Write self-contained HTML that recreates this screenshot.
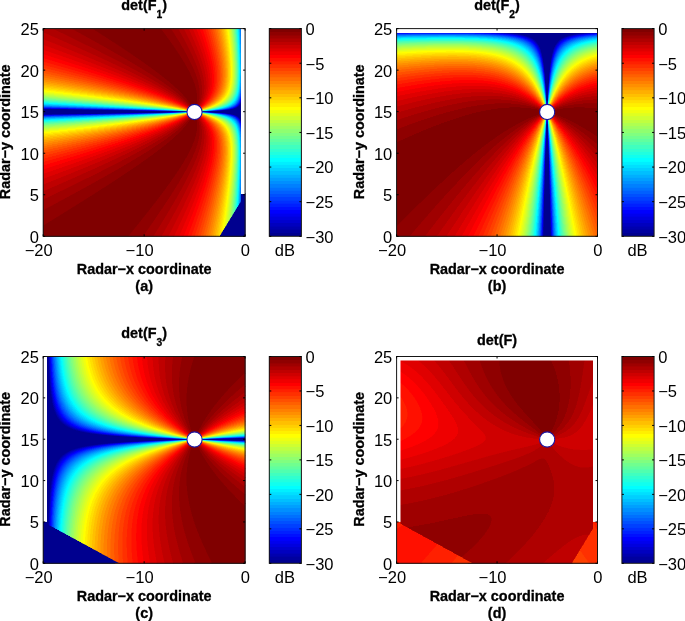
<!DOCTYPE html>
<html><head><meta charset="utf-8"><style>
html,body{margin:0;padding:0;background:#fff;}
body{width:685px;height:621px;position:relative;overflow:hidden;}
canvas{position:absolute;display:block;}
svg{position:absolute;left:0;top:0;}
.ax{fill:none;stroke:#151515;stroke-width:1;}
.tk{stroke:#000;stroke-width:1;}
.tl{font-family:"Liberation Sans",Arial,sans-serif;font-size:15.6px;fill:#000;}
.lb{font-family:"Liberation Sans",Arial,sans-serif;font-size:14.4px;font-weight:bold;fill:#000;stroke:#000;stroke-width:0.3px;}
.sub{font-size:10.3px;}
.mk{fill:#fff;stroke:#1a14a0;stroke-width:1.1;}
</style></head><body>
<svg width="685" height="621" viewBox="0 0 685 621"><path fill="#af0000" d="M43.2 28.6h17.2v4.7h-17.2zM177.8 28.6h8.8v4.7h-8.8zM51.6 32.9h17.2v4.7h-17.2zM182.0 32.9h4.6v4.7h-4.6zM60.0 37.3h17.2v4.7h-17.2zM186.2 37.3h4.6v4.7h-4.6zM68.4 41.6h17.2v4.7h-17.2zM186.2 41.6h4.6v4.7h-4.6zM81.1 45.9h13.0v4.7h-13.0zM190.4 45.9h4.6v4.7h-4.6zM89.5 50.2h13.0v4.7h-13.0zM190.4 50.2h4.6v4.7h-4.6zM97.9 54.6h13.0v4.7h-13.0zM194.6 54.6h4.6v4.7h-4.6zM106.3 58.9h13.0v4.7h-13.0zM194.6 58.9h4.6v4.7h-4.6zM118.9 63.2h8.8v4.7h-8.8zM194.6 63.2h4.6v4.7h-4.6zM127.3 67.5h8.8v4.7h-8.8zM198.8 67.5h4.6v4.7h-4.6zM135.7 71.9h8.8v4.7h-8.8zM198.8 71.9h4.6v4.7h-4.6zM144.1 76.2h8.8v4.7h-8.8zM198.8 76.2h4.6v4.7h-4.6zM152.6 80.5h4.6v4.7h-4.6zM161.0 84.9h4.6v4.7h-4.6zM169.4 89.2h4.6v4.7h-4.6zM173.6 93.5h4.6v4.7h-4.6zM198.8 97.8h4.6v4.7h-4.6zM194.6 106.5h4.6v4.7h-4.6zM182.0 119.5h4.6v4.7h-4.6zM198.8 119.5h4.6v4.7h-4.6zM177.8 123.8h4.6v4.7h-4.6zM169.4 128.1h4.6v4.7h-4.6zM165.2 132.4h4.6v4.7h-4.6zM156.8 136.8h4.6v4.7h-4.6zM148.4 141.1h4.6v4.7h-4.6zM139.9 145.4h4.6v4.7h-4.6zM198.8 145.4h4.6v4.7h-4.6zM131.5 149.8h8.8v4.7h-8.8zM198.8 149.8h4.6v4.7h-4.6zM123.1 154.1h8.8v4.7h-8.8zM110.5 158.4h13.0v4.7h-13.0zM194.6 158.4h4.6v4.7h-4.6zM102.1 162.7h13.0v4.7h-13.0zM194.6 162.7h4.6v4.7h-4.6zM93.7 167.1h13.0v4.7h-13.0zM190.4 167.1h4.6v4.7h-4.6zM85.3 171.4h13.0v4.7h-13.0zM190.4 171.4h4.6v4.7h-4.6zM72.6 175.7h17.2v4.7h-17.2zM186.2 175.7h4.6v4.7h-4.6zM64.2 180.0h17.2v4.7h-17.2zM186.2 180.0h4.6v4.7h-4.6zM55.8 184.4h17.2v4.7h-17.2zM182.0 184.4h4.6v4.7h-4.6zM43.2 188.7h17.2v4.7h-17.2zM182.0 188.7h4.6v4.7h-4.6zM43.2 193.0h8.8v4.7h-8.8zM177.8 193.0h4.6v4.7h-4.6zM177.8 197.4h4.6v4.7h-4.6zM173.6 201.7h4.6v4.7h-4.6zM169.4 206.0h8.8v4.7h-8.8zM169.4 210.3h4.6v4.7h-4.6zM165.2 214.7h8.8v4.7h-8.8zM161.0 219.0h8.8v4.7h-8.8zM161.0 223.3h8.8v4.7h-8.8zM156.8 227.6h8.8v4.7h-8.8zM156.8 232.0h4.6v4.7h-4.6z"/><path fill="#9f0000" d="M60.0 28.6h17.2v4.7h-17.2zM173.6 28.6h4.6v4.7h-4.6zM68.4 32.9h17.2v4.7h-17.2zM173.6 32.9h8.8v4.7h-8.8zM76.8 37.3h17.2v4.7h-17.2zM177.8 37.3h8.8v4.7h-8.8zM85.3 41.6h13.0v4.7h-13.0zM182.0 41.6h4.6v4.7h-4.6zM93.7 45.9h13.0v4.7h-13.0zM182.0 45.9h8.8v4.7h-8.8zM102.1 50.2h13.0v4.7h-13.0zM186.2 50.2h4.6v4.7h-4.6zM110.5 54.6h13.0v4.7h-13.0zM186.2 54.6h8.8v4.7h-8.8zM118.9 58.9h13.0v4.7h-13.0zM190.4 58.9h4.6v4.7h-4.6zM127.3 63.2h8.8v4.7h-8.8zM190.4 63.2h4.6v4.7h-4.6zM135.7 67.5h8.8v4.7h-8.8zM194.6 67.5h4.6v4.7h-4.6zM144.1 71.9h8.8v4.7h-8.8zM194.6 71.9h4.6v4.7h-4.6zM152.6 76.2h4.6v4.7h-4.6zM156.8 80.5h8.8v4.7h-8.8zM198.8 80.5h4.6v4.7h-4.6zM165.2 84.9h4.6v4.7h-4.6zM198.8 84.9h4.6v4.7h-4.6zM198.8 89.2h4.6v4.7h-4.6zM177.8 93.5h4.6v4.7h-4.6zM198.8 93.5h4.6v4.7h-4.6zM182.0 97.8h4.6v4.7h-4.6zM186.2 102.2h4.6v4.7h-4.6zM190.4 106.5h4.6v4.7h-4.6zM198.8 123.8h4.6v4.7h-4.6zM173.6 128.1h4.6v4.7h-4.6zM198.8 128.1h4.6v4.7h-4.6zM169.4 132.4h4.6v4.7h-4.6zM198.8 132.4h4.6v4.7h-4.6zM161.0 136.8h4.6v4.7h-4.6zM198.8 136.8h4.6v4.7h-4.6zM152.6 141.1h8.8v4.7h-8.8zM198.8 141.1h4.6v4.7h-4.6zM144.1 145.4h8.8v4.7h-8.8zM194.6 145.4h4.6v4.7h-4.6zM139.9 149.8h8.8v4.7h-8.8zM194.6 149.8h4.6v4.7h-4.6zM131.5 154.1h8.8v4.7h-8.8zM194.6 154.1h4.6v4.7h-4.6zM123.1 158.4h8.8v4.7h-8.8zM190.4 158.4h4.6v4.7h-4.6zM114.7 162.7h13.0v4.7h-13.0zM190.4 162.7h4.6v4.7h-4.6zM106.3 167.1h13.0v4.7h-13.0zM186.2 167.1h4.6v4.7h-4.6zM97.9 171.4h13.0v4.7h-13.0zM186.2 171.4h4.6v4.7h-4.6zM89.5 175.7h13.0v4.7h-13.0zM182.0 175.7h4.6v4.7h-4.6zM81.1 180.0h13.0v4.7h-13.0zM177.8 180.0h8.8v4.7h-8.8zM72.6 184.4h13.0v4.7h-13.0zM177.8 184.4h4.6v4.7h-4.6zM60.0 188.7h21.4v4.7h-21.4zM173.6 188.7h8.8v4.7h-8.8zM51.6 193.0h21.4v4.7h-21.4zM169.4 193.0h8.8v4.7h-8.8zM43.2 197.4h21.4v4.7h-21.4zM169.4 197.4h8.8v4.7h-8.8zM43.2 201.7h13.0v4.7h-13.0zM165.2 201.7h8.8v4.7h-8.8zM43.2 206.0h4.6v4.7h-4.6zM161.0 206.0h8.8v4.7h-8.8zM161.0 210.3h8.8v4.7h-8.8zM156.8 214.7h8.8v4.7h-8.8zM152.6 219.0h8.8v4.7h-8.8zM152.6 223.3h8.8v4.7h-8.8zM148.4 227.6h8.8v4.7h-8.8zM144.1 232.0h13.0v4.7h-13.0z"/><path fill="#8f0000" d="M76.8 28.6h21.4v4.7h-21.4zM161.0 28.6h13.0v4.7h-13.0zM85.3 32.9h17.2v4.7h-17.2zM165.2 32.9h8.8v4.7h-8.8zM93.7 37.3h17.2v4.7h-17.2zM169.4 37.3h8.8v4.7h-8.8zM97.9 41.6h17.2v4.7h-17.2zM173.6 41.6h8.8v4.7h-8.8zM106.3 45.9h17.2v4.7h-17.2zM173.6 45.9h8.8v4.7h-8.8zM114.7 50.2h17.2v4.7h-17.2zM177.8 50.2h8.8v4.7h-8.8zM123.1 54.6h13.0v4.7h-13.0zM182.0 54.6h4.6v4.7h-4.6zM131.5 58.9h13.0v4.7h-13.0zM182.0 58.9h8.8v4.7h-8.8zM135.7 63.2h13.0v4.7h-13.0zM186.2 63.2h4.6v4.7h-4.6zM144.1 67.5h8.8v4.7h-8.8zM190.4 67.5h4.6v4.7h-4.6zM152.6 71.9h8.8v4.7h-8.8zM190.4 71.9h4.6v4.7h-4.6zM156.8 76.2h8.8v4.7h-8.8zM194.6 76.2h4.6v4.7h-4.6zM165.2 80.5h4.6v4.7h-4.6zM194.6 80.5h4.6v4.7h-4.6zM169.4 84.9h4.6v4.7h-4.6zM194.6 84.9h4.6v4.7h-4.6zM173.6 89.2h8.8v4.7h-8.8zM194.6 89.2h4.6v4.7h-4.6zM194.6 115.1h4.6v4.7h-4.6zM186.2 119.5h4.6v4.7h-4.6zM182.0 123.8h4.6v4.7h-4.6zM177.8 128.1h4.6v4.7h-4.6zM173.6 132.4h4.6v4.7h-4.6zM194.6 132.4h4.6v4.7h-4.6zM165.2 136.8h8.8v4.7h-8.8zM194.6 136.8h4.6v4.7h-4.6zM161.0 141.1h8.8v4.7h-8.8zM194.6 141.1h4.6v4.7h-4.6zM152.6 145.4h8.8v4.7h-8.8zM190.4 145.4h4.6v4.7h-4.6zM148.4 149.8h8.8v4.7h-8.8zM190.4 149.8h4.6v4.7h-4.6zM139.9 154.1h13.0v4.7h-13.0zM186.2 154.1h8.8v4.7h-8.8zM131.5 158.4h13.0v4.7h-13.0zM186.2 158.4h4.6v4.7h-4.6zM127.3 162.7h13.0v4.7h-13.0zM182.0 162.7h8.8v4.7h-8.8zM118.9 167.1h13.0v4.7h-13.0zM177.8 167.1h8.8v4.7h-8.8zM110.5 171.4h17.2v4.7h-17.2zM177.8 171.4h8.8v4.7h-8.8zM102.1 175.7h17.2v4.7h-17.2zM173.6 175.7h8.8v4.7h-8.8zM93.7 180.0h17.2v4.7h-17.2zM169.4 180.0h8.8v4.7h-8.8zM85.3 184.4h21.4v4.7h-21.4zM169.4 184.4h8.8v4.7h-8.8zM81.1 188.7h17.2v4.7h-17.2zM165.2 188.7h8.8v4.7h-8.8zM72.6 193.0h21.4v4.7h-21.4zM161.0 193.0h8.8v4.7h-8.8zM64.2 197.4h21.4v4.7h-21.4zM156.8 197.4h13.0v4.7h-13.0zM55.8 201.7h21.4v4.7h-21.4zM152.6 201.7h13.0v4.7h-13.0zM47.4 206.0h25.6v4.7h-25.6zM152.6 206.0h8.8v4.7h-8.8zM43.2 210.3h21.4v4.7h-21.4zM148.4 210.3h13.0v4.7h-13.0zM43.2 214.7h17.2v4.7h-17.2zM144.1 214.7h13.0v4.7h-13.0zM43.2 219.0h8.8v4.7h-8.8zM139.9 219.0h13.0v4.7h-13.0zM135.7 223.3h17.2v4.7h-17.2zM135.7 227.6h13.0v4.7h-13.0zM131.5 232.0h13.0v4.7h-13.0z"/><path fill="#800000" d="M97.9 28.6h63.5v4.7h-63.5zM102.1 32.9h63.5v4.7h-63.5zM110.5 37.3h59.3v4.7h-59.3zM114.7 41.6h59.3v4.7h-59.3zM123.1 45.9h50.9v4.7h-50.9zM131.5 50.2h46.7v4.7h-46.7zM135.7 54.6h46.7v4.7h-46.7zM144.1 58.9h38.3v4.7h-38.3zM148.4 63.2h38.3v4.7h-38.3zM152.6 67.5h38.3v4.7h-38.3zM161.0 71.9h29.8v4.7h-29.8zM165.2 76.2h29.8v4.7h-29.8zM169.4 80.5h25.6v4.7h-25.6zM173.6 84.9h21.4v4.7h-21.4zM182.0 89.2h13.0v4.7h-13.0zM182.0 93.5h17.2v4.7h-17.2zM186.2 97.8h13.0v4.7h-13.0zM190.4 102.2h8.8v4.7h-8.8zM190.4 115.1h4.6v4.7h-4.6zM190.4 119.5h8.8v4.7h-8.8zM186.2 123.8h13.0v4.7h-13.0zM182.0 128.1h17.2v4.7h-17.2zM177.8 132.4h17.2v4.7h-17.2zM173.6 136.8h21.4v4.7h-21.4zM169.4 141.1h25.6v4.7h-25.6zM161.0 145.4h29.8v4.7h-29.8zM156.8 149.8h34.0v4.7h-34.0zM152.6 154.1h34.0v4.7h-34.0zM144.1 158.4h42.5v4.7h-42.5zM139.9 162.7h42.5v4.7h-42.5zM131.5 167.1h46.7v4.7h-46.7zM127.3 171.4h50.9v4.7h-50.9zM118.9 175.7h55.1v4.7h-55.1zM110.5 180.0h59.3v4.7h-59.3zM106.3 184.4h63.5v4.7h-63.5zM97.9 188.7h67.7v4.7h-67.7zM93.7 193.0h67.7v4.7h-67.7zM85.3 197.4h71.9v4.7h-71.9zM76.8 201.7h76.1v4.7h-76.1zM72.6 206.0h80.3v4.7h-80.3zM64.2 210.3h84.5v4.7h-84.5zM60.0 214.7h84.5v4.7h-84.5zM51.6 219.0h88.7v4.7h-88.7zM43.2 223.3h92.9v4.7h-92.9zM43.2 227.6h92.9v4.7h-92.9zM43.2 232.0h88.7v4.7h-88.7z"/><path fill="#bf0000" d="M186.2 28.6h4.6v4.7h-4.6zM43.2 32.9h8.8v4.7h-8.8zM186.2 32.9h4.6v4.7h-4.6zM43.2 37.3h17.2v4.7h-17.2zM190.4 37.3h4.6v4.7h-4.6zM55.8 41.6h13.0v4.7h-13.0zM190.4 41.6h4.6v4.7h-4.6zM68.4 45.9h13.0v4.7h-13.0zM194.6 45.9h4.6v4.7h-4.6zM76.8 50.2h13.0v4.7h-13.0zM194.6 50.2h4.6v4.7h-4.6zM89.5 54.6h8.8v4.7h-8.8zM97.9 58.9h8.8v4.7h-8.8zM198.8 58.9h4.6v4.7h-4.6zM106.3 63.2h13.0v4.7h-13.0zM198.8 63.2h4.6v4.7h-4.6zM118.9 67.5h8.8v4.7h-8.8zM127.3 71.9h8.8v4.7h-8.8zM203.0 71.9h4.6v4.7h-4.6zM135.7 76.2h8.8v4.7h-8.8zM203.0 76.2h4.6v4.7h-4.6zM148.4 80.5h4.6v4.7h-4.6zM203.0 80.5h4.6v4.7h-4.6zM156.8 84.9h4.6v4.7h-4.6zM203.0 84.9h4.6v4.7h-4.6zM165.2 89.2h4.6v4.7h-4.6zM203.0 89.2h4.6v4.7h-4.6zM177.8 97.8h4.6v4.7h-4.6zM186.2 115.1h4.6v4.7h-4.6zM173.6 123.8h4.6v4.7h-4.6zM203.0 128.1h4.6v4.7h-4.6zM161.0 132.4h4.6v4.7h-4.6zM203.0 132.4h4.6v4.7h-4.6zM152.6 136.8h4.6v4.7h-4.6zM203.0 136.8h4.6v4.7h-4.6zM139.9 141.1h8.8v4.7h-8.8zM203.0 141.1h4.6v4.7h-4.6zM131.5 145.4h8.8v4.7h-8.8zM203.0 145.4h4.6v4.7h-4.6zM123.1 149.8h8.8v4.7h-8.8zM110.5 154.1h13.0v4.7h-13.0zM198.8 154.1h4.6v4.7h-4.6zM102.1 158.4h8.8v4.7h-8.8zM198.8 158.4h4.6v4.7h-4.6zM93.7 162.7h8.8v4.7h-8.8zM198.8 162.7h4.6v4.7h-4.6zM81.1 167.1h13.0v4.7h-13.0zM194.6 167.1h4.6v4.7h-4.6zM72.6 171.4h13.0v4.7h-13.0zM194.6 171.4h4.6v4.7h-4.6zM60.0 175.7h13.0v4.7h-13.0zM190.4 175.7h4.6v4.7h-4.6zM51.6 180.0h13.0v4.7h-13.0zM190.4 180.0h4.6v4.7h-4.6zM43.2 184.4h13.0v4.7h-13.0zM186.2 184.4h8.8v4.7h-8.8zM186.2 188.7h4.6v4.7h-4.6zM182.0 193.0h8.8v4.7h-8.8zM182.0 197.4h4.6v4.7h-4.6zM177.8 201.7h8.8v4.7h-8.8zM177.8 206.0h4.6v4.7h-4.6zM173.6 210.3h8.8v4.7h-8.8zM173.6 214.7h4.6v4.7h-4.6zM169.4 219.0h8.8v4.7h-8.8zM169.4 223.3h4.6v4.7h-4.6zM165.2 227.6h8.8v4.7h-8.8zM161.0 232.0h8.8v4.7h-8.8z"/><path fill="#cf0000" d="M190.4 28.6h4.6v4.7h-4.6zM190.4 32.9h4.6v4.7h-4.6zM194.6 37.3h4.6v4.7h-4.6zM43.2 41.6h13.0v4.7h-13.0zM194.6 41.6h4.6v4.7h-4.6zM51.6 45.9h17.2v4.7h-17.2zM64.2 50.2h13.0v4.7h-13.0zM198.8 50.2h4.6v4.7h-4.6zM76.8 54.6h13.0v4.7h-13.0zM198.8 54.6h4.6v4.7h-4.6zM89.5 58.9h8.8v4.7h-8.8zM97.9 63.2h8.8v4.7h-8.8zM203.0 63.2h4.6v4.7h-4.6zM110.5 67.5h8.8v4.7h-8.8zM203.0 67.5h4.6v4.7h-4.6zM118.9 71.9h8.8v4.7h-8.8zM131.5 76.2h4.6v4.7h-4.6zM139.9 80.5h8.8v4.7h-8.8zM152.6 84.9h4.6v4.7h-4.6zM161.0 89.2h4.6v4.7h-4.6zM169.4 93.5h4.6v4.7h-4.6zM203.0 93.5h4.6v4.7h-4.6zM198.8 102.2h4.6v4.7h-4.6zM203.0 123.8h4.6v4.7h-4.6zM165.2 128.1h4.6v4.7h-4.6zM156.8 132.4h4.6v4.7h-4.6zM144.1 136.8h8.8v4.7h-8.8zM135.7 141.1h4.6v4.7h-4.6zM123.1 145.4h8.8v4.7h-8.8zM114.7 149.8h8.8v4.7h-8.8zM203.0 149.8h4.6v4.7h-4.6zM102.1 154.1h8.8v4.7h-8.8zM203.0 154.1h4.6v4.7h-4.6zM93.7 158.4h8.8v4.7h-8.8zM203.0 158.4h4.6v4.7h-4.6zM81.1 162.7h13.0v4.7h-13.0zM68.4 167.1h13.0v4.7h-13.0zM198.8 167.1h4.6v4.7h-4.6zM55.8 171.4h17.2v4.7h-17.2zM198.8 171.4h4.6v4.7h-4.6zM47.4 175.7h13.0v4.7h-13.0zM194.6 175.7h4.6v4.7h-4.6zM43.2 180.0h8.8v4.7h-8.8zM194.6 180.0h4.6v4.7h-4.6zM190.4 188.7h4.6v4.7h-4.6zM190.4 193.0h4.6v4.7h-4.6zM186.2 197.4h4.6v4.7h-4.6zM186.2 201.7h4.6v4.7h-4.6zM182.0 206.0h4.6v4.7h-4.6zM182.0 210.3h4.6v4.7h-4.6zM177.8 214.7h4.6v4.7h-4.6zM177.8 219.0h4.6v4.7h-4.6zM173.6 223.3h4.6v4.7h-4.6zM173.6 227.6h4.6v4.7h-4.6zM169.4 232.0h4.6v4.7h-4.6z"/><path fill="#df0000" d="M194.6 28.6h4.6v4.7h-4.6zM194.6 32.9h4.6v4.7h-4.6zM198.8 41.6h4.6v4.7h-4.6zM43.2 45.9h8.8v4.7h-8.8zM198.8 45.9h4.6v4.7h-4.6zM51.6 50.2h13.0v4.7h-13.0zM64.2 54.6h13.0v4.7h-13.0zM203.0 54.6h4.6v4.7h-4.6zM76.8 58.9h13.0v4.7h-13.0zM203.0 58.9h4.6v4.7h-4.6zM89.5 63.2h8.8v4.7h-8.8zM102.1 67.5h8.8v4.7h-8.8zM207.2 67.5h4.6v4.7h-4.6zM114.7 71.9h4.6v4.7h-4.6zM207.2 71.9h4.6v4.7h-4.6zM123.1 76.2h8.8v4.7h-8.8zM207.2 76.2h4.6v4.7h-4.6zM135.7 80.5h4.6v4.7h-4.6zM207.2 80.5h4.6v4.7h-4.6zM148.4 84.9h4.6v4.7h-4.6zM207.2 84.9h4.6v4.7h-4.6zM156.8 89.2h4.6v4.7h-4.6zM165.2 93.5h4.6v4.7h-4.6zM173.6 97.8h4.6v4.7h-4.6zM203.0 97.8h4.6v4.7h-4.6zM182.0 102.2h4.6v4.7h-4.6zM177.8 119.5h4.6v4.7h-4.6zM169.4 123.8h4.6v4.7h-4.6zM161.0 128.1h4.6v4.7h-4.6zM152.6 132.4h4.6v4.7h-4.6zM207.2 132.4h4.6v4.7h-4.6zM139.9 136.8h4.6v4.7h-4.6zM207.2 136.8h4.6v4.7h-4.6zM127.3 141.1h8.8v4.7h-8.8zM207.2 141.1h4.6v4.7h-4.6zM118.9 145.4h4.6v4.7h-4.6zM207.2 145.4h4.6v4.7h-4.6zM106.3 149.8h8.8v4.7h-8.8zM207.2 149.8h4.6v4.7h-4.6zM93.7 154.1h8.8v4.7h-8.8zM81.1 158.4h13.0v4.7h-13.0zM68.4 162.7h13.0v4.7h-13.0zM203.0 162.7h4.6v4.7h-4.6zM55.8 167.1h13.0v4.7h-13.0zM203.0 167.1h4.6v4.7h-4.6zM43.2 171.4h13.0v4.7h-13.0zM43.2 175.7h4.6v4.7h-4.6zM198.8 175.7h4.6v4.7h-4.6zM198.8 180.0h4.6v4.7h-4.6zM194.6 184.4h4.6v4.7h-4.6zM194.6 188.7h4.6v4.7h-4.6zM190.4 197.4h4.6v4.7h-4.6zM190.4 201.7h4.6v4.7h-4.6zM186.2 206.0h4.6v4.7h-4.6zM186.2 210.3h4.6v4.7h-4.6zM182.0 214.7h4.6v4.7h-4.6zM182.0 219.0h4.6v4.7h-4.6zM177.8 223.3h4.6v4.7h-4.6zM177.8 227.6h4.6v4.7h-4.6zM173.6 232.0h8.8v4.7h-8.8z"/><path fill="#ff0000" d="M198.8 28.6h4.6v4.7h-4.6zM203.0 37.3h4.6v4.7h-4.6zM203.0 41.6h4.6v4.7h-4.6zM207.2 50.2h4.6v4.7h-4.6zM43.2 54.6h8.8v4.7h-8.8zM207.2 54.6h4.6v4.7h-4.6zM55.8 58.9h8.8v4.7h-8.8zM68.4 63.2h8.8v4.7h-8.8zM81.1 67.5h13.0v4.7h-13.0zM97.9 71.9h8.8v4.7h-8.8zM211.4 71.9h4.6v4.7h-4.6zM110.5 76.2h8.8v4.7h-8.8zM211.4 76.2h4.6v4.7h-4.6zM123.1 80.5h8.8v4.7h-8.8zM211.4 80.5h4.6v4.7h-4.6zM135.7 84.9h4.6v4.7h-4.6zM148.4 89.2h4.6v4.7h-4.6zM161.0 93.5h4.6v4.7h-4.6zM207.2 93.5h4.6v4.7h-4.6zM169.4 97.8h4.6v4.7h-4.6zM173.6 119.5h4.6v4.7h-4.6zM165.2 123.8h4.6v4.7h-4.6zM207.2 123.8h4.6v4.7h-4.6zM152.6 128.1h4.6v4.7h-4.6zM139.9 132.4h4.6v4.7h-4.6zM127.3 136.8h8.8v4.7h-8.8zM211.4 136.8h4.6v4.7h-4.6zM114.7 141.1h8.8v4.7h-8.8zM211.4 141.1h4.6v4.7h-4.6zM102.1 145.4h8.8v4.7h-8.8zM211.4 145.4h4.6v4.7h-4.6zM89.5 149.8h8.8v4.7h-8.8zM211.4 149.8h4.6v4.7h-4.6zM72.6 154.1h13.0v4.7h-13.0zM60.0 158.4h13.0v4.7h-13.0zM47.4 162.7h8.8v4.7h-8.8zM207.2 162.7h4.6v4.7h-4.6zM207.2 167.1h4.6v4.7h-4.6zM203.0 180.0h4.6v4.7h-4.6zM203.0 184.4h4.6v4.7h-4.6zM198.8 193.0h4.6v4.7h-4.6zM198.8 197.4h4.6v4.7h-4.6zM194.6 201.7h4.6v4.7h-4.6zM194.6 206.0h4.6v4.7h-4.6zM190.4 214.7h4.6v4.7h-4.6zM190.4 219.0h4.6v4.7h-4.6zM186.2 223.3h4.6v4.7h-4.6zM186.2 227.6h4.6v4.7h-4.6zM186.2 232.0h4.6v4.7h-4.6z"/><path fill="#ff1000" d="M203.0 28.6h4.6v4.7h-4.6zM203.0 32.9h4.6v4.7h-4.6zM207.2 41.6h4.6v4.7h-4.6zM207.2 45.9h4.6v4.7h-4.6zM43.2 58.9h13.0v4.7h-13.0zM211.4 58.9h4.6v4.7h-4.6zM55.8 63.2h13.0v4.7h-13.0zM211.4 63.2h4.6v4.7h-4.6zM72.6 67.5h8.8v4.7h-8.8zM211.4 67.5h4.6v4.7h-4.6zM89.5 71.9h8.8v4.7h-8.8zM102.1 76.2h8.8v4.7h-8.8zM118.9 80.5h4.6v4.7h-4.6zM131.5 84.9h4.6v4.7h-4.6zM211.4 84.9h4.6v4.7h-4.6zM144.1 89.2h4.6v4.7h-4.6zM211.4 89.2h4.6v4.7h-4.6zM156.8 93.5h4.6v4.7h-4.6zM177.8 102.2h4.6v4.7h-4.6zM190.4 110.8h8.8v4.7h-8.8zM182.0 115.1h4.6v4.7h-4.6zM161.0 123.8h4.6v4.7h-4.6zM148.4 128.1h4.6v4.7h-4.6zM135.7 132.4h4.6v4.7h-4.6zM211.4 132.4h4.6v4.7h-4.6zM123.1 136.8h4.6v4.7h-4.6zM110.5 141.1h4.6v4.7h-4.6zM93.7 145.4h8.8v4.7h-8.8zM81.1 149.8h8.8v4.7h-8.8zM64.2 154.1h8.8v4.7h-8.8zM211.4 154.1h4.6v4.7h-4.6zM47.4 158.4h13.0v4.7h-13.0zM211.4 158.4h4.6v4.7h-4.6zM43.2 162.7h4.6v4.7h-4.6zM207.2 171.4h4.6v4.7h-4.6zM207.2 175.7h4.6v4.7h-4.6zM203.0 188.7h4.6v4.7h-4.6zM203.0 193.0h4.6v4.7h-4.6zM198.8 201.7h4.6v4.7h-4.6zM198.8 206.0h4.6v4.7h-4.6zM194.6 210.3h4.6v4.7h-4.6zM194.6 214.7h4.6v4.7h-4.6zM194.6 219.0h4.6v4.7h-4.6zM190.4 223.3h4.6v4.7h-4.6zM190.4 227.6h4.6v4.7h-4.6z"/><path fill="#ff3000" d="M207.2 28.6h4.6v4.7h-4.6zM211.4 41.6h4.6v4.7h-4.6zM211.4 45.9h4.6v4.7h-4.6zM43.2 63.2h4.6v4.7h-4.6zM215.7 63.2h4.6v4.7h-4.6zM51.6 67.5h13.0v4.7h-13.0zM215.7 67.5h4.6v4.7h-4.6zM68.4 71.9h13.0v4.7h-13.0zM215.7 71.9h4.6v4.7h-4.6zM85.3 76.2h8.8v4.7h-8.8zM215.7 76.2h4.6v4.7h-4.6zM102.1 80.5h8.8v4.7h-8.8zM215.7 80.5h4.6v4.7h-4.6zM118.9 84.9h8.8v4.7h-8.8zM135.7 89.2h4.6v4.7h-4.6zM211.4 93.5h4.6v4.7h-4.6zM186.2 106.5h4.6v4.7h-4.6zM169.4 119.5h4.6v4.7h-4.6zM156.8 123.8h4.6v4.7h-4.6zM139.9 128.1h4.6v4.7h-4.6zM127.3 132.4h4.6v4.7h-4.6zM110.5 136.8h4.6v4.7h-4.6zM215.7 136.8h4.6v4.7h-4.6zM93.7 141.1h8.8v4.7h-8.8zM215.7 141.1h4.6v4.7h-4.6zM76.8 145.4h8.8v4.7h-8.8zM215.7 145.4h4.6v4.7h-4.6zM60.0 149.8h8.8v4.7h-8.8zM215.7 149.8h4.6v4.7h-4.6zM43.2 154.1h8.8v4.7h-8.8zM215.7 154.1h4.6v4.7h-4.6zM211.4 171.4h4.6v4.7h-4.6zM211.4 175.7h4.6v4.7h-4.6zM207.2 188.7h4.6v4.7h-4.6zM207.2 193.0h4.6v4.7h-4.6zM203.0 206.0h4.6v4.7h-4.6zM198.8 219.0h4.6v4.7h-4.6zM198.8 223.3h4.6v4.7h-4.6zM194.6 232.0h4.6v4.7h-4.6z"/><path fill="#ff5000" d="M211.4 28.6h4.6v4.7h-4.6zM215.7 45.9h4.6v4.7h-4.6zM215.7 50.2h4.6v4.7h-4.6zM47.4 71.9h13.0v4.7h-13.0zM68.4 76.2h8.8v4.7h-8.8zM89.5 80.5h8.8v4.7h-8.8zM106.3 84.9h8.8v4.7h-8.8zM127.3 89.2h4.6v4.7h-4.6zM215.7 89.2h4.6v4.7h-4.6zM144.1 93.5h4.6v4.7h-4.6zM173.6 102.2h4.6v4.7h-4.6zM198.8 106.5h4.6v4.7h-4.6zM177.8 115.1h4.6v4.7h-4.6zM203.0 115.1h4.6v4.7h-4.6zM165.2 119.5h4.6v4.7h-4.6zM148.4 123.8h4.6v4.7h-4.6zM131.5 128.1h4.6v4.7h-4.6zM215.7 128.1h4.6v4.7h-4.6zM114.7 132.4h4.6v4.7h-4.6zM97.9 136.8h4.6v4.7h-4.6zM76.8 141.1h8.8v4.7h-8.8zM55.8 145.4h13.0v4.7h-13.0zM43.2 149.8h4.6v4.7h-4.6zM215.7 171.4h4.6v4.7h-4.6zM211.4 188.7h4.6v4.7h-4.6zM211.4 193.0h4.6v4.7h-4.6zM207.2 206.0h4.6v4.7h-4.6zM207.2 210.3h4.6v4.7h-4.6zM203.0 219.0h4.6v4.7h-4.6zM203.0 223.3h4.6v4.7h-4.6zM203.0 227.6h4.6v4.7h-4.6z"/><path fill="#ff7000" d="M215.7 28.6h4.6v4.7h-4.6zM215.7 32.9h4.6v4.7h-4.6zM219.9 54.6h4.6v4.7h-4.6zM219.9 58.9h4.6v4.7h-4.6zM51.6 76.2h8.8v4.7h-8.8zM72.6 80.5h8.8v4.7h-8.8zM93.7 84.9h8.8v4.7h-8.8zM219.9 84.9h4.6v4.7h-4.6zM114.7 89.2h4.6v4.7h-4.6zM135.7 93.5h4.6v4.7h-4.6zM215.7 93.5h4.6v4.7h-4.6zM152.6 97.8h4.6v4.7h-4.6zM169.4 102.2h4.6v4.7h-4.6zM207.2 102.2h4.6v4.7h-4.6zM161.0 119.5h4.6v4.7h-4.6zM144.1 123.8h4.6v4.7h-4.6zM123.1 128.1h4.6v4.7h-4.6zM102.1 132.4h8.8v4.7h-8.8zM81.1 136.8h8.8v4.7h-8.8zM219.9 136.8h4.6v4.7h-4.6zM60.0 141.1h8.8v4.7h-8.8zM43.2 145.4h4.6v4.7h-4.6zM219.9 158.4h4.6v4.7h-4.6zM219.9 162.7h4.6v4.7h-4.6zM219.9 167.1h4.6v4.7h-4.6zM215.7 184.4h4.6v4.7h-4.6zM215.7 188.7h4.6v4.7h-4.6zM211.4 206.0h4.6v4.7h-4.6zM211.4 210.3h4.6v4.7h-4.6zM207.2 223.3h4.6v4.7h-4.6zM207.2 227.6h4.6v4.7h-4.6z"/><path fill="#ff9f00" d="M219.9 28.6h4.6v4.7h-4.6zM219.9 32.9h4.6v4.7h-4.6zM224.1 58.9h4.6v4.7h-4.6zM224.1 63.2h4.6v4.7h-4.6zM224.1 67.5h4.6v4.7h-4.6zM224.1 71.9h4.6v4.7h-4.6zM224.1 76.2h4.6v4.7h-4.6zM43.2 80.5h8.8v4.7h-8.8zM224.1 80.5h4.6v4.7h-4.6zM68.4 84.9h8.8v4.7h-8.8zM93.7 89.2h8.8v4.7h-8.8zM118.9 93.5h8.8v4.7h-8.8zM144.1 97.8h4.6v4.7h-4.6zM215.7 97.8h4.6v4.7h-4.6zM165.2 102.2h4.6v4.7h-4.6zM182.0 106.5h4.6v4.7h-4.6zM152.6 119.5h4.6v4.7h-4.6zM131.5 123.8h4.6v4.7h-4.6zM106.3 128.1h4.6v4.7h-4.6zM81.1 132.4h8.8v4.7h-8.8zM51.6 136.8h13.0v4.7h-13.0zM224.1 141.1h4.6v4.7h-4.6zM224.1 145.4h4.6v4.7h-4.6zM224.1 149.8h4.6v4.7h-4.6zM224.1 154.1h4.6v4.7h-4.6zM224.1 158.4h4.6v4.7h-4.6zM219.9 188.7h4.6v4.7h-4.6zM215.7 210.3h4.6v4.7h-4.6zM215.7 214.7h4.6v4.7h-4.6zM211.4 227.6h4.6v4.7h-4.6zM211.4 232.0h4.6v4.7h-4.6z"/><path fill="#ffdf00" d="M224.1 28.6h4.6v4.7h-4.6zM228.3 67.5h4.6v4.7h-4.6zM228.3 71.9h4.6v4.7h-4.6zM64.2 89.2h8.8v4.7h-8.8zM97.9 93.5h4.6v4.7h-4.6zM127.3 97.8h4.6v4.7h-4.6zM203.0 106.5h4.6v4.7h-4.6zM165.2 115.1h4.6v4.7h-4.6zM139.9 119.5h4.6v4.7h-4.6zM110.5 123.8h4.6v4.7h-4.6zM76.8 128.1h8.8v4.7h-8.8zM224.1 128.1h4.6v4.7h-4.6zM43.2 132.4h13.0v4.7h-13.0zM228.3 145.4h4.6v4.7h-4.6zM228.3 149.8h4.6v4.7h-4.6zM228.3 154.1h4.6v4.7h-4.6zM224.1 188.7h4.6v4.7h-4.6zM224.1 193.0h4.6v4.7h-4.6zM219.9 219.0h4.6v4.7h-4.6zM219.9 223.3h4.6v4.7h-4.6z"/><path fill="#dfff20" d="M228.3 28.6h4.6v4.7h-4.6zM228.3 32.9h4.6v4.7h-4.6zM228.3 89.2h4.6v4.7h-4.6zM64.2 93.5h8.8v4.7h-8.8zM106.3 97.8h4.6v4.7h-4.6zM144.1 102.2h4.6v4.7h-4.6zM156.8 115.1h4.6v4.7h-4.6zM123.1 119.5h4.6v4.7h-4.6zM81.1 123.8h8.8v4.7h-8.8zM43.2 128.1h8.8v4.7h-8.8zM228.3 184.4h4.6v4.7h-4.6zM228.3 188.7h4.6v4.7h-4.6zM224.1 219.0h4.6v4.7h-4.6zM224.1 223.3h4.6v4.7h-4.6z"/><path fill="#70ff8f" d="M232.5 28.6h4.6v4.7h-4.6zM232.5 89.2h4.6v4.7h-4.6zM55.8 97.8h8.8v4.7h-8.8zM228.3 97.8h4.6v4.7h-4.6zM114.7 102.2h4.6v4.7h-4.6zM165.2 106.5h4.6v4.7h-4.6zM182.0 110.8h4.6v4.7h-4.6zM135.7 115.1h4.6v4.7h-4.6zM81.1 119.5h4.6v4.7h-4.6zM232.5 193.0h4.6v4.7h-4.6zM232.5 197.4h4.6v4.7h-4.6z"/><path fill="#00dfff" d="M236.7 28.6h4.6v4.7h-4.6zM236.7 89.2h4.6v4.7h-4.6zM51.6 102.2h8.8v4.7h-8.8zM144.1 106.5h4.6v4.7h-4.6zM89.5 115.1h8.8v4.7h-8.8zM236.7 188.7h4.6v4.7h-4.6zM236.7 193.0h4.6v4.7h-4.6z"/><path fill="#fff" d="M240.9 28.6h4.6v4.7h-4.6zM240.9 32.9h4.6v4.7h-4.6zM240.9 37.3h4.6v4.7h-4.6zM240.9 41.6h4.6v4.7h-4.6zM240.9 45.9h4.6v4.7h-4.6zM240.9 50.2h4.6v4.7h-4.6zM240.9 54.6h4.6v4.7h-4.6zM240.9 58.9h4.6v4.7h-4.6zM240.9 63.2h4.6v4.7h-4.6zM240.9 67.5h4.6v4.7h-4.6zM240.9 71.9h4.6v4.7h-4.6zM240.9 76.2h4.6v4.7h-4.6zM240.9 80.5h4.6v4.7h-4.6zM240.9 84.9h4.6v4.7h-4.6zM240.9 89.2h4.6v4.7h-4.6zM240.9 93.5h4.6v4.7h-4.6zM240.9 97.8h4.6v4.7h-4.6zM240.9 102.2h4.6v4.7h-4.6zM240.9 106.5h4.6v4.7h-4.6zM240.9 110.8h4.6v4.7h-4.6zM240.9 115.1h4.6v4.7h-4.6zM240.9 119.5h4.6v4.7h-4.6zM240.9 123.8h4.6v4.7h-4.6zM240.9 128.1h4.6v4.7h-4.6zM240.9 132.4h4.6v4.7h-4.6zM240.9 136.8h4.6v4.7h-4.6zM240.9 141.1h4.6v4.7h-4.6zM240.9 145.4h4.6v4.7h-4.6zM240.9 149.8h4.6v4.7h-4.6zM240.9 154.1h4.6v4.7h-4.6zM240.9 158.4h4.6v4.7h-4.6zM240.9 162.7h4.6v4.7h-4.6zM240.9 167.1h4.6v4.7h-4.6zM240.9 171.4h4.6v4.7h-4.6zM240.9 175.7h4.6v4.7h-4.6zM240.9 180.0h4.6v4.7h-4.6zM240.9 184.4h4.6v4.7h-4.6zM240.9 188.7h4.6v4.7h-4.6z"/><path fill="#ef0000" d="M198.8 32.9h4.6v4.7h-4.6zM198.8 37.3h4.6v4.7h-4.6zM203.0 45.9h4.6v4.7h-4.6zM43.2 50.2h8.8v4.7h-8.8zM203.0 50.2h4.6v4.7h-4.6zM51.6 54.6h13.0v4.7h-13.0zM64.2 58.9h13.0v4.7h-13.0zM207.2 58.9h4.6v4.7h-4.6zM76.8 63.2h13.0v4.7h-13.0zM207.2 63.2h4.6v4.7h-4.6zM93.7 67.5h8.8v4.7h-8.8zM106.3 71.9h8.8v4.7h-8.8zM118.9 76.2h4.6v4.7h-4.6zM131.5 80.5h4.6v4.7h-4.6zM139.9 84.9h8.8v4.7h-8.8zM152.6 89.2h4.6v4.7h-4.6zM207.2 89.2h4.6v4.7h-4.6zM198.8 115.1h4.6v4.7h-4.6zM203.0 119.5h4.6v4.7h-4.6zM156.8 128.1h4.6v4.7h-4.6zM207.2 128.1h4.6v4.7h-4.6zM144.1 132.4h8.8v4.7h-8.8zM135.7 136.8h4.6v4.7h-4.6zM123.1 141.1h4.6v4.7h-4.6zM110.5 145.4h8.8v4.7h-8.8zM97.9 149.8h8.8v4.7h-8.8zM85.3 154.1h8.8v4.7h-8.8zM207.2 154.1h4.6v4.7h-4.6zM72.6 158.4h8.8v4.7h-8.8zM207.2 158.4h4.6v4.7h-4.6zM55.8 162.7h13.0v4.7h-13.0zM43.2 167.1h13.0v4.7h-13.0zM203.0 171.4h4.6v4.7h-4.6zM203.0 175.7h4.6v4.7h-4.6zM198.8 184.4h4.6v4.7h-4.6zM198.8 188.7h4.6v4.7h-4.6zM194.6 193.0h4.6v4.7h-4.6zM194.6 197.4h4.6v4.7h-4.6zM190.4 206.0h4.6v4.7h-4.6zM190.4 210.3h4.6v4.7h-4.6zM186.2 214.7h4.6v4.7h-4.6zM186.2 219.0h4.6v4.7h-4.6zM182.0 223.3h4.6v4.7h-4.6zM182.0 227.6h4.6v4.7h-4.6zM182.0 232.0h4.6v4.7h-4.6z"/><path fill="#ff2000" d="M207.2 32.9h4.6v4.7h-4.6zM207.2 37.3h4.6v4.7h-4.6zM211.4 50.2h4.6v4.7h-4.6zM211.4 54.6h4.6v4.7h-4.6zM47.4 63.2h8.8v4.7h-8.8zM64.2 67.5h8.8v4.7h-8.8zM81.1 71.9h8.8v4.7h-8.8zM93.7 76.2h8.8v4.7h-8.8zM110.5 80.5h8.8v4.7h-8.8zM127.3 84.9h4.6v4.7h-4.6zM139.9 89.2h4.6v4.7h-4.6zM152.6 93.5h4.6v4.7h-4.6zM165.2 97.8h4.6v4.7h-4.6zM207.2 97.8h4.6v4.7h-4.6zM203.0 102.2h4.6v4.7h-4.6zM144.1 128.1h4.6v4.7h-4.6zM211.4 128.1h4.6v4.7h-4.6zM131.5 132.4h4.6v4.7h-4.6zM114.7 136.8h8.8v4.7h-8.8zM102.1 141.1h8.8v4.7h-8.8zM85.3 145.4h8.8v4.7h-8.8zM68.4 149.8h13.0v4.7h-13.0zM51.6 154.1h13.0v4.7h-13.0zM43.2 158.4h4.6v4.7h-4.6zM211.4 162.7h4.6v4.7h-4.6zM211.4 167.1h4.6v4.7h-4.6zM207.2 180.0h4.6v4.7h-4.6zM207.2 184.4h4.6v4.7h-4.6zM203.0 197.4h4.6v4.7h-4.6zM203.0 201.7h4.6v4.7h-4.6zM198.8 210.3h4.6v4.7h-4.6zM198.8 214.7h4.6v4.7h-4.6zM194.6 223.3h4.6v4.7h-4.6zM194.6 227.6h4.6v4.7h-4.6zM190.4 232.0h4.6v4.7h-4.6z"/><path fill="#ff4000" d="M211.4 32.9h4.6v4.7h-4.6zM211.4 37.3h4.6v4.7h-4.6zM215.7 54.6h4.6v4.7h-4.6zM215.7 58.9h4.6v4.7h-4.6zM43.2 67.5h8.8v4.7h-8.8zM60.0 71.9h8.8v4.7h-8.8zM76.8 76.2h8.8v4.7h-8.8zM97.9 80.5h4.6v4.7h-4.6zM114.7 84.9h4.6v4.7h-4.6zM215.7 84.9h4.6v4.7h-4.6zM131.5 89.2h4.6v4.7h-4.6zM148.4 93.5h4.6v4.7h-4.6zM161.0 97.8h4.6v4.7h-4.6zM207.2 119.5h4.6v4.7h-4.6zM152.6 123.8h4.6v4.7h-4.6zM211.4 123.8h4.6v4.7h-4.6zM135.7 128.1h4.6v4.7h-4.6zM118.9 132.4h8.8v4.7h-8.8zM215.7 132.4h4.6v4.7h-4.6zM102.1 136.8h8.8v4.7h-8.8zM85.3 141.1h8.8v4.7h-8.8zM68.4 145.4h8.8v4.7h-8.8zM47.4 149.8h13.0v4.7h-13.0zM215.7 158.4h4.6v4.7h-4.6zM215.7 162.7h4.6v4.7h-4.6zM215.7 167.1h4.6v4.7h-4.6zM211.4 180.0h4.6v4.7h-4.6zM211.4 184.4h4.6v4.7h-4.6zM207.2 197.4h4.6v4.7h-4.6zM207.2 201.7h4.6v4.7h-4.6zM203.0 210.3h4.6v4.7h-4.6zM203.0 214.7h4.6v4.7h-4.6zM198.8 227.6h4.6v4.7h-4.6zM198.8 232.0h4.6v4.7h-4.6z"/><path fill="#ffcf00" d="M224.1 32.9h4.6v4.7h-4.6zM224.1 37.3h4.6v4.7h-4.6zM43.2 84.9h8.8v4.7h-8.8zM72.6 89.2h8.8v4.7h-8.8zM224.1 89.2h4.6v4.7h-4.6zM102.1 93.5h8.8v4.7h-8.8zM131.5 97.8h4.6v4.7h-4.6zM156.8 102.2h4.6v4.7h-4.6zM144.1 119.5h4.6v4.7h-4.6zM215.7 119.5h4.6v4.7h-4.6zM114.7 123.8h4.6v4.7h-4.6zM85.3 128.1h8.8v4.7h-8.8zM55.8 132.4h8.8v4.7h-8.8zM224.1 184.4h4.6v4.7h-4.6zM219.9 210.3h4.6v4.7h-4.6zM219.9 214.7h4.6v4.7h-4.6zM215.7 232.0h4.6v4.7h-4.6z"/><path fill="#80ff80" d="M232.5 32.9h4.6v4.7h-4.6zM64.2 97.8h8.8v4.7h-8.8zM118.9 102.2h4.6v4.7h-4.6zM139.9 115.1h4.6v4.7h-4.6zM85.3 119.5h8.8v4.7h-8.8zM232.5 184.4h4.6v4.7h-4.6zM232.5 188.7h4.6v4.7h-4.6z"/><path fill="#00efff" d="M236.7 32.9h4.6v4.7h-4.6zM236.7 37.3h4.6v4.7h-4.6zM60.0 102.2h8.8v4.7h-8.8zM228.3 102.2h4.6v4.7h-4.6zM148.4 106.5h4.6v4.7h-4.6zM97.9 115.1h4.6v4.7h-4.6zM236.7 132.4h4.6v4.7h-4.6zM236.7 180.0h4.6v4.7h-4.6zM236.7 184.4h4.6v4.7h-4.6z"/><path fill="#ff6000" d="M215.7 37.3h4.6v4.7h-4.6zM215.7 41.6h4.6v4.7h-4.6zM219.9 63.2h4.6v4.7h-4.6zM219.9 67.5h4.6v4.7h-4.6zM43.2 71.9h4.6v4.7h-4.6zM219.9 71.9h4.6v4.7h-4.6zM60.0 76.2h8.8v4.7h-8.8zM219.9 76.2h4.6v4.7h-4.6zM81.1 80.5h8.8v4.7h-8.8zM219.9 80.5h4.6v4.7h-4.6zM102.1 84.9h4.6v4.7h-4.6zM118.9 89.2h8.8v4.7h-8.8zM139.9 93.5h4.6v4.7h-4.6zM156.8 97.8h4.6v4.7h-4.6zM211.4 97.8h4.6v4.7h-4.6zM127.3 128.1h4.6v4.7h-4.6zM110.5 132.4h4.6v4.7h-4.6zM89.5 136.8h8.8v4.7h-8.8zM68.4 141.1h8.8v4.7h-8.8zM219.9 141.1h4.6v4.7h-4.6zM47.4 145.4h8.8v4.7h-8.8zM219.9 145.4h4.6v4.7h-4.6zM219.9 149.8h4.6v4.7h-4.6zM219.9 154.1h4.6v4.7h-4.6zM215.7 175.7h4.6v4.7h-4.6zM215.7 180.0h4.6v4.7h-4.6zM211.4 197.4h4.6v4.7h-4.6zM211.4 201.7h4.6v4.7h-4.6zM207.2 214.7h4.6v4.7h-4.6zM207.2 219.0h4.6v4.7h-4.6zM203.0 232.0h4.6v4.7h-4.6z"/><path fill="#ff8f00" d="M219.9 37.3h4.6v4.7h-4.6zM219.9 41.6h4.6v4.7h-4.6zM51.6 80.5h13.0v4.7h-13.0zM76.8 84.9h8.8v4.7h-8.8zM102.1 89.2h8.8v4.7h-8.8zM127.3 93.5h4.6v4.7h-4.6zM148.4 97.8h4.6v4.7h-4.6zM173.6 115.1h4.6v4.7h-4.6zM135.7 123.8h4.6v4.7h-4.6zM110.5 128.1h8.8v4.7h-8.8zM219.9 128.1h4.6v4.7h-4.6zM89.5 132.4h4.6v4.7h-4.6zM64.2 136.8h8.8v4.7h-8.8zM43.2 141.1h4.6v4.7h-4.6zM219.9 180.0h4.6v4.7h-4.6zM219.9 184.4h4.6v4.7h-4.6zM215.7 201.7h4.6v4.7h-4.6zM215.7 206.0h4.6v4.7h-4.6zM211.4 223.3h4.6v4.7h-4.6z"/><path fill="#efff10" d="M228.3 37.3h4.6v4.7h-4.6zM228.3 41.6h4.6v4.7h-4.6zM43.2 89.2h4.6v4.7h-4.6zM72.6 93.5h8.8v4.7h-8.8zM110.5 97.8h8.8v4.7h-8.8zM148.4 102.2h4.6v4.7h-4.6zM215.7 102.2h4.6v4.7h-4.6zM186.2 110.8h4.6v4.7h-4.6zM127.3 119.5h4.6v4.7h-4.6zM219.9 119.5h4.6v4.7h-4.6zM89.5 123.8h8.8v4.7h-8.8zM224.1 123.8h4.6v4.7h-4.6zM51.6 128.1h8.8v4.7h-8.8zM228.3 132.4h4.6v4.7h-4.6zM228.3 180.0h4.6v4.7h-4.6zM224.1 214.7h4.6v4.7h-4.6z"/><path fill="#8fff70" d="M232.5 37.3h4.6v4.7h-4.6zM232.5 41.6h4.6v4.7h-4.6zM232.5 84.9h4.6v4.7h-4.6zM72.6 97.8h8.8v4.7h-8.8zM123.1 102.2h4.6v4.7h-4.6zM169.4 106.5h4.6v4.7h-4.6zM144.1 115.1h4.6v4.7h-4.6zM93.7 119.5h4.6v4.7h-4.6zM43.2 123.8h4.6v4.7h-4.6zM232.5 132.4h4.6v4.7h-4.6zM232.5 175.7h4.6v4.7h-4.6zM232.5 180.0h4.6v4.7h-4.6z"/><path fill="#ffbf00" d="M224.1 41.6h4.6v4.7h-4.6zM224.1 45.9h4.6v4.7h-4.6zM51.6 84.9h8.8v4.7h-8.8zM81.1 89.2h8.8v4.7h-8.8zM110.5 93.5h4.6v4.7h-4.6zM135.7 97.8h4.6v4.7h-4.6zM161.0 102.2h4.6v4.7h-4.6zM211.4 102.2h4.6v4.7h-4.6zM169.4 115.1h4.6v4.7h-4.6zM118.9 123.8h8.8v4.7h-8.8zM219.9 123.8h4.6v4.7h-4.6zM93.7 128.1h4.6v4.7h-4.6zM64.2 132.4h8.8v4.7h-8.8zM224.1 132.4h4.6v4.7h-4.6zM224.1 175.7h4.6v4.7h-4.6zM224.1 180.0h4.6v4.7h-4.6zM219.9 201.7h4.6v4.7h-4.6zM219.9 206.0h4.6v4.7h-4.6zM215.7 227.6h4.6v4.7h-4.6z"/><path fill="#00ffff" d="M236.7 41.6h4.6v4.7h-4.6zM236.7 45.9h4.6v4.7h-4.6zM236.7 84.9h4.6v4.7h-4.6zM232.5 97.8h4.6v4.7h-4.6zM68.4 102.2h8.8v4.7h-8.8zM215.7 106.5h4.6v4.7h-4.6zM102.1 115.1h8.8v4.7h-8.8zM224.1 115.1h4.6v4.7h-4.6zM236.7 136.8h4.6v4.7h-4.6zM236.7 175.7h4.6v4.7h-4.6z"/><path fill="#ff8000" d="M219.9 45.9h4.6v4.7h-4.6zM219.9 50.2h4.6v4.7h-4.6zM43.2 76.2h8.8v4.7h-8.8zM64.2 80.5h8.8v4.7h-8.8zM85.3 84.9h8.8v4.7h-8.8zM110.5 89.2h4.6v4.7h-4.6zM219.9 89.2h4.6v4.7h-4.6zM131.5 93.5h4.6v4.7h-4.6zM156.8 119.5h4.6v4.7h-4.6zM211.4 119.5h4.6v4.7h-4.6zM139.9 123.8h4.6v4.7h-4.6zM215.7 123.8h4.6v4.7h-4.6zM118.9 128.1h4.6v4.7h-4.6zM93.7 132.4h8.8v4.7h-8.8zM219.9 132.4h4.6v4.7h-4.6zM72.6 136.8h8.8v4.7h-8.8zM47.4 141.1h13.0v4.7h-13.0zM219.9 171.4h4.6v4.7h-4.6zM219.9 175.7h4.6v4.7h-4.6zM215.7 193.0h4.6v4.7h-4.6zM215.7 197.4h4.6v4.7h-4.6zM211.4 214.7h4.6v4.7h-4.6zM211.4 219.0h4.6v4.7h-4.6zM207.2 232.0h4.6v4.7h-4.6z"/><path fill="#ffff00" d="M228.3 45.9h4.6v4.7h-4.6zM228.3 50.2h4.6v4.7h-4.6zM228.3 84.9h4.6v4.7h-4.6zM47.4 89.2h8.8v4.7h-8.8zM81.1 93.5h8.8v4.7h-8.8zM118.9 97.8h4.6v4.7h-4.6zM177.8 106.5h4.6v4.7h-4.6zM161.0 115.1h4.6v4.7h-4.6zM211.4 115.1h4.6v4.7h-4.6zM131.5 119.5h4.6v4.7h-4.6zM97.9 123.8h4.6v4.7h-4.6zM60.0 128.1h8.8v4.7h-8.8zM228.3 136.8h4.6v4.7h-4.6zM228.3 171.4h4.6v4.7h-4.6zM228.3 175.7h4.6v4.7h-4.6zM224.1 206.0h4.6v4.7h-4.6zM224.1 210.3h4.6v4.7h-4.6z"/><path fill="#9fff60" d="M232.5 45.9h4.6v4.7h-4.6zM232.5 50.2h4.6v4.7h-4.6zM232.5 80.5h4.6v4.7h-4.6zM81.1 97.8h4.6v4.7h-4.6zM127.3 102.2h4.6v4.7h-4.6zM219.9 102.2h4.6v4.7h-4.6zM97.9 119.5h8.8v4.7h-8.8zM224.1 119.5h4.6v4.7h-4.6zM47.4 123.8h13.0v4.7h-13.0zM228.3 123.8h4.6v4.7h-4.6zM232.5 136.8h4.6v4.7h-4.6zM232.5 167.1h4.6v4.7h-4.6zM232.5 171.4h4.6v4.7h-4.6zM228.3 214.7h4.6v4.7h-4.6z"/><path fill="#ffaf00" d="M224.1 50.2h4.6v4.7h-4.6zM224.1 54.6h4.6v4.7h-4.6zM60.0 84.9h8.8v4.7h-8.8zM224.1 84.9h4.6v4.7h-4.6zM89.5 89.2h4.6v4.7h-4.6zM114.7 93.5h4.6v4.7h-4.6zM219.9 93.5h4.6v4.7h-4.6zM139.9 97.8h4.6v4.7h-4.6zM207.2 115.1h4.6v4.7h-4.6zM148.4 119.5h4.6v4.7h-4.6zM127.3 123.8h4.6v4.7h-4.6zM97.9 128.1h8.8v4.7h-8.8zM72.6 132.4h8.8v4.7h-8.8zM43.2 136.8h8.8v4.7h-8.8zM224.1 136.8h4.6v4.7h-4.6zM224.1 162.7h4.6v4.7h-4.6zM224.1 167.1h4.6v4.7h-4.6zM224.1 171.4h4.6v4.7h-4.6zM219.9 193.0h4.6v4.7h-4.6zM219.9 197.4h4.6v4.7h-4.6zM215.7 219.0h4.6v4.7h-4.6zM215.7 223.3h4.6v4.7h-4.6z"/><path fill="#10ffef" d="M236.7 50.2h4.6v4.7h-4.6zM236.7 54.6h4.6v4.7h-4.6zM236.7 80.5h4.6v4.7h-4.6zM76.8 102.2h8.8v4.7h-8.8zM152.6 106.5h4.6v4.7h-4.6zM177.8 110.8h4.6v4.7h-4.6zM110.5 115.1h4.6v4.7h-4.6zM236.7 141.1h4.6v4.7h-4.6zM236.7 162.7h4.6v4.7h-4.6zM236.7 167.1h4.6v4.7h-4.6zM236.7 171.4h4.6v4.7h-4.6z"/><path fill="#ffef00" d="M228.3 54.6h4.6v4.7h-4.6zM228.3 58.9h4.6v4.7h-4.6zM228.3 63.2h4.6v4.7h-4.6zM228.3 76.2h4.6v4.7h-4.6zM228.3 80.5h4.6v4.7h-4.6zM55.8 89.2h8.8v4.7h-8.8zM89.5 93.5h8.8v4.7h-8.8zM224.1 93.5h4.6v4.7h-4.6zM123.1 97.8h4.6v4.7h-4.6zM219.9 97.8h4.6v4.7h-4.6zM152.6 102.2h4.6v4.7h-4.6zM135.7 119.5h4.6v4.7h-4.6zM102.1 123.8h8.8v4.7h-8.8zM68.4 128.1h8.8v4.7h-8.8zM228.3 141.1h4.6v4.7h-4.6zM228.3 158.4h4.6v4.7h-4.6zM228.3 162.7h4.6v4.7h-4.6zM228.3 167.1h4.6v4.7h-4.6zM224.1 197.4h4.6v4.7h-4.6zM224.1 201.7h4.6v4.7h-4.6zM219.9 227.6h4.6v4.7h-4.6z"/><path fill="#afff50" d="M232.5 54.6h4.6v4.7h-4.6zM232.5 58.9h4.6v4.7h-4.6zM232.5 63.2h4.6v4.7h-4.6zM232.5 67.5h4.6v4.7h-4.6zM232.5 71.9h4.6v4.7h-4.6zM232.5 76.2h4.6v4.7h-4.6zM43.2 93.5h4.6v4.7h-4.6zM228.3 93.5h4.6v4.7h-4.6zM85.3 97.8h8.8v4.7h-8.8zM131.5 102.2h4.6v4.7h-4.6zM207.2 106.5h4.6v4.7h-4.6zM148.4 115.1h4.6v4.7h-4.6zM215.7 115.1h4.6v4.7h-4.6zM106.3 119.5h4.6v4.7h-4.6zM60.0 123.8h8.8v4.7h-8.8zM232.5 141.1h4.6v4.7h-4.6zM232.5 145.4h4.6v4.7h-4.6zM232.5 149.8h4.6v4.7h-4.6zM232.5 154.1h4.6v4.7h-4.6zM232.5 158.4h4.6v4.7h-4.6zM232.5 162.7h4.6v4.7h-4.6zM228.3 210.3h4.6v4.7h-4.6z"/><path fill="#20ffdf" d="M236.7 58.9h4.6v4.7h-4.6zM236.7 63.2h4.6v4.7h-4.6zM236.7 67.5h4.6v4.7h-4.6zM236.7 71.9h4.6v4.7h-4.6zM236.7 76.2h4.6v4.7h-4.6zM85.3 102.2h4.6v4.7h-4.6zM114.7 115.1h4.6v4.7h-4.6zM236.7 145.4h4.6v4.7h-4.6zM236.7 149.8h4.6v4.7h-4.6zM236.7 154.1h4.6v4.7h-4.6zM236.7 158.4h4.6v4.7h-4.6z"/><path fill="#bfff40" d="M47.4 93.5h8.8v4.7h-8.8zM93.7 97.8h8.8v4.7h-8.8zM224.1 97.8h4.6v4.7h-4.6zM135.7 102.2h4.6v4.7h-4.6zM152.6 115.1h4.6v4.7h-4.6zM110.5 119.5h8.8v4.7h-8.8zM68.4 123.8h8.8v4.7h-8.8zM228.3 201.7h4.6v4.7h-4.6zM228.3 206.0h4.6v4.7h-4.6z"/><path fill="#cfff30" d="M55.8 93.5h8.8v4.7h-8.8zM102.1 97.8h4.6v4.7h-4.6zM139.9 102.2h4.6v4.7h-4.6zM173.6 106.5h4.6v4.7h-4.6zM198.8 110.8h4.6v4.7h-4.6zM118.9 119.5h4.6v4.7h-4.6zM76.8 123.8h4.6v4.7h-4.6zM228.3 128.1h4.6v4.7h-4.6zM228.3 193.0h4.6v4.7h-4.6zM228.3 197.4h4.6v4.7h-4.6z"/><path fill="#50ffaf" d="M232.5 93.5h4.6v4.7h-4.6zM43.2 97.8h4.6v4.7h-4.6zM102.1 102.2h8.8v4.7h-8.8zM224.1 102.2h4.6v4.7h-4.6zM161.0 106.5h4.6v4.7h-4.6zM211.4 106.5h4.6v4.7h-4.6zM127.3 115.1h4.6v4.7h-4.6zM64.2 119.5h8.8v4.7h-8.8zM232.5 206.0h4.6v4.7h-4.6z"/><path fill="#00afff" d="M236.7 93.5h4.6v4.7h-4.6zM135.7 106.5h4.6v4.7h-4.6zM219.9 106.5h4.6v4.7h-4.6zM68.4 115.1h8.8v4.7h-8.8zM228.3 115.1h4.6v4.7h-4.6z"/><path fill="#60ff9f" d="M47.4 97.8h8.8v4.7h-8.8zM110.5 102.2h4.6v4.7h-4.6zM131.5 115.1h4.6v4.7h-4.6zM219.9 115.1h4.6v4.7h-4.6zM72.6 119.5h8.8v4.7h-8.8zM232.5 128.1h4.6v4.7h-4.6zM232.5 201.7h4.6v4.7h-4.6z"/><path fill="#0060ff" d="M236.7 97.8h4.6v4.7h-4.6zM110.5 106.5h4.6v4.7h-4.6zM211.4 110.8h4.6v4.7h-4.6z"/><path fill="#00cfff" d="M43.2 102.2h8.8v4.7h-8.8zM139.9 106.5h4.6v4.7h-4.6zM173.6 110.8h4.6v4.7h-4.6zM81.1 115.1h8.8v4.7h-8.8zM232.5 119.5h4.6v4.7h-4.6zM236.7 128.1h4.6v4.7h-4.6zM236.7 197.4h4.6v4.7h-4.6zM236.7 201.7h4.6v4.7h-4.6z"/><path fill="#30ffcf" d="M89.5 102.2h8.8v4.7h-8.8zM156.8 106.5h4.6v4.7h-4.6zM203.0 110.8h4.6v4.7h-4.6zM118.9 115.1h4.6v4.7h-4.6zM43.2 119.5h13.0v4.7h-13.0zM232.5 123.8h4.6v4.7h-4.6z"/><path fill="#40ffbf" d="M97.9 102.2h4.6v4.7h-4.6zM123.1 115.1h4.6v4.7h-4.6zM55.8 119.5h8.8v4.7h-8.8zM228.3 119.5h4.6v4.7h-4.6z"/><path fill="#0080ff" d="M232.5 102.2h4.6v4.7h-4.6zM123.1 106.5h4.6v4.7h-4.6zM43.2 115.1h8.8v4.7h-8.8z"/><path fill="#0000df" d="M236.7 102.2h4.6v4.7h-4.6zM55.8 106.5h8.8v4.7h-8.8zM144.1 110.8h4.6v4.7h-4.6z"/><path fill="#0000cf" d="M43.2 106.5h13.0v4.7h-13.0zM139.9 110.8h4.6v4.7h-4.6z"/><path fill="#0000ef" d="M64.2 106.5h8.8v4.7h-8.8z"/><path fill="#0000ff" d="M72.6 106.5h4.6v4.7h-4.6zM228.3 106.5h4.6v4.7h-4.6zM148.4 110.8h4.6v4.7h-4.6zM215.7 110.8h4.6v4.7h-4.6z"/><path fill="#0010ff" d="M76.8 106.5h8.8v4.7h-8.8zM152.6 110.8h4.6v4.7h-4.6z"/><path fill="#0020ff" d="M85.3 106.5h8.8v4.7h-8.8z"/><path fill="#0030ff" d="M93.7 106.5h4.6v4.7h-4.6zM156.8 110.8h4.6v4.7h-4.6z"/><path fill="#0040ff" d="M97.9 106.5h8.8v4.7h-8.8zM232.5 115.1h4.6v4.7h-4.6zM236.7 119.5h4.6v4.7h-4.6z"/><path fill="#0050ff" d="M106.3 106.5h4.6v4.7h-4.6zM224.1 106.5h4.6v4.7h-4.6zM161.0 110.8h4.6v4.7h-4.6z"/><path fill="#0070ff" d="M114.7 106.5h8.8v4.7h-8.8zM165.2 110.8h4.6v4.7h-4.6z"/><path fill="#008fff" d="M127.3 106.5h4.6v4.7h-4.6zM51.6 115.1h8.8v4.7h-8.8zM236.7 123.8h4.6v4.7h-4.6z"/><path fill="#009fff" d="M131.5 106.5h4.6v4.7h-4.6zM169.4 110.8h4.6v4.7h-4.6zM60.0 115.1h8.8v4.7h-8.8z"/><path fill="#00008f" d="M232.5 106.5h8.8v4.7h-8.8zM43.2 110.8h84.5v4.7h-84.5zM224.1 110.8h17.2v4.7h-17.2zM240.9 193.0h4.6v4.7h-4.6zM240.9 197.4h4.6v4.7h-4.6zM240.9 201.7h4.6v4.7h-4.6zM236.7 206.0h8.8v4.7h-8.8zM232.5 210.3h13.0v4.7h-13.0zM232.5 214.7h13.0v4.7h-13.0zM228.3 219.0h17.2v4.7h-17.2zM228.3 223.3h17.2v4.7h-17.2zM224.1 227.6h21.4v4.7h-21.4zM219.9 232.0h25.6v4.7h-25.6z"/><path fill="#00009f" d="M127.3 110.8h4.6v4.7h-4.6zM236.7 115.1h4.6v4.7h-4.6z"/><path fill="#0000af" d="M131.5 110.8h4.6v4.7h-4.6zM219.9 110.8h4.6v4.7h-4.6z"/><path fill="#0000bf" d="M135.7 110.8h4.6v4.7h-4.6z"/><path fill="#00bfff" d="M207.2 110.8h4.6v4.7h-4.6zM76.8 115.1h4.6v4.7h-4.6z"/><path fill="#fff" d="M396.6 28.6h201.3v4.7h-201.3z"/><path fill="#0080ff" d="M396.6 32.9h17.1v4.7h-17.1zM471.9 32.9h13.0v4.7h-13.0zM543.1 89.2h8.8v4.7h-8.8zM543.1 136.8h8.8v4.7h-8.8zM538.9 206.0h4.6v4.7h-4.6zM551.5 206.0h4.6v4.7h-4.6z"/><path fill="#008fff" d="M413.3 32.9h59.0v4.7h-59.0zM513.8 37.3h4.6v4.7h-4.6zM576.6 37.3h4.6v4.7h-4.6zM534.7 54.6h4.6v4.7h-4.6zM555.6 54.6h4.6v4.7h-4.6zM538.9 201.7h4.6v4.7h-4.6zM551.5 201.7h4.6v4.7h-4.6z"/><path fill="#0070ff" d="M484.5 32.9h4.6v4.7h-4.6zM526.3 41.6h4.6v4.7h-4.6zM564.0 41.6h4.6v4.7h-4.6zM530.5 45.9h4.6v4.7h-4.6zM559.8 45.9h4.6v4.7h-4.6zM538.9 63.2h4.6v4.7h-4.6zM551.5 63.2h4.6v4.7h-4.6zM538.9 210.3h4.6v4.7h-4.6zM551.5 210.3h4.6v4.7h-4.6zM538.9 214.7h4.6v4.7h-4.6zM551.5 214.7h4.6v4.7h-4.6z"/><path fill="#0060ff" d="M488.7 32.9h8.8v4.7h-8.8zM518.0 37.3h4.6v4.7h-4.6zM572.4 37.3h4.6v4.7h-4.6zM534.7 50.2h4.6v4.7h-4.6zM555.6 50.2h4.6v4.7h-4.6zM538.9 219.0h4.6v4.7h-4.6zM551.5 219.0h4.6v4.7h-4.6zM538.9 223.3h4.6v4.7h-4.6zM551.5 223.3h4.6v4.7h-4.6z"/><path fill="#0050ff" d="M497.1 32.9h4.6v4.7h-4.6zM593.3 32.9h4.6v4.7h-4.6zM543.1 141.1h8.8v4.7h-8.8zM538.9 227.6h4.6v4.7h-4.6zM551.5 227.6h4.6v4.7h-4.6z"/><path fill="#0040ff" d="M501.2 32.9h4.6v4.7h-4.6zM589.1 32.9h4.6v4.7h-4.6zM522.2 37.3h4.6v4.7h-4.6zM568.2 37.3h4.6v4.7h-4.6zM538.9 58.9h4.6v4.7h-4.6zM551.5 58.9h4.6v4.7h-4.6zM543.1 84.9h8.8v4.7h-8.8zM538.9 232.0h4.6v4.7h-4.6zM551.5 232.0h4.6v4.7h-4.6z"/><path fill="#0020ff" d="M505.4 32.9h4.6v4.7h-4.6zM584.9 32.9h4.6v4.7h-4.6zM530.5 41.6h4.6v4.7h-4.6zM559.8 41.6h4.6v4.7h-4.6z"/><path fill="#0010ff" d="M509.6 32.9h4.6v4.7h-4.6zM580.8 32.9h4.6v4.7h-4.6zM534.7 45.9h4.6v4.7h-4.6zM555.6 45.9h4.6v4.7h-4.6zM543.1 149.8h8.8v4.7h-8.8z"/><path fill="#0000ef" d="M513.8 32.9h4.6v4.7h-4.6zM576.6 32.9h4.6v4.7h-4.6z"/><path fill="#0000cf" d="M518.0 32.9h4.6v4.7h-4.6zM572.4 32.9h4.6v4.7h-4.6zM543.1 162.7h8.8v4.7h-8.8z"/><path fill="#00009f" d="M522.2 32.9h4.6v4.7h-4.6zM568.2 32.9h4.6v4.7h-4.6zM543.1 175.7h8.8v4.7h-8.8z"/><path fill="#00008f" d="M526.3 32.9h42.3v4.7h-42.3zM534.7 37.3h25.5v4.7h-25.5zM538.9 41.6h17.1v4.7h-17.1zM538.9 45.9h17.1v4.7h-17.1zM543.1 50.2h8.8v4.7h-8.8zM543.1 54.6h8.8v4.7h-8.8zM543.1 58.9h8.8v4.7h-8.8zM543.1 63.2h8.8v4.7h-8.8zM543.1 67.5h8.8v4.7h-8.8zM543.1 71.9h8.8v4.7h-8.8zM543.1 180.0h8.8v4.7h-8.8zM543.1 184.4h8.8v4.7h-8.8zM543.1 188.7h8.8v4.7h-8.8zM543.1 193.0h8.8v4.7h-8.8zM543.1 197.4h8.8v4.7h-8.8zM543.1 201.7h8.8v4.7h-8.8zM543.1 206.0h8.8v4.7h-8.8zM543.1 210.3h8.8v4.7h-8.8zM543.1 214.7h8.8v4.7h-8.8zM543.1 219.0h8.8v4.7h-8.8zM543.1 223.3h8.8v4.7h-8.8zM543.1 227.6h8.8v4.7h-8.8zM543.1 232.0h8.8v4.7h-8.8z"/><path fill="#10ffef" d="M396.6 37.3h8.8v4.7h-8.8zM480.3 37.3h8.8v4.7h-8.8zM509.6 41.6h4.6v4.7h-4.6zM580.8 41.6h4.6v4.7h-4.6zM538.9 162.7h4.6v4.7h-4.6zM551.5 162.7h4.6v4.7h-4.6zM534.7 210.3h4.6v4.7h-4.6zM555.6 210.3h4.6v4.7h-4.6z"/><path fill="#20ffdf" d="M405.0 37.3h25.5v4.7h-25.5zM463.6 37.3h17.1v4.7h-17.1zM505.4 41.6h4.6v4.7h-4.6zM584.9 41.6h4.6v4.7h-4.6zM518.0 45.9h4.6v4.7h-4.6zM572.4 45.9h4.6v4.7h-4.6zM534.7 201.7h4.6v4.7h-4.6zM555.6 201.7h4.6v4.7h-4.6zM534.7 206.0h4.6v4.7h-4.6zM555.6 206.0h4.6v4.7h-4.6z"/><path fill="#30ffcf" d="M430.1 37.3h33.9v4.7h-33.9zM522.2 50.2h4.6v4.7h-4.6zM568.2 50.2h4.6v4.7h-4.6zM530.5 58.9h4.6v4.7h-4.6zM559.8 58.9h4.6v4.7h-4.6zM534.7 67.5h4.6v4.7h-4.6zM555.6 67.5h4.6v4.7h-4.6zM543.1 97.8h8.8v4.7h-8.8zM543.1 123.8h8.8v4.7h-8.8zM538.9 158.4h4.6v4.7h-4.6zM551.5 158.4h4.6v4.7h-4.6zM534.7 197.4h4.6v4.7h-4.6zM555.6 197.4h4.6v4.7h-4.6z"/><path fill="#00ffff" d="M488.7 37.3h4.6v4.7h-4.6zM526.3 50.2h4.6v4.7h-4.6zM564.0 50.2h4.6v4.7h-4.6zM534.7 63.2h4.6v4.7h-4.6zM555.6 63.2h4.6v4.7h-4.6zM538.9 76.2h4.6v4.7h-4.6zM551.5 76.2h4.6v4.7h-4.6zM538.9 167.1h4.6v4.7h-4.6zM551.5 167.1h4.6v4.7h-4.6zM534.7 214.7h4.6v4.7h-4.6zM555.6 214.7h4.6v4.7h-4.6zM534.7 219.0h4.6v4.7h-4.6zM555.6 219.0h4.6v4.7h-4.6z"/><path fill="#00efff" d="M492.9 37.3h4.6v4.7h-4.6zM513.8 41.6h4.6v4.7h-4.6zM576.6 41.6h4.6v4.7h-4.6zM522.2 45.9h4.6v4.7h-4.6zM568.2 45.9h4.6v4.7h-4.6zM530.5 54.6h4.6v4.7h-4.6zM559.8 54.6h4.6v4.7h-4.6zM538.9 171.4h4.6v4.7h-4.6zM551.5 171.4h4.6v4.7h-4.6zM534.7 223.3h4.6v4.7h-4.6zM555.6 223.3h4.6v4.7h-4.6z"/><path fill="#00dfff" d="M497.1 37.3h4.6v4.7h-4.6zM593.3 37.3h4.6v4.7h-4.6zM543.1 128.1h8.8v4.7h-8.8zM538.9 175.7h4.6v4.7h-4.6zM551.5 175.7h4.6v4.7h-4.6zM534.7 227.6h4.6v4.7h-4.6zM555.6 227.6h4.6v4.7h-4.6zM534.7 232.0h4.6v4.7h-4.6zM555.6 232.0h4.6v4.7h-4.6z"/><path fill="#00cfff" d="M501.2 37.3h4.6v4.7h-4.6zM589.1 37.3h4.6v4.7h-4.6zM518.0 41.6h4.6v4.7h-4.6zM572.4 41.6h4.6v4.7h-4.6zM534.7 58.9h4.6v4.7h-4.6zM555.6 58.9h4.6v4.7h-4.6zM538.9 71.9h4.6v4.7h-4.6zM551.5 71.9h4.6v4.7h-4.6zM543.1 93.5h8.8v4.7h-8.8zM538.9 180.0h4.6v4.7h-4.6zM551.5 180.0h4.6v4.7h-4.6z"/><path fill="#00bfff" d="M505.4 37.3h4.6v4.7h-4.6zM584.9 37.3h4.6v4.7h-4.6zM526.3 45.9h4.6v4.7h-4.6zM564.0 45.9h4.6v4.7h-4.6zM530.5 50.2h4.6v4.7h-4.6zM559.8 50.2h4.6v4.7h-4.6zM538.9 184.4h4.6v4.7h-4.6zM551.5 184.4h4.6v4.7h-4.6z"/><path fill="#009fff" d="M509.6 37.3h4.6v4.7h-4.6zM580.8 37.3h4.6v4.7h-4.6zM522.2 41.6h4.6v4.7h-4.6zM568.2 41.6h4.6v4.7h-4.6zM538.9 67.5h4.6v4.7h-4.6zM551.5 67.5h4.6v4.7h-4.6zM538.9 193.0h4.6v4.7h-4.6zM551.5 193.0h4.6v4.7h-4.6zM538.9 197.4h4.6v4.7h-4.6zM551.5 197.4h4.6v4.7h-4.6z"/><path fill="#0000ff" d="M526.3 37.3h4.6v4.7h-4.6zM564.0 37.3h4.6v4.7h-4.6zM538.9 54.6h4.6v4.7h-4.6zM551.5 54.6h4.6v4.7h-4.6zM543.1 80.5h8.8v4.7h-8.8zM543.1 154.1h8.8v4.7h-8.8z"/><path fill="#0000bf" d="M530.5 37.3h4.6v4.7h-4.6zM559.8 37.3h4.6v4.7h-4.6zM534.7 41.6h4.6v4.7h-4.6zM555.6 41.6h4.6v4.7h-4.6zM538.9 50.2h4.6v4.7h-4.6zM551.5 50.2h4.6v4.7h-4.6zM543.1 76.2h8.8v4.7h-8.8zM543.1 167.1h8.8v4.7h-8.8z"/><path fill="#80ff80" d="M396.6 41.6h25.5v4.7h-25.5zM467.8 41.6h13.0v4.7h-13.0zM501.2 45.9h4.6v4.7h-4.6zM589.1 45.9h4.6v4.7h-4.6zM513.8 50.2h4.6v4.7h-4.6zM576.6 50.2h4.6v4.7h-4.6zM538.9 84.9h4.6v4.7h-4.6zM551.5 84.9h4.6v4.7h-4.6zM534.7 171.4h4.6v4.7h-4.6zM555.6 171.4h4.6v4.7h-4.6zM530.5 201.7h4.6v4.7h-4.6zM559.8 201.7h4.6v4.7h-4.6zM530.5 206.0h4.6v4.7h-4.6zM559.8 206.0h4.6v4.7h-4.6z"/><path fill="#8fff70" d="M421.7 41.6h46.4v4.7h-46.4zM530.5 67.5h4.6v4.7h-4.6zM559.8 67.5h4.6v4.7h-4.6zM543.1 119.5h8.8v4.7h-8.8zM534.7 167.1h4.6v4.7h-4.6zM555.6 167.1h4.6v4.7h-4.6zM530.5 197.4h4.6v4.7h-4.6zM559.8 197.4h4.6v4.7h-4.6zM526.3 227.6h4.6v4.7h-4.6zM564.0 227.6h4.6v4.7h-4.6zM526.3 232.0h4.6v4.7h-4.6zM564.0 232.0h4.6v4.7h-4.6z"/><path fill="#70ff8f" d="M480.3 41.6h8.8v4.7h-8.8zM505.4 45.9h4.6v4.7h-4.6zM584.9 45.9h4.6v4.7h-4.6zM522.2 54.6h4.6v4.7h-4.6zM568.2 54.6h4.6v4.7h-4.6zM526.3 58.9h4.6v4.7h-4.6zM564.0 58.9h4.6v4.7h-4.6zM538.9 145.4h4.6v4.7h-4.6zM551.5 145.4h4.6v4.7h-4.6zM534.7 175.7h4.6v4.7h-4.6zM555.6 175.7h4.6v4.7h-4.6zM530.5 210.3h4.6v4.7h-4.6zM559.8 210.3h4.6v4.7h-4.6z"/><path fill="#60ff9f" d="M488.7 41.6h8.8v4.7h-8.8zM509.6 45.9h4.6v4.7h-4.6zM580.8 45.9h4.6v4.7h-4.6zM518.0 50.2h4.6v4.7h-4.6zM572.4 50.2h4.6v4.7h-4.6zM530.5 63.2h4.6v4.7h-4.6zM559.8 63.2h4.6v4.7h-4.6zM534.7 71.9h4.6v4.7h-4.6zM555.6 71.9h4.6v4.7h-4.6zM538.9 149.8h4.6v4.7h-4.6zM551.5 149.8h4.6v4.7h-4.6zM534.7 180.0h4.6v4.7h-4.6zM555.6 180.0h4.6v4.7h-4.6zM530.5 214.7h4.6v4.7h-4.6zM559.8 214.7h4.6v4.7h-4.6zM530.5 219.0h4.6v4.7h-4.6zM559.8 219.0h4.6v4.7h-4.6z"/><path fill="#50ffaf" d="M497.1 41.6h4.6v4.7h-4.6zM593.3 41.6h4.6v4.7h-4.6zM534.7 184.4h4.6v4.7h-4.6zM555.6 184.4h4.6v4.7h-4.6zM534.7 188.7h4.6v4.7h-4.6zM555.6 188.7h4.6v4.7h-4.6zM530.5 223.3h4.6v4.7h-4.6zM559.8 223.3h4.6v4.7h-4.6zM530.5 227.6h4.6v4.7h-4.6zM559.8 227.6h4.6v4.7h-4.6z"/><path fill="#40ffbf" d="M501.2 41.6h4.6v4.7h-4.6zM589.1 41.6h4.6v4.7h-4.6zM513.8 45.9h4.6v4.7h-4.6zM576.6 45.9h4.6v4.7h-4.6zM526.3 54.6h4.6v4.7h-4.6zM564.0 54.6h4.6v4.7h-4.6zM538.9 80.5h4.6v4.7h-4.6zM551.5 80.5h4.6v4.7h-4.6zM538.9 154.1h4.6v4.7h-4.6zM551.5 154.1h4.6v4.7h-4.6zM534.7 193.0h4.6v4.7h-4.6zM555.6 193.0h4.6v4.7h-4.6zM530.5 232.0h4.6v4.7h-4.6zM559.8 232.0h4.6v4.7h-4.6z"/><path fill="#bfff40" d="M396.6 45.9h13.0v4.7h-13.0zM480.3 45.9h8.8v4.7h-8.8zM501.2 50.2h4.6v4.7h-4.6zM589.1 50.2h4.6v4.7h-4.6zM513.8 54.6h4.6v4.7h-4.6zM576.6 54.6h4.6v4.7h-4.6zM530.5 71.9h4.6v4.7h-4.6zM559.8 71.9h4.6v4.7h-4.6zM538.9 89.2h4.6v4.7h-4.6zM551.5 89.2h4.6v4.7h-4.6zM543.1 102.2h8.8v4.7h-8.8zM538.9 136.8h4.6v4.7h-4.6zM551.5 136.8h4.6v4.7h-4.6zM534.7 158.4h4.6v4.7h-4.6zM555.6 158.4h4.6v4.7h-4.6zM530.5 180.0h4.6v4.7h-4.6zM559.8 180.0h4.6v4.7h-4.6zM530.5 184.4h4.6v4.7h-4.6zM559.8 184.4h4.6v4.7h-4.6zM526.3 206.0h4.6v4.7h-4.6zM564.0 206.0h4.6v4.7h-4.6zM526.3 210.3h4.6v4.7h-4.6zM564.0 210.3h4.6v4.7h-4.6zM522.2 232.0h4.6v4.7h-4.6zM568.2 232.0h4.6v4.7h-4.6z"/><path fill="#cfff30" d="M409.2 45.9h29.7v4.7h-29.7zM459.4 45.9h21.3v4.7h-21.3zM497.1 50.2h4.6v4.7h-4.6zM593.3 50.2h4.6v4.7h-4.6zM509.6 54.6h4.6v4.7h-4.6zM580.8 54.6h4.6v4.7h-4.6zM518.0 58.9h4.6v4.7h-4.6zM572.4 58.9h4.6v4.7h-4.6zM522.2 63.2h4.6v4.7h-4.6zM568.2 63.2h4.6v4.7h-4.6zM526.3 67.5h4.6v4.7h-4.6zM564.0 67.5h4.6v4.7h-4.6zM534.7 80.5h4.6v4.7h-4.6zM555.6 80.5h4.6v4.7h-4.6zM534.7 154.1h4.6v4.7h-4.6zM555.6 154.1h4.6v4.7h-4.6zM530.5 175.7h4.6v4.7h-4.6zM559.8 175.7h4.6v4.7h-4.6zM526.3 201.7h4.6v4.7h-4.6zM564.0 201.7h4.6v4.7h-4.6zM522.2 223.3h4.6v4.7h-4.6zM568.2 223.3h4.6v4.7h-4.6zM522.2 227.6h4.6v4.7h-4.6zM568.2 227.6h4.6v4.7h-4.6z"/><path fill="#dfff20" d="M438.5 45.9h21.3v4.7h-21.3zM492.9 50.2h4.6v4.7h-4.6zM530.5 171.4h4.6v4.7h-4.6zM559.8 171.4h4.6v4.7h-4.6zM526.3 193.0h4.6v4.7h-4.6zM564.0 193.0h4.6v4.7h-4.6zM526.3 197.4h4.6v4.7h-4.6zM564.0 197.4h4.6v4.7h-4.6zM522.2 219.0h4.6v4.7h-4.6zM568.2 219.0h4.6v4.7h-4.6z"/><path fill="#afff50" d="M488.7 45.9h4.6v4.7h-4.6zM505.4 50.2h4.6v4.7h-4.6zM584.9 50.2h4.6v4.7h-4.6zM534.7 162.7h4.6v4.7h-4.6zM555.6 162.7h4.6v4.7h-4.6zM530.5 188.7h4.6v4.7h-4.6zM559.8 188.7h4.6v4.7h-4.6zM526.3 214.7h4.6v4.7h-4.6zM564.0 214.7h4.6v4.7h-4.6z"/><path fill="#9fff60" d="M492.9 45.9h8.8v4.7h-8.8zM593.3 45.9h4.6v4.7h-4.6zM509.6 50.2h4.6v4.7h-4.6zM580.8 50.2h4.6v4.7h-4.6zM518.0 54.6h4.6v4.7h-4.6zM572.4 54.6h4.6v4.7h-4.6zM522.2 58.9h4.6v4.7h-4.6zM568.2 58.9h4.6v4.7h-4.6zM526.3 63.2h4.6v4.7h-4.6zM564.0 63.2h4.6v4.7h-4.6zM534.7 76.2h4.6v4.7h-4.6zM555.6 76.2h4.6v4.7h-4.6zM538.9 141.1h4.6v4.7h-4.6zM551.5 141.1h4.6v4.7h-4.6zM530.5 193.0h4.6v4.7h-4.6zM559.8 193.0h4.6v4.7h-4.6zM526.3 219.0h4.6v4.7h-4.6zM564.0 219.0h4.6v4.7h-4.6zM526.3 223.3h4.6v4.7h-4.6zM564.0 223.3h4.6v4.7h-4.6z"/><path fill="#ffff00" d="M396.6 50.2h17.1v4.7h-17.1zM476.1 50.2h13.0v4.7h-13.0zM501.2 54.6h4.6v4.7h-4.6zM589.1 54.6h4.6v4.7h-4.6zM509.6 58.9h4.6v4.7h-4.6zM580.8 58.9h4.6v4.7h-4.6zM518.0 63.2h4.6v4.7h-4.6zM572.4 63.2h4.6v4.7h-4.6zM522.2 67.5h4.6v4.7h-4.6zM568.2 67.5h4.6v4.7h-4.6zM526.3 71.9h4.6v4.7h-4.6zM564.0 71.9h4.6v4.7h-4.6zM534.7 84.9h4.6v4.7h-4.6zM555.6 84.9h4.6v4.7h-4.6zM526.3 184.4h4.6v4.7h-4.6zM564.0 184.4h4.6v4.7h-4.6zM522.2 201.7h4.6v4.7h-4.6zM568.2 201.7h4.6v4.7h-4.6zM522.2 206.0h4.6v4.7h-4.6zM568.2 206.0h4.6v4.7h-4.6zM518.0 223.3h4.6v4.7h-4.6zM572.4 223.3h4.6v4.7h-4.6zM518.0 227.6h4.6v4.7h-4.6zM572.4 227.6h4.6v4.7h-4.6z"/><path fill="#ffef00" d="M413.3 50.2h63.2v4.7h-63.2zM497.1 54.6h4.6v4.7h-4.6zM593.3 54.6h4.6v4.7h-4.6zM538.9 93.5h4.6v4.7h-4.6zM551.5 93.5h4.6v4.7h-4.6zM534.7 145.4h4.6v4.7h-4.6zM555.6 145.4h4.6v4.7h-4.6zM530.5 162.7h4.6v4.7h-4.6zM559.8 162.7h4.6v4.7h-4.6zM526.3 180.0h4.6v4.7h-4.6zM564.0 180.0h4.6v4.7h-4.6zM522.2 197.4h4.6v4.7h-4.6zM568.2 197.4h4.6v4.7h-4.6zM518.0 219.0h4.6v4.7h-4.6zM572.4 219.0h4.6v4.7h-4.6z"/><path fill="#efff10" d="M488.7 50.2h4.6v4.7h-4.6zM505.4 54.6h4.6v4.7h-4.6zM584.9 54.6h4.6v4.7h-4.6zM513.8 58.9h4.6v4.7h-4.6zM576.6 58.9h4.6v4.7h-4.6zM530.5 76.2h4.6v4.7h-4.6zM559.8 76.2h4.6v4.7h-4.6zM538.9 132.4h4.6v4.7h-4.6zM551.5 132.4h4.6v4.7h-4.6zM534.7 149.8h4.6v4.7h-4.6zM555.6 149.8h4.6v4.7h-4.6zM530.5 167.1h4.6v4.7h-4.6zM559.8 167.1h4.6v4.7h-4.6zM526.3 188.7h4.6v4.7h-4.6zM564.0 188.7h4.6v4.7h-4.6zM522.2 210.3h4.6v4.7h-4.6zM568.2 210.3h4.6v4.7h-4.6zM522.2 214.7h4.6v4.7h-4.6zM568.2 214.7h4.6v4.7h-4.6zM518.0 232.0h4.6v4.7h-4.6zM572.4 232.0h4.6v4.7h-4.6z"/><path fill="#ffcf00" d="M396.6 54.6h17.1v4.7h-17.1zM480.3 54.6h8.8v4.7h-8.8zM501.2 58.9h4.6v4.7h-4.6zM589.1 58.9h4.6v4.7h-4.6zM509.6 63.2h4.6v4.7h-4.6zM580.8 63.2h4.6v4.7h-4.6zM518.0 67.5h4.6v4.7h-4.6zM572.4 67.5h4.6v4.7h-4.6zM522.2 71.9h4.6v4.7h-4.6zM568.2 71.9h4.6v4.7h-4.6zM526.3 76.2h4.6v4.7h-4.6zM564.0 76.2h4.6v4.7h-4.6zM534.7 141.1h4.6v4.7h-4.6zM555.6 141.1h4.6v4.7h-4.6zM530.5 154.1h4.6v4.7h-4.6zM559.8 154.1h4.6v4.7h-4.6zM526.3 171.4h4.6v4.7h-4.6zM564.0 171.4h4.6v4.7h-4.6zM522.2 188.7h4.6v4.7h-4.6zM568.2 188.7h4.6v4.7h-4.6zM518.0 201.7h4.6v4.7h-4.6zM572.4 201.7h4.6v4.7h-4.6zM518.0 206.0h4.6v4.7h-4.6zM572.4 206.0h4.6v4.7h-4.6zM513.8 219.0h4.6v4.7h-4.6zM576.6 219.0h4.6v4.7h-4.6zM513.8 223.3h4.6v4.7h-4.6zM576.6 223.3h4.6v4.7h-4.6z"/><path fill="#ffbf00" d="M413.3 54.6h67.4v4.7h-67.4zM497.1 58.9h4.6v4.7h-4.6zM593.3 58.9h4.6v4.7h-4.6zM534.7 89.2h4.6v4.7h-4.6zM555.6 89.2h4.6v4.7h-4.6zM526.3 167.1h4.6v4.7h-4.6zM564.0 167.1h4.6v4.7h-4.6zM522.2 180.0h4.6v4.7h-4.6zM568.2 180.0h4.6v4.7h-4.6zM522.2 184.4h4.6v4.7h-4.6zM568.2 184.4h4.6v4.7h-4.6zM518.0 197.4h4.6v4.7h-4.6zM572.4 197.4h4.6v4.7h-4.6zM513.8 214.7h4.6v4.7h-4.6zM576.6 214.7h4.6v4.7h-4.6zM509.6 232.0h4.6v4.7h-4.6zM580.8 232.0h4.6v4.7h-4.6z"/><path fill="#ffdf00" d="M488.7 54.6h8.8v4.7h-8.8zM505.4 58.9h4.6v4.7h-4.6zM584.9 58.9h4.6v4.7h-4.6zM513.8 63.2h4.6v4.7h-4.6zM576.6 63.2h4.6v4.7h-4.6zM530.5 80.5h4.6v4.7h-4.6zM559.8 80.5h4.6v4.7h-4.6zM543.1 115.1h8.8v4.7h-8.8zM538.9 128.1h4.6v4.7h-4.6zM551.5 128.1h4.6v4.7h-4.6zM530.5 158.4h4.6v4.7h-4.6zM559.8 158.4h4.6v4.7h-4.6zM526.3 175.7h4.6v4.7h-4.6zM564.0 175.7h4.6v4.7h-4.6zM522.2 193.0h4.6v4.7h-4.6zM568.2 193.0h4.6v4.7h-4.6zM518.0 210.3h4.6v4.7h-4.6zM572.4 210.3h4.6v4.7h-4.6zM518.0 214.7h4.6v4.7h-4.6zM572.4 214.7h4.6v4.7h-4.6zM513.8 227.6h4.6v4.7h-4.6zM576.6 227.6h4.6v4.7h-4.6zM513.8 232.0h4.6v4.7h-4.6zM576.6 232.0h4.6v4.7h-4.6z"/><path fill="#ffaf00" d="M396.6 58.9h4.6v4.7h-4.6zM488.7 58.9h8.8v4.7h-8.8zM505.4 63.2h4.6v4.7h-4.6zM584.9 63.2h4.6v4.7h-4.6zM513.8 67.5h4.6v4.7h-4.6zM576.6 67.5h4.6v4.7h-4.6zM518.0 71.9h4.6v4.7h-4.6zM572.4 71.9h4.6v4.7h-4.6zM534.7 136.8h4.6v4.7h-4.6zM555.6 136.8h4.6v4.7h-4.6zM530.5 149.8h4.6v4.7h-4.6zM559.8 149.8h4.6v4.7h-4.6zM526.3 162.7h4.6v4.7h-4.6zM564.0 162.7h4.6v4.7h-4.6zM522.2 175.7h4.6v4.7h-4.6zM568.2 175.7h4.6v4.7h-4.6zM518.0 193.0h4.6v4.7h-4.6zM572.4 193.0h4.6v4.7h-4.6zM513.8 206.0h4.6v4.7h-4.6zM576.6 206.0h4.6v4.7h-4.6zM513.8 210.3h4.6v4.7h-4.6zM576.6 210.3h4.6v4.7h-4.6zM509.6 223.3h4.6v4.7h-4.6zM580.8 223.3h4.6v4.7h-4.6zM509.6 227.6h4.6v4.7h-4.6zM580.8 227.6h4.6v4.7h-4.6z"/><path fill="#ff9f00" d="M400.8 58.9h25.5v4.7h-25.5zM476.1 58.9h13.0v4.7h-13.0zM501.2 63.2h4.6v4.7h-4.6zM589.1 63.2h4.6v4.7h-4.6zM509.6 67.5h4.6v4.7h-4.6zM580.8 67.5h4.6v4.7h-4.6zM522.2 76.2h4.6v4.7h-4.6zM568.2 76.2h4.6v4.7h-4.6zM526.3 80.5h4.6v4.7h-4.6zM564.0 80.5h4.6v4.7h-4.6zM530.5 84.9h4.6v4.7h-4.6zM559.8 84.9h4.6v4.7h-4.6zM538.9 97.8h4.6v4.7h-4.6zM551.5 97.8h4.6v4.7h-4.6zM538.9 123.8h4.6v4.7h-4.6zM551.5 123.8h4.6v4.7h-4.6zM530.5 145.4h4.6v4.7h-4.6zM559.8 145.4h4.6v4.7h-4.6zM526.3 158.4h4.6v4.7h-4.6zM564.0 158.4h4.6v4.7h-4.6zM522.2 171.4h4.6v4.7h-4.6zM568.2 171.4h4.6v4.7h-4.6zM518.0 184.4h4.6v4.7h-4.6zM572.4 184.4h4.6v4.7h-4.6zM518.0 188.7h4.6v4.7h-4.6zM572.4 188.7h4.6v4.7h-4.6zM513.8 201.7h4.6v4.7h-4.6zM576.6 201.7h4.6v4.7h-4.6zM509.6 214.7h4.6v4.7h-4.6zM580.8 214.7h4.6v4.7h-4.6zM509.6 219.0h4.6v4.7h-4.6zM580.8 219.0h4.6v4.7h-4.6zM505.4 227.6h4.6v4.7h-4.6zM584.9 227.6h4.6v4.7h-4.6zM505.4 232.0h4.6v4.7h-4.6zM584.9 232.0h4.6v4.7h-4.6z"/><path fill="#ff8f00" d="M425.9 58.9h50.6v4.7h-50.6zM492.9 63.2h8.8v4.7h-8.8zM593.3 63.2h4.6v4.7h-4.6zM505.4 67.5h4.6v4.7h-4.6zM584.9 67.5h4.6v4.7h-4.6zM513.8 71.9h4.6v4.7h-4.6zM576.6 71.9h4.6v4.7h-4.6zM534.7 132.4h4.6v4.7h-4.6zM555.6 132.4h4.6v4.7h-4.6zM526.3 154.1h4.6v4.7h-4.6zM564.0 154.1h4.6v4.7h-4.6zM522.2 167.1h4.6v4.7h-4.6zM568.2 167.1h4.6v4.7h-4.6zM518.0 180.0h4.6v4.7h-4.6zM572.4 180.0h4.6v4.7h-4.6zM513.8 193.0h4.6v4.7h-4.6zM576.6 193.0h4.6v4.7h-4.6zM513.8 197.4h4.6v4.7h-4.6zM576.6 197.4h4.6v4.7h-4.6zM509.6 206.0h4.6v4.7h-4.6zM580.8 206.0h4.6v4.7h-4.6zM509.6 210.3h4.6v4.7h-4.6zM580.8 210.3h4.6v4.7h-4.6zM505.4 219.0h4.6v4.7h-4.6zM584.9 219.0h4.6v4.7h-4.6zM505.4 223.3h4.6v4.7h-4.6zM584.9 223.3h4.6v4.7h-4.6z"/><path fill="#ff8000" d="M396.6 63.2h21.3v4.7h-21.3zM484.5 63.2h8.8v4.7h-8.8zM501.2 67.5h4.6v4.7h-4.6zM589.1 67.5h4.6v4.7h-4.6zM518.0 76.2h4.6v4.7h-4.6zM572.4 76.2h4.6v4.7h-4.6zM530.5 141.1h4.6v4.7h-4.6zM559.8 141.1h4.6v4.7h-4.6zM522.2 162.7h4.6v4.7h-4.6zM568.2 162.7h4.6v4.7h-4.6zM518.0 175.7h4.6v4.7h-4.6zM572.4 175.7h4.6v4.7h-4.6zM513.8 188.7h4.6v4.7h-4.6zM576.6 188.7h4.6v4.7h-4.6zM509.6 201.7h4.6v4.7h-4.6zM580.8 201.7h4.6v4.7h-4.6zM505.4 214.7h4.6v4.7h-4.6zM584.9 214.7h4.6v4.7h-4.6zM501.2 227.6h4.6v4.7h-4.6zM589.1 227.6h4.6v4.7h-4.6zM501.2 232.0h4.6v4.7h-4.6zM589.1 232.0h4.6v4.7h-4.6z"/><path fill="#ff7000" d="M417.5 63.2h67.4v4.7h-67.4zM497.1 67.5h4.6v4.7h-4.6zM593.3 67.5h4.6v4.7h-4.6zM509.6 71.9h4.6v4.7h-4.6zM580.8 71.9h4.6v4.7h-4.6zM522.2 80.5h4.6v4.7h-4.6zM568.2 80.5h4.6v4.7h-4.6zM526.3 84.9h4.6v4.7h-4.6zM564.0 84.9h4.6v4.7h-4.6zM530.5 89.2h4.6v4.7h-4.6zM559.8 89.2h4.6v4.7h-4.6zM534.7 93.5h4.6v4.7h-4.6zM555.6 93.5h4.6v4.7h-4.6zM526.3 149.8h4.6v4.7h-4.6zM564.0 149.8h4.6v4.7h-4.6zM522.2 158.4h4.6v4.7h-4.6zM568.2 158.4h4.6v4.7h-4.6zM518.0 171.4h4.6v4.7h-4.6zM572.4 171.4h4.6v4.7h-4.6zM513.8 184.4h4.6v4.7h-4.6zM576.6 184.4h4.6v4.7h-4.6zM509.6 193.0h4.6v4.7h-4.6zM580.8 193.0h4.6v4.7h-4.6zM509.6 197.4h4.6v4.7h-4.6zM580.8 197.4h4.6v4.7h-4.6zM505.4 206.0h4.6v4.7h-4.6zM584.9 206.0h4.6v4.7h-4.6zM505.4 210.3h4.6v4.7h-4.6zM584.9 210.3h4.6v4.7h-4.6zM501.2 219.0h4.6v4.7h-4.6zM589.1 219.0h4.6v4.7h-4.6zM501.2 223.3h4.6v4.7h-4.6zM589.1 223.3h4.6v4.7h-4.6zM497.1 232.0h4.6v4.7h-4.6zM593.3 232.0h4.6v4.7h-4.6z"/><path fill="#ff6000" d="M396.6 67.5h25.5v4.7h-25.5zM488.7 67.5h8.8v4.7h-8.8zM505.4 71.9h4.6v4.7h-4.6zM584.9 71.9h4.6v4.7h-4.6zM513.8 76.2h4.6v4.7h-4.6zM576.6 76.2h4.6v4.7h-4.6zM534.7 128.1h4.6v4.7h-4.6zM555.6 128.1h4.6v4.7h-4.6zM530.5 136.8h4.6v4.7h-4.6zM559.8 136.8h4.6v4.7h-4.6zM526.3 145.4h4.6v4.7h-4.6zM564.0 145.4h4.6v4.7h-4.6zM518.0 167.1h4.6v4.7h-4.6zM572.4 167.1h4.6v4.7h-4.6zM513.8 175.7h4.6v4.7h-4.6zM576.6 175.7h4.6v4.7h-4.6zM513.8 180.0h4.6v4.7h-4.6zM576.6 180.0h4.6v4.7h-4.6zM509.6 188.7h4.6v4.7h-4.6zM580.8 188.7h4.6v4.7h-4.6zM505.4 197.4h4.6v4.7h-4.6zM584.9 197.4h4.6v4.7h-4.6zM505.4 201.7h4.6v4.7h-4.6zM584.9 201.7h4.6v4.7h-4.6zM501.2 210.3h4.6v4.7h-4.6zM589.1 210.3h4.6v4.7h-4.6zM501.2 214.7h4.6v4.7h-4.6zM589.1 214.7h4.6v4.7h-4.6zM497.1 223.3h4.6v4.7h-4.6zM593.3 223.3h4.6v4.7h-4.6zM497.1 227.6h4.6v4.7h-4.6zM593.3 227.6h4.6v4.7h-4.6zM492.9 232.0h4.6v4.7h-4.6z"/><path fill="#ff5000" d="M421.7 67.5h67.4v4.7h-67.4zM396.6 71.9h8.8v4.7h-8.8zM497.1 71.9h8.8v4.7h-8.8zM589.1 71.9h8.8v4.7h-8.8zM509.6 76.2h4.6v4.7h-4.6zM580.8 76.2h4.6v4.7h-4.6zM518.0 80.5h4.6v4.7h-4.6zM572.4 80.5h4.6v4.7h-4.6zM543.1 106.5h8.8v4.7h-8.8zM538.9 119.5h4.6v4.7h-4.6zM551.5 119.5h4.6v4.7h-4.6zM522.2 154.1h4.6v4.7h-4.6zM568.2 154.1h4.6v4.7h-4.6zM518.0 162.7h4.6v4.7h-4.6zM572.4 162.7h4.6v4.7h-4.6zM513.8 171.4h4.6v4.7h-4.6zM576.6 171.4h4.6v4.7h-4.6zM509.6 184.4h4.6v4.7h-4.6zM580.8 184.4h4.6v4.7h-4.6zM505.4 193.0h4.6v4.7h-4.6zM584.9 193.0h4.6v4.7h-4.6zM501.2 201.7h4.6v4.7h-4.6zM589.1 201.7h4.6v4.7h-4.6zM501.2 206.0h4.6v4.7h-4.6zM589.1 206.0h4.6v4.7h-4.6zM497.1 214.7h4.6v4.7h-4.6zM593.3 214.7h4.6v4.7h-4.6zM497.1 219.0h4.6v4.7h-4.6zM593.3 219.0h4.6v4.7h-4.6zM492.9 223.3h4.6v4.7h-4.6zM492.9 227.6h4.6v4.7h-4.6z"/><path fill="#ff4000" d="M405.0 71.9h21.3v4.7h-21.3zM488.7 71.9h8.8v4.7h-8.8zM505.4 76.2h4.6v4.7h-4.6zM584.9 76.2h4.6v4.7h-4.6zM513.8 80.5h4.6v4.7h-4.6zM576.6 80.5h4.6v4.7h-4.6zM522.2 84.9h4.6v4.7h-4.6zM568.2 84.9h4.6v4.7h-4.6zM526.3 89.2h4.6v4.7h-4.6zM564.0 89.2h4.6v4.7h-4.6zM530.5 132.4h4.6v4.7h-4.6zM559.8 132.4h4.6v4.7h-4.6zM526.3 141.1h4.6v4.7h-4.6zM564.0 141.1h4.6v4.7h-4.6zM522.2 149.8h4.6v4.7h-4.6zM568.2 149.8h4.6v4.7h-4.6zM518.0 158.4h4.6v4.7h-4.6zM572.4 158.4h4.6v4.7h-4.6zM513.8 167.1h4.6v4.7h-4.6zM576.6 167.1h4.6v4.7h-4.6zM509.6 175.7h4.6v4.7h-4.6zM580.8 175.7h4.6v4.7h-4.6zM509.6 180.0h4.6v4.7h-4.6zM580.8 180.0h4.6v4.7h-4.6zM505.4 184.4h4.6v4.7h-4.6zM584.9 184.4h4.6v4.7h-4.6zM505.4 188.7h4.6v4.7h-4.6zM584.9 188.7h4.6v4.7h-4.6zM501.2 197.4h4.6v4.7h-4.6zM589.1 197.4h4.6v4.7h-4.6zM497.1 206.0h4.6v4.7h-4.6zM593.3 206.0h4.6v4.7h-4.6zM497.1 210.3h4.6v4.7h-4.6zM593.3 210.3h4.6v4.7h-4.6zM492.9 214.7h4.6v4.7h-4.6zM492.9 219.0h4.6v4.7h-4.6zM488.7 227.6h4.6v4.7h-4.6zM488.7 232.0h4.6v4.7h-4.6z"/><path fill="#ff3000" d="M425.9 71.9h63.2v4.7h-63.2zM396.6 76.2h17.1v4.7h-17.1zM497.1 76.2h8.8v4.7h-8.8zM589.1 76.2h8.8v4.7h-8.8zM509.6 80.5h4.6v4.7h-4.6zM580.8 80.5h4.6v4.7h-4.6zM518.0 84.9h4.6v4.7h-4.6zM572.4 84.9h4.6v4.7h-4.6zM530.5 93.5h4.6v4.7h-4.6zM559.8 93.5h4.6v4.7h-4.6zM534.7 97.8h4.6v4.7h-4.6zM555.6 97.8h4.6v4.7h-4.6zM538.9 102.2h4.6v4.7h-4.6zM551.5 102.2h4.6v4.7h-4.6zM522.2 145.4h4.6v4.7h-4.6zM568.2 145.4h4.6v4.7h-4.6zM518.0 154.1h4.6v4.7h-4.6zM572.4 154.1h4.6v4.7h-4.6zM513.8 162.7h4.6v4.7h-4.6zM576.6 162.7h4.6v4.7h-4.6zM509.6 171.4h4.6v4.7h-4.6zM580.8 171.4h4.6v4.7h-4.6zM505.4 180.0h4.6v4.7h-4.6zM584.9 180.0h4.6v4.7h-4.6zM501.2 188.7h4.6v4.7h-4.6zM589.1 188.7h4.6v4.7h-4.6zM501.2 193.0h4.6v4.7h-4.6zM589.1 193.0h4.6v4.7h-4.6zM497.1 197.4h4.6v4.7h-4.6zM593.3 197.4h4.6v4.7h-4.6zM497.1 201.7h4.6v4.7h-4.6zM593.3 201.7h4.6v4.7h-4.6zM492.9 206.0h4.6v4.7h-4.6zM492.9 210.3h4.6v4.7h-4.6zM488.7 219.0h4.6v4.7h-4.6zM488.7 223.3h4.6v4.7h-4.6zM484.5 227.6h4.6v4.7h-4.6zM484.5 232.0h4.6v4.7h-4.6z"/><path fill="#ff2000" d="M413.3 76.2h25.5v4.7h-25.5zM488.7 76.2h8.8v4.7h-8.8zM396.6 80.5h8.8v4.7h-8.8zM505.4 80.5h4.6v4.7h-4.6zM584.9 80.5h4.6v4.7h-4.6zM534.7 123.8h4.6v4.7h-4.6zM555.6 123.8h4.6v4.7h-4.6zM526.3 136.8h4.6v4.7h-4.6zM564.0 136.8h4.6v4.7h-4.6zM518.0 149.8h4.6v4.7h-4.6zM572.4 149.8h4.6v4.7h-4.6zM513.8 158.4h4.6v4.7h-4.6zM576.6 158.4h4.6v4.7h-4.6zM509.6 167.1h4.6v4.7h-4.6zM580.8 167.1h4.6v4.7h-4.6zM505.4 175.7h4.6v4.7h-4.6zM584.9 175.7h4.6v4.7h-4.6zM501.2 184.4h4.6v4.7h-4.6zM589.1 184.4h4.6v4.7h-4.6zM497.1 193.0h4.6v4.7h-4.6zM593.3 193.0h4.6v4.7h-4.6zM492.9 201.7h4.6v4.7h-4.6zM488.7 210.3h4.6v4.7h-4.6zM488.7 214.7h4.6v4.7h-4.6zM484.5 219.0h4.6v4.7h-4.6zM484.5 223.3h4.6v4.7h-4.6zM480.3 227.6h4.6v4.7h-4.6zM480.3 232.0h4.6v4.7h-4.6z"/><path fill="#ff1000" d="M438.5 76.2h50.6v4.7h-50.6zM405.0 80.5h25.5v4.7h-25.5zM497.1 80.5h8.8v4.7h-8.8zM589.1 80.5h8.8v4.7h-8.8zM396.6 84.9h4.6v4.7h-4.6zM513.8 84.9h4.6v4.7h-4.6zM576.6 84.9h4.6v4.7h-4.6zM522.2 89.2h4.6v4.7h-4.6zM568.2 89.2h4.6v4.7h-4.6zM530.5 128.1h4.6v4.7h-4.6zM559.8 128.1h4.6v4.7h-4.6zM522.2 141.1h4.6v4.7h-4.6zM568.2 141.1h4.6v4.7h-4.6zM513.8 154.1h4.6v4.7h-4.6zM576.6 154.1h4.6v4.7h-4.6zM509.6 162.7h4.6v4.7h-4.6zM580.8 162.7h4.6v4.7h-4.6zM505.4 171.4h4.6v4.7h-4.6zM584.9 171.4h4.6v4.7h-4.6zM501.2 175.7h4.6v4.7h-4.6zM589.1 175.7h4.6v4.7h-4.6zM501.2 180.0h4.6v4.7h-4.6zM589.1 180.0h4.6v4.7h-4.6zM497.1 184.4h4.6v4.7h-4.6zM593.3 184.4h4.6v4.7h-4.6zM497.1 188.7h4.6v4.7h-4.6zM593.3 188.7h4.6v4.7h-4.6zM492.9 193.0h4.6v4.7h-4.6zM492.9 197.4h4.6v4.7h-4.6zM488.7 201.7h4.6v4.7h-4.6zM488.7 206.0h4.6v4.7h-4.6zM484.5 210.3h4.6v4.7h-4.6zM484.5 214.7h4.6v4.7h-4.6zM480.3 219.0h4.6v4.7h-4.6zM480.3 223.3h4.6v4.7h-4.6zM476.1 227.6h4.6v4.7h-4.6zM476.1 232.0h4.6v4.7h-4.6z"/><path fill="#ff0000" d="M430.1 80.5h33.9v4.7h-33.9zM476.1 80.5h21.3v4.7h-21.3zM400.8 84.9h21.3v4.7h-21.3zM505.4 84.9h8.8v4.7h-8.8zM580.8 84.9h8.8v4.7h-8.8zM396.6 89.2h4.6v4.7h-4.6zM518.0 89.2h4.6v4.7h-4.6zM572.4 89.2h4.6v4.7h-4.6zM526.3 93.5h4.6v4.7h-4.6zM564.0 93.5h4.6v4.7h-4.6zM526.3 132.4h4.6v4.7h-4.6zM564.0 132.4h4.6v4.7h-4.6zM518.0 145.4h4.6v4.7h-4.6zM572.4 145.4h4.6v4.7h-4.6zM513.8 149.8h4.6v4.7h-4.6zM576.6 149.8h4.6v4.7h-4.6zM509.6 158.4h4.6v4.7h-4.6zM580.8 158.4h4.6v4.7h-4.6zM505.4 162.7h4.6v4.7h-4.6zM584.9 162.7h4.6v4.7h-4.6zM505.4 167.1h4.6v4.7h-4.6zM584.9 167.1h4.6v4.7h-4.6zM501.2 171.4h4.6v4.7h-4.6zM589.1 171.4h4.6v4.7h-4.6zM497.1 180.0h4.6v4.7h-4.6zM593.3 180.0h4.6v4.7h-4.6zM492.9 184.4h4.6v4.7h-4.6zM492.9 188.7h4.6v4.7h-4.6zM488.7 193.0h4.6v4.7h-4.6zM488.7 197.4h4.6v4.7h-4.6zM484.5 201.7h4.6v4.7h-4.6zM484.5 206.0h4.6v4.7h-4.6zM480.3 210.3h4.6v4.7h-4.6zM476.1 214.7h8.8v4.7h-8.8zM476.1 219.0h4.6v4.7h-4.6zM471.9 223.3h8.8v4.7h-8.8zM471.9 227.6h4.6v4.7h-4.6zM467.8 232.0h8.8v4.7h-8.8z"/><path fill="#ef0000" d="M463.6 80.5h13.0v4.7h-13.0zM421.7 84.9h29.7v4.7h-29.7zM497.1 84.9h8.8v4.7h-8.8zM589.1 84.9h8.8v4.7h-8.8zM400.8 89.2h21.3v4.7h-21.3zM513.8 89.2h4.6v4.7h-4.6zM576.6 89.2h4.6v4.7h-4.6zM522.2 93.5h4.6v4.7h-4.6zM568.2 93.5h4.6v4.7h-4.6zM530.5 97.8h4.6v4.7h-4.6zM559.8 97.8h4.6v4.7h-4.6zM522.2 136.8h4.6v4.7h-4.6zM568.2 136.8h4.6v4.7h-4.6zM518.0 141.1h4.6v4.7h-4.6zM572.4 141.1h4.6v4.7h-4.6zM513.8 145.4h4.6v4.7h-4.6zM576.6 145.4h4.6v4.7h-4.6zM509.6 154.1h4.6v4.7h-4.6zM580.8 154.1h4.6v4.7h-4.6zM505.4 158.4h4.6v4.7h-4.6zM584.9 158.4h4.6v4.7h-4.6zM501.2 167.1h4.6v4.7h-4.6zM589.1 167.1h4.6v4.7h-4.6zM497.1 171.4h4.6v4.7h-4.6zM593.3 171.4h4.6v4.7h-4.6zM497.1 175.7h4.6v4.7h-4.6zM593.3 175.7h4.6v4.7h-4.6zM492.9 180.0h4.6v4.7h-4.6zM488.7 184.4h4.6v4.7h-4.6zM488.7 188.7h4.6v4.7h-4.6zM484.5 193.0h4.6v4.7h-4.6zM484.5 197.4h4.6v4.7h-4.6zM480.3 201.7h4.6v4.7h-4.6zM476.1 206.0h8.8v4.7h-8.8zM476.1 210.3h4.6v4.7h-4.6zM471.9 214.7h4.6v4.7h-4.6zM471.9 219.0h4.6v4.7h-4.6zM467.8 223.3h4.6v4.7h-4.6zM463.6 227.6h8.8v4.7h-8.8zM463.6 232.0h4.6v4.7h-4.6z"/><path fill="#df0000" d="M451.0 84.9h46.4v4.7h-46.4zM421.7 89.2h25.5v4.7h-25.5zM505.4 89.2h8.8v4.7h-8.8zM580.8 89.2h8.8v4.7h-8.8zM396.6 93.5h25.5v4.7h-25.5zM518.0 93.5h4.6v4.7h-4.6zM572.4 93.5h4.6v4.7h-4.6zM396.6 97.8h4.6v4.7h-4.6zM538.9 115.1h4.6v4.7h-4.6zM551.5 115.1h4.6v4.7h-4.6zM534.7 119.5h4.6v4.7h-4.6zM555.6 119.5h4.6v4.7h-4.6zM530.5 123.8h4.6v4.7h-4.6zM559.8 123.8h4.6v4.7h-4.6zM526.3 128.1h4.6v4.7h-4.6zM564.0 128.1h4.6v4.7h-4.6zM522.2 132.4h4.6v4.7h-4.6zM568.2 132.4h4.6v4.7h-4.6zM518.0 136.8h4.6v4.7h-4.6zM572.4 136.8h4.6v4.7h-4.6zM509.6 149.8h4.6v4.7h-4.6zM580.8 149.8h4.6v4.7h-4.6zM505.4 154.1h4.6v4.7h-4.6zM584.9 154.1h4.6v4.7h-4.6zM501.2 158.4h4.6v4.7h-4.6zM589.1 158.4h4.6v4.7h-4.6zM501.2 162.7h4.6v4.7h-4.6zM589.1 162.7h4.6v4.7h-4.6zM497.1 167.1h4.6v4.7h-4.6zM593.3 167.1h4.6v4.7h-4.6zM492.9 171.4h4.6v4.7h-4.6zM492.9 175.7h4.6v4.7h-4.6zM488.7 180.0h4.6v4.7h-4.6zM484.5 184.4h4.6v4.7h-4.6zM484.5 188.7h4.6v4.7h-4.6zM480.3 193.0h4.6v4.7h-4.6zM476.1 197.4h8.8v4.7h-8.8zM476.1 201.7h4.6v4.7h-4.6zM471.9 206.0h4.6v4.7h-4.6zM467.8 210.3h8.8v4.7h-8.8zM467.8 214.7h4.6v4.7h-4.6zM463.6 219.0h8.8v4.7h-8.8zM459.4 223.3h8.8v4.7h-8.8zM459.4 227.6h4.6v4.7h-4.6zM455.2 232.0h8.8v4.7h-8.8z"/><path fill="#cf0000" d="M446.8 89.2h59.0v4.7h-59.0zM589.1 89.2h8.8v4.7h-8.8zM421.7 93.5h21.3v4.7h-21.3zM513.8 93.5h4.6v4.7h-4.6zM576.6 93.5h4.6v4.7h-4.6zM400.8 97.8h21.3v4.7h-21.3zM526.3 97.8h4.6v4.7h-4.6zM564.0 97.8h4.6v4.7h-4.6zM396.6 102.2h8.8v4.7h-8.8zM534.7 102.2h4.6v4.7h-4.6zM555.6 102.2h4.6v4.7h-4.6zM513.8 141.1h4.6v4.7h-4.6zM576.6 141.1h4.6v4.7h-4.6zM509.6 145.4h4.6v4.7h-4.6zM580.8 145.4h4.6v4.7h-4.6zM505.4 149.8h4.6v4.7h-4.6zM584.9 149.8h4.6v4.7h-4.6zM501.2 154.1h4.6v4.7h-4.6zM589.1 154.1h4.6v4.7h-4.6zM497.1 158.4h4.6v4.7h-4.6zM593.3 158.4h4.6v4.7h-4.6zM497.1 162.7h4.6v4.7h-4.6zM593.3 162.7h4.6v4.7h-4.6zM492.9 167.1h4.6v4.7h-4.6zM488.7 171.4h4.6v4.7h-4.6zM484.5 175.7h8.8v4.7h-8.8zM484.5 180.0h4.6v4.7h-4.6zM480.3 184.4h4.6v4.7h-4.6zM476.1 188.7h8.8v4.7h-8.8zM471.9 193.0h8.8v4.7h-8.8zM471.9 197.4h4.6v4.7h-4.6zM467.8 201.7h8.8v4.7h-8.8zM463.6 206.0h8.8v4.7h-8.8zM463.6 210.3h4.6v4.7h-4.6zM459.4 214.7h8.8v4.7h-8.8zM455.2 219.0h8.8v4.7h-8.8zM455.2 223.3h4.6v4.7h-4.6zM451.0 227.6h8.8v4.7h-8.8zM446.8 232.0h8.8v4.7h-8.8z"/><path fill="#bf0000" d="M442.6 93.5h38.1v4.7h-38.1zM492.9 93.5h21.3v4.7h-21.3zM580.8 93.5h17.1v4.7h-17.1zM421.7 97.8h25.5v4.7h-25.5zM522.2 97.8h4.6v4.7h-4.6zM568.2 97.8h4.6v4.7h-4.6zM405.0 102.2h21.3v4.7h-21.3zM396.6 106.5h13.0v4.7h-13.0zM526.3 123.8h4.6v4.7h-4.6zM564.0 123.8h4.6v4.7h-4.6zM522.2 128.1h4.6v4.7h-4.6zM568.2 128.1h4.6v4.7h-4.6zM518.0 132.4h4.6v4.7h-4.6zM572.4 132.4h4.6v4.7h-4.6zM513.8 136.8h4.6v4.7h-4.6zM576.6 136.8h4.6v4.7h-4.6zM509.6 141.1h4.6v4.7h-4.6zM580.8 141.1h4.6v4.7h-4.6zM505.4 145.4h4.6v4.7h-4.6zM584.9 145.4h4.6v4.7h-4.6zM501.2 149.8h4.6v4.7h-4.6zM589.1 149.8h4.6v4.7h-4.6zM497.1 154.1h4.6v4.7h-4.6zM593.3 154.1h4.6v4.7h-4.6zM492.9 158.4h4.6v4.7h-4.6zM488.7 162.7h8.8v4.7h-8.8zM488.7 167.1h4.6v4.7h-4.6zM484.5 171.4h4.6v4.7h-4.6zM480.3 175.7h4.6v4.7h-4.6zM476.1 180.0h8.8v4.7h-8.8zM471.9 184.4h8.8v4.7h-8.8zM467.8 188.7h8.8v4.7h-8.8zM467.8 193.0h4.6v4.7h-4.6zM463.6 197.4h8.8v4.7h-8.8zM459.4 201.7h8.8v4.7h-8.8zM455.2 206.0h8.8v4.7h-8.8zM455.2 210.3h8.8v4.7h-8.8zM451.0 214.7h8.8v4.7h-8.8zM446.8 219.0h8.8v4.7h-8.8zM442.6 223.3h13.0v4.7h-13.0zM442.6 227.6h8.8v4.7h-8.8zM438.5 232.0h8.8v4.7h-8.8z"/><path fill="#af0000" d="M480.3 93.5h13.0v4.7h-13.0zM446.8 97.8h33.9v4.7h-33.9zM509.6 97.8h13.0v4.7h-13.0zM572.4 97.8h13.0v4.7h-13.0zM425.9 102.2h25.5v4.7h-25.5zM530.5 102.2h4.6v4.7h-4.6zM559.8 102.2h4.6v4.7h-4.6zM409.2 106.5h25.5v4.7h-25.5zM538.9 106.5h4.6v4.7h-4.6zM551.5 106.5h4.6v4.7h-4.6zM396.6 110.8h21.3v4.7h-21.3zM543.1 110.8h8.8v4.7h-8.8zM396.6 115.1h8.8v4.7h-8.8zM530.5 119.5h4.6v4.7h-4.6zM559.8 119.5h4.6v4.7h-4.6zM518.0 128.1h4.6v4.7h-4.6zM572.4 128.1h4.6v4.7h-4.6zM513.8 132.4h4.6v4.7h-4.6zM576.6 132.4h4.6v4.7h-4.6zM509.6 136.8h4.6v4.7h-4.6zM580.8 136.8h4.6v4.7h-4.6zM505.4 141.1h4.6v4.7h-4.6zM584.9 141.1h4.6v4.7h-4.6zM501.2 145.4h4.6v4.7h-4.6zM589.1 145.4h4.6v4.7h-4.6zM497.1 149.8h4.6v4.7h-4.6zM593.3 149.8h4.6v4.7h-4.6zM492.9 154.1h4.6v4.7h-4.6zM488.7 158.4h4.6v4.7h-4.6zM484.5 162.7h4.6v4.7h-4.6zM480.3 167.1h8.8v4.7h-8.8zM476.1 171.4h8.8v4.7h-8.8zM471.9 175.7h8.8v4.7h-8.8zM467.8 180.0h8.8v4.7h-8.8zM463.6 184.4h8.8v4.7h-8.8zM459.4 188.7h8.8v4.7h-8.8zM459.4 193.0h8.8v4.7h-8.8zM455.2 197.4h8.8v4.7h-8.8zM451.0 201.7h8.8v4.7h-8.8zM446.8 206.0h8.8v4.7h-8.8zM442.6 210.3h13.0v4.7h-13.0zM438.5 214.7h13.0v4.7h-13.0zM438.5 219.0h8.8v4.7h-8.8zM434.3 223.3h8.8v4.7h-8.8zM430.1 227.6h13.0v4.7h-13.0zM425.9 232.0h13.0v4.7h-13.0z"/><path fill="#9f0000" d="M480.3 97.8h29.7v4.7h-29.7zM584.9 97.8h13.0v4.7h-13.0zM451.0 102.2h33.9v4.7h-33.9zM518.0 102.2h13.0v4.7h-13.0zM564.0 102.2h13.0v4.7h-13.0zM434.3 106.5h25.5v4.7h-25.5zM417.5 110.8h25.5v4.7h-25.5zM405.0 115.1h25.5v4.7h-25.5zM534.7 115.1h4.6v4.7h-4.6zM555.6 115.1h4.6v4.7h-4.6zM396.6 119.5h21.3v4.7h-21.3zM526.3 119.5h4.6v4.7h-4.6zM564.0 119.5h4.6v4.7h-4.6zM396.6 123.8h8.8v4.7h-8.8zM522.2 123.8h4.6v4.7h-4.6zM568.2 123.8h4.6v4.7h-4.6zM513.8 128.1h4.6v4.7h-4.6zM576.6 128.1h4.6v4.7h-4.6zM509.6 132.4h4.6v4.7h-4.6zM580.8 132.4h4.6v4.7h-4.6zM501.2 136.8h8.8v4.7h-8.8zM584.9 136.8h8.8v4.7h-8.8zM497.1 141.1h8.8v4.7h-8.8zM589.1 141.1h8.8v4.7h-8.8zM492.9 145.4h8.8v4.7h-8.8zM593.3 145.4h4.6v4.7h-4.6zM488.7 149.8h8.8v4.7h-8.8zM484.5 154.1h8.8v4.7h-8.8zM480.3 158.4h8.8v4.7h-8.8zM476.1 162.7h8.8v4.7h-8.8zM471.9 167.1h8.8v4.7h-8.8zM467.8 171.4h8.8v4.7h-8.8zM463.6 175.7h8.8v4.7h-8.8zM459.4 180.0h8.8v4.7h-8.8zM455.2 184.4h8.8v4.7h-8.8zM451.0 188.7h8.8v4.7h-8.8zM446.8 193.0h13.0v4.7h-13.0zM442.6 197.4h13.0v4.7h-13.0zM438.5 201.7h13.0v4.7h-13.0zM434.3 206.0h13.0v4.7h-13.0zM430.1 210.3h13.0v4.7h-13.0zM425.9 214.7h13.0v4.7h-13.0zM421.7 219.0h17.1v4.7h-17.1zM417.5 223.3h17.1v4.7h-17.1zM413.3 227.6h17.1v4.7h-17.1zM413.3 232.0h13.0v4.7h-13.0z"/><path fill="#8f0000" d="M484.5 102.2h33.9v4.7h-33.9zM576.6 102.2h21.3v4.7h-21.3zM459.4 106.5h38.1v4.7h-38.1zM534.7 106.5h4.6v4.7h-4.6zM555.6 106.5h4.6v4.7h-4.6zM442.6 110.8h33.9v4.7h-33.9zM430.1 115.1h29.7v4.7h-29.7zM530.5 115.1h4.6v4.7h-4.6zM559.8 115.1h4.6v4.7h-4.6zM417.5 119.5h29.7v4.7h-29.7zM522.2 119.5h4.6v4.7h-4.6zM568.2 119.5h4.6v4.7h-4.6zM405.0 123.8h29.7v4.7h-29.7zM513.8 123.8h8.8v4.7h-8.8zM572.4 123.8h8.8v4.7h-8.8zM396.6 128.1h25.5v4.7h-25.5zM505.4 128.1h8.8v4.7h-8.8zM580.8 128.1h8.8v4.7h-8.8zM396.6 132.4h17.1v4.7h-17.1zM501.2 132.4h8.8v4.7h-8.8zM584.9 132.4h8.8v4.7h-8.8zM396.6 136.8h8.8v4.7h-8.8zM492.9 136.8h8.8v4.7h-8.8zM593.3 136.8h4.6v4.7h-4.6zM488.7 141.1h8.8v4.7h-8.8zM480.3 145.4h13.0v4.7h-13.0zM476.1 149.8h13.0v4.7h-13.0zM471.9 154.1h13.0v4.7h-13.0zM467.8 158.4h13.0v4.7h-13.0zM459.4 162.7h17.1v4.7h-17.1zM455.2 167.1h17.1v4.7h-17.1zM451.0 171.4h17.1v4.7h-17.1zM446.8 175.7h17.1v4.7h-17.1zM442.6 180.0h17.1v4.7h-17.1zM438.5 184.4h17.1v4.7h-17.1zM434.3 188.7h17.1v4.7h-17.1zM425.9 193.0h21.3v4.7h-21.3zM421.7 197.4h21.3v4.7h-21.3zM417.5 201.7h21.3v4.7h-21.3zM413.3 206.0h21.3v4.7h-21.3zM409.2 210.3h21.3v4.7h-21.3zM405.0 214.7h21.3v4.7h-21.3zM400.8 219.0h21.3v4.7h-21.3zM396.6 223.3h21.3v4.7h-21.3zM396.6 227.6h17.1v4.7h-17.1zM396.6 232.0h17.1v4.7h-17.1z"/><path fill="#800000" d="M497.1 106.5h38.1v4.7h-38.1zM559.8 106.5h38.1v4.7h-38.1zM476.1 110.8h67.4v4.7h-67.4zM551.5 110.8h46.4v4.7h-46.4zM459.4 115.1h71.6v4.7h-71.6zM564.0 115.1h33.9v4.7h-33.9zM446.8 119.5h75.7v4.7h-75.7zM572.4 119.5h25.5v4.7h-25.5zM434.3 123.8h79.9v4.7h-79.9zM580.8 123.8h17.1v4.7h-17.1zM421.7 128.1h84.1v4.7h-84.1zM589.1 128.1h8.8v4.7h-8.8zM413.3 132.4h88.3v4.7h-88.3zM593.3 132.4h4.6v4.7h-4.6zM405.0 136.8h88.3v4.7h-88.3zM396.6 141.1h92.5v4.7h-92.5zM396.6 145.4h84.1v4.7h-84.1zM396.6 149.8h79.9v4.7h-79.9zM396.6 154.1h75.7v4.7h-75.7zM396.6 158.4h71.6v4.7h-71.6zM396.6 162.7h63.2v4.7h-63.2zM396.6 167.1h59.0v4.7h-59.0zM396.6 171.4h54.8v4.7h-54.8zM396.6 175.7h50.6v4.7h-50.6zM396.6 180.0h46.4v4.7h-46.4zM396.6 184.4h42.3v4.7h-42.3zM396.6 188.7h38.1v4.7h-38.1zM396.6 193.0h29.7v4.7h-29.7zM396.6 197.4h25.5v4.7h-25.5zM396.6 201.7h21.3v4.7h-21.3zM396.6 206.0h17.1v4.7h-17.1zM396.6 210.3h13.0v4.7h-13.0zM396.6 214.7h8.8v4.7h-8.8zM396.6 219.0h4.6v4.7h-4.6z"/><path fill="#00afff" d="M543.1 132.4h8.8v4.7h-8.8zM538.9 188.7h4.6v4.7h-4.6zM551.5 188.7h4.6v4.7h-4.6z"/><path fill="#0030ff" d="M543.1 145.4h8.8v4.7h-8.8z"/><path fill="#0000df" d="M543.1 158.4h8.8v4.7h-8.8z"/><path fill="#0000af" d="M543.1 171.4h8.8v4.7h-8.8z"/><path fill="#fff" d="M43.2 356.5h4.6v4.7h-4.6zM43.2 360.8h4.6v4.7h-4.6zM43.2 365.1h4.6v4.7h-4.6zM43.2 369.4h4.6v4.7h-4.6zM43.2 373.7h4.6v4.7h-4.6zM43.2 378.0h4.6v4.7h-4.6zM43.2 382.4h4.6v4.7h-4.6zM43.2 386.7h4.6v4.7h-4.6zM43.2 391.0h4.6v4.7h-4.6zM43.2 395.3h4.6v4.7h-4.6zM43.2 399.6h4.6v4.7h-4.6zM43.2 403.9h4.6v4.7h-4.6zM43.2 408.2h4.6v4.7h-4.6zM43.2 412.5h4.6v4.7h-4.6zM43.2 416.8h4.6v4.7h-4.6zM43.2 421.1h4.6v4.7h-4.6zM43.2 425.4h4.6v4.7h-4.6zM43.2 429.7h4.6v4.7h-4.6zM43.2 434.0h4.6v4.7h-4.6zM43.2 438.4h4.6v4.7h-4.6zM43.2 442.7h4.6v4.7h-4.6zM43.2 447.0h4.6v4.7h-4.6zM43.2 451.3h4.6v4.7h-4.6zM43.2 455.6h4.6v4.7h-4.6zM43.2 459.9h4.6v4.7h-4.6zM43.2 464.2h4.6v4.7h-4.6zM43.2 468.5h4.6v4.7h-4.6zM43.2 472.8h4.6v4.7h-4.6zM43.2 477.1h4.6v4.7h-4.6zM43.2 481.4h4.6v4.7h-4.6zM43.2 485.8h4.6v4.7h-4.6zM43.2 490.1h4.6v4.7h-4.6zM43.2 494.4h4.6v4.7h-4.6zM43.2 498.7h4.6v4.7h-4.6zM43.2 503.0h4.6v4.7h-4.6zM43.2 507.3h4.6v4.7h-4.6zM43.2 511.6h4.6v4.7h-4.6zM43.2 515.9h4.6v4.7h-4.6z"/><path fill="#0000bf" d="M47.4 356.5h4.6v4.7h-4.6zM47.4 360.8h4.6v4.7h-4.6zM51.6 399.6h4.6v4.7h-4.6zM55.8 412.5h4.6v4.7h-4.6zM85.3 429.7h4.6v4.7h-4.6zM123.1 434.0h4.6v4.7h-4.6zM156.8 438.4h4.6v4.7h-4.6zM47.4 515.9h4.6v4.7h-4.6zM47.4 520.2h4.6v4.7h-4.6z"/><path fill="#0050ff" d="M51.6 356.5h4.6v4.7h-4.6zM51.6 360.8h4.6v4.7h-4.6zM60.0 403.9h4.6v4.7h-4.6zM76.8 421.1h4.6v4.7h-4.6zM106.3 429.7h4.6v4.7h-4.6zM144.1 434.0h4.6v4.7h-4.6zM169.4 438.4h4.6v4.7h-4.6zM219.9 438.4h4.6v4.7h-4.6zM118.9 442.7h4.6v4.7h-4.6zM93.7 447.0h4.6v4.7h-4.6zM72.6 455.6h4.6v4.7h-4.6zM55.8 481.4h4.6v4.7h-4.6zM51.6 511.6h4.6v4.7h-4.6zM51.6 515.9h4.6v4.7h-4.6z"/><path fill="#00bfff" d="M55.8 356.5h4.6v4.7h-4.6zM68.4 403.9h4.6v4.7h-4.6zM81.1 416.8h4.6v4.7h-4.6zM89.5 421.1h4.6v4.7h-4.6zM102.1 425.4h4.6v4.7h-4.6zM123.1 429.7h4.6v4.7h-4.6zM156.8 434.0h4.6v4.7h-4.6zM135.7 442.7h4.6v4.7h-4.6zM110.5 447.0h4.6v4.7h-4.6zM93.7 451.3h4.6v4.7h-4.6zM85.3 455.6h4.6v4.7h-4.6zM76.8 459.9h4.6v4.7h-4.6zM72.6 464.2h4.6v4.7h-4.6zM68.4 468.5h4.6v4.7h-4.6zM64.2 477.1h4.6v4.7h-4.6zM60.0 490.1h4.6v4.7h-4.6zM55.8 515.9h4.6v4.7h-4.6zM55.8 520.2h4.6v4.7h-4.6zM55.8 524.5h4.6v4.7h-4.6z"/><path fill="#00ffff" d="M60.0 356.5h4.6v4.7h-4.6zM60.0 360.8h4.6v4.7h-4.6zM64.2 382.4h4.6v4.7h-4.6zM68.4 395.3h4.6v4.7h-4.6zM89.5 416.8h4.6v4.7h-4.6zM228.3 434.0h4.6v4.7h-4.6zM207.2 438.4h4.6v4.7h-4.6zM144.1 442.7h4.6v4.7h-4.6zM118.9 447.0h4.6v4.7h-4.6zM93.7 455.6h4.6v4.7h-4.6zM85.3 459.9h4.6v4.7h-4.6zM72.6 472.8h4.6v4.7h-4.6zM64.2 490.1h4.6v4.7h-4.6zM60.0 511.6h4.6v4.7h-4.6zM60.0 515.9h4.6v4.7h-4.6z"/><path fill="#40ffbf" d="M64.2 356.5h4.6v4.7h-4.6zM64.2 360.8h4.6v4.7h-4.6zM68.4 378.0h4.6v4.7h-4.6zM68.4 382.4h4.6v4.7h-4.6zM72.6 391.0h4.6v4.7h-4.6zM76.8 399.6h4.6v4.7h-4.6zM81.1 403.9h4.6v4.7h-4.6zM85.3 408.2h4.6v4.7h-4.6zM97.9 416.8h4.6v4.7h-4.6zM123.1 425.4h4.6v4.7h-4.6zM182.0 438.4h4.6v4.7h-4.6zM152.6 442.7h4.6v4.7h-4.6zM114.7 451.3h4.6v4.7h-4.6zM102.1 455.6h4.6v4.7h-4.6zM93.7 459.9h4.6v4.7h-4.6zM72.6 481.4h4.6v4.7h-4.6zM68.4 494.4h4.6v4.7h-4.6zM64.2 511.6h4.6v4.7h-4.6zM64.2 515.9h4.6v4.7h-4.6zM64.2 520.2h4.6v4.7h-4.6z"/><path fill="#70ff8f" d="M68.4 356.5h4.6v4.7h-4.6zM68.4 360.8h4.6v4.7h-4.6zM72.6 378.0h4.6v4.7h-4.6zM76.8 391.0h4.6v4.7h-4.6zM81.1 395.3h4.6v4.7h-4.6zM97.9 412.5h4.6v4.7h-4.6zM106.3 416.8h4.6v4.7h-4.6zM148.4 429.7h4.6v4.7h-4.6zM215.7 434.0h4.6v4.7h-4.6zM156.8 442.7h4.6v4.7h-4.6zM135.7 447.0h4.6v4.7h-4.6zM110.5 455.6h4.6v4.7h-4.6zM102.1 459.9h4.6v4.7h-4.6zM93.7 464.2h4.6v4.7h-4.6zM89.5 468.5h4.6v4.7h-4.6zM85.3 472.8h4.6v4.7h-4.6zM81.1 477.1h4.6v4.7h-4.6zM76.8 485.8h4.6v4.7h-4.6zM72.6 494.4h4.6v4.7h-4.6zM68.4 511.6h4.6v4.7h-4.6zM68.4 515.9h4.6v4.7h-4.6zM68.4 520.2h4.6v4.7h-4.6z"/><path fill="#9fff60" d="M72.6 356.5h4.6v4.7h-4.6zM72.6 360.8h4.6v4.7h-4.6zM76.8 373.7h4.6v4.7h-4.6zM76.8 378.0h4.6v4.7h-4.6zM81.1 386.7h4.6v4.7h-4.6zM89.5 399.6h4.6v4.7h-4.6zM93.7 403.9h4.6v4.7h-4.6zM106.3 412.5h4.6v4.7h-4.6zM114.7 416.8h4.6v4.7h-4.6zM123.1 421.1h4.6v4.7h-4.6zM232.5 442.7h4.6v4.7h-4.6zM144.1 447.0h4.6v4.7h-4.6zM102.1 464.2h4.6v4.7h-4.6zM85.3 481.4h4.6v4.7h-4.6zM76.8 498.7h4.6v4.7h-4.6zM72.6 515.9h4.6v4.7h-4.6zM72.6 520.2h4.6v4.7h-4.6zM72.6 524.5h4.6v4.7h-4.6z"/><path fill="#bfff40" d="M76.8 356.5h4.6v4.7h-4.6zM76.8 360.8h4.6v4.7h-4.6zM76.8 365.1h4.6v4.7h-4.6zM81.1 373.7h4.6v4.7h-4.6zM81.1 378.0h4.6v4.7h-4.6zM85.3 386.7h4.6v4.7h-4.6zM93.7 399.6h4.6v4.7h-4.6zM97.9 403.9h4.6v4.7h-4.6zM110.5 412.5h4.6v4.7h-4.6zM118.9 416.8h4.6v4.7h-4.6zM156.8 429.7h4.6v4.7h-4.6zM165.2 442.7h4.6v4.7h-4.6zM148.4 447.0h4.6v4.7h-4.6zM123.1 455.6h4.6v4.7h-4.6zM114.7 459.9h4.6v4.7h-4.6zM106.3 464.2h4.6v4.7h-4.6zM89.5 481.4h4.6v4.7h-4.6zM85.3 485.8h4.6v4.7h-4.6zM81.1 498.7h4.6v4.7h-4.6zM76.8 511.6h4.6v4.7h-4.6zM76.8 515.9h4.6v4.7h-4.6z"/><path fill="#dfff20" d="M81.1 356.5h4.6v4.7h-4.6zM81.1 360.8h4.6v4.7h-4.6zM81.1 365.1h4.6v4.7h-4.6zM85.3 373.7h4.6v4.7h-4.6zM85.3 378.0h4.6v4.7h-4.6zM89.5 386.7h4.6v4.7h-4.6zM93.7 391.0h4.6v4.7h-4.6zM110.5 408.2h4.6v4.7h-4.6zM114.7 412.5h4.6v4.7h-4.6zM123.1 416.8h4.6v4.7h-4.6zM161.0 429.7h4.6v4.7h-4.6zM232.5 429.7h4.6v4.7h-4.6zM186.2 438.4h4.6v4.7h-4.6zM152.6 447.0h4.6v4.7h-4.6zM127.3 455.6h4.6v4.7h-4.6zM118.9 459.9h4.6v4.7h-4.6zM106.3 468.5h4.6v4.7h-4.6zM102.1 472.8h4.6v4.7h-4.6zM97.9 477.1h4.6v4.7h-4.6zM93.7 481.4h4.6v4.7h-4.6zM89.5 490.1h4.6v4.7h-4.6zM85.3 498.7h4.6v4.7h-4.6zM81.1 511.6h4.6v4.7h-4.6zM81.1 515.9h4.6v4.7h-4.6z"/><path fill="#ffff00" d="M85.3 356.5h4.6v4.7h-4.6zM85.3 360.8h4.6v4.7h-4.6zM85.3 365.1h4.6v4.7h-4.6zM89.5 373.7h4.6v4.7h-4.6zM89.5 378.0h4.6v4.7h-4.6zM93.7 386.7h4.6v4.7h-4.6zM97.9 391.0h4.6v4.7h-4.6zM110.5 403.9h4.6v4.7h-4.6zM114.7 408.2h4.6v4.7h-4.6zM139.9 421.1h4.6v4.7h-4.6zM228.3 429.7h4.6v4.7h-4.6zM169.4 442.7h4.6v4.7h-4.6zM219.9 442.7h4.6v4.7h-4.6zM144.1 451.3h4.6v4.7h-4.6zM123.1 459.9h4.6v4.7h-4.6zM110.5 468.5h4.6v4.7h-4.6zM106.3 472.8h4.6v4.7h-4.6zM102.1 477.1h4.6v4.7h-4.6zM97.9 481.4h4.6v4.7h-4.6zM93.7 490.1h4.6v4.7h-4.6zM89.5 498.7h4.6v4.7h-4.6zM85.3 511.6h4.6v4.7h-4.6zM85.3 515.9h4.6v4.7h-4.6zM81.1 537.4h4.6v4.7h-4.6z"/><path fill="#ffdf00" d="M89.5 356.5h4.6v4.7h-4.6zM89.5 360.8h4.6v4.7h-4.6zM93.7 373.7h4.6v4.7h-4.6zM97.9 382.4h4.6v4.7h-4.6zM102.1 391.0h4.6v4.7h-4.6zM106.3 395.3h4.6v4.7h-4.6zM110.5 399.6h4.6v4.7h-4.6zM114.7 403.9h4.6v4.7h-4.6zM118.9 408.2h4.6v4.7h-4.6zM127.3 412.5h4.6v4.7h-4.6zM144.1 421.1h4.6v4.7h-4.6zM224.1 429.7h4.6v4.7h-4.6zM215.7 442.7h4.6v4.7h-4.6zM236.7 447.0h4.6v4.7h-4.6zM148.4 451.3h4.6v4.7h-4.6zM123.1 464.2h4.6v4.7h-4.6zM110.5 472.8h4.6v4.7h-4.6zM106.3 477.1h4.6v4.7h-4.6zM102.1 485.8h4.6v4.7h-4.6zM97.9 490.1h4.6v4.7h-4.6zM93.7 498.7h4.6v4.7h-4.6zM93.7 503.0h4.6v4.7h-4.6zM89.5 511.6h4.6v4.7h-4.6zM89.5 515.9h4.6v4.7h-4.6zM89.5 520.2h4.6v4.7h-4.6zM85.3 541.8h4.6v4.7h-4.6z"/><path fill="#ffbf00" d="M93.7 356.5h4.6v4.7h-4.6zM97.9 369.4h4.6v4.7h-4.6zM97.9 373.7h4.6v4.7h-4.6zM102.1 378.0h4.6v4.7h-4.6zM102.1 382.4h4.6v4.7h-4.6zM106.3 386.7h4.6v4.7h-4.6zM110.5 395.3h4.6v4.7h-4.6zM114.7 399.6h4.6v4.7h-4.6zM118.9 403.9h4.6v4.7h-4.6zM131.5 412.5h4.6v4.7h-4.6zM139.9 416.8h4.6v4.7h-4.6zM148.4 421.1h4.6v4.7h-4.6zM169.4 429.7h4.6v4.7h-4.6zM219.9 429.7h4.6v4.7h-4.6zM232.5 447.0h4.6v4.7h-4.6zM152.6 451.3h4.6v4.7h-4.6zM135.7 459.9h4.6v4.7h-4.6zM127.3 464.2h4.6v4.7h-4.6zM123.1 468.5h4.6v4.7h-4.6zM110.5 481.4h4.6v4.7h-4.6zM106.3 485.8h4.6v4.7h-4.6zM102.1 494.4h4.6v4.7h-4.6zM97.9 503.0h4.6v4.7h-4.6zM97.9 507.3h4.6v4.7h-4.6zM93.7 515.9h4.6v4.7h-4.6zM93.7 520.2h4.6v4.7h-4.6zM93.7 524.5h4.6v4.7h-4.6zM93.7 528.8h4.6v4.7h-4.6z"/><path fill="#ffaf00" d="M97.9 356.5h4.6v4.7h-4.6zM97.9 360.8h4.6v4.7h-4.6zM97.9 365.1h4.6v4.7h-4.6zM102.1 373.7h4.6v4.7h-4.6zM106.3 382.4h4.6v4.7h-4.6zM110.5 391.0h4.6v4.7h-4.6zM114.7 395.3h4.6v4.7h-4.6zM118.9 399.6h4.6v4.7h-4.6zM123.1 403.9h4.6v4.7h-4.6zM127.3 408.2h4.6v4.7h-4.6zM135.7 412.5h4.6v4.7h-4.6zM236.7 425.4h4.6v4.7h-4.6zM203.0 434.0h4.6v4.7h-4.6zM228.3 447.0h4.6v4.7h-4.6zM144.1 455.6h4.6v4.7h-4.6zM131.5 464.2h4.6v4.7h-4.6zM118.9 472.8h4.6v4.7h-4.6zM114.7 477.1h4.6v4.7h-4.6zM110.5 485.8h4.6v4.7h-4.6zM106.3 490.1h4.6v4.7h-4.6zM102.1 498.7h4.6v4.7h-4.6zM102.1 503.0h4.6v4.7h-4.6zM97.9 511.6h4.6v4.7h-4.6zM97.9 515.9h4.6v4.7h-4.6zM97.9 520.2h4.6v4.7h-4.6zM93.7 533.1h4.6v4.7h-4.6zM93.7 537.4h4.6v4.7h-4.6zM93.7 541.8h4.6v4.7h-4.6zM93.7 546.1h4.6v4.7h-4.6z"/><path fill="#ff8f00" d="M102.1 356.5h4.6v4.7h-4.6zM106.3 365.1h4.6v4.7h-4.6zM106.3 369.4h4.6v4.7h-4.6zM110.5 378.0h4.6v4.7h-4.6zM110.5 382.4h4.6v4.7h-4.6zM114.7 386.7h4.6v4.7h-4.6zM123.1 399.6h4.6v4.7h-4.6zM139.9 412.5h4.6v4.7h-4.6zM173.6 429.7h4.6v4.7h-4.6zM215.7 429.7h4.6v4.7h-4.6zM177.8 442.7h4.6v4.7h-4.6zM224.1 447.0h4.6v4.7h-4.6zM240.9 451.3h4.6v4.7h-4.6zM135.7 464.2h4.6v4.7h-4.6zM131.5 468.5h4.6v4.7h-4.6zM127.3 472.8h4.6v4.7h-4.6zM123.1 477.1h4.6v4.7h-4.6zM118.9 481.4h4.6v4.7h-4.6zM114.7 485.8h4.6v4.7h-4.6zM110.5 494.4h4.6v4.7h-4.6zM106.3 503.0h4.6v4.7h-4.6zM106.3 507.3h4.6v4.7h-4.6zM102.1 515.9h4.6v4.7h-4.6zM102.1 520.2h4.6v4.7h-4.6zM102.1 524.5h4.6v4.7h-4.6zM102.1 528.8h4.6v4.7h-4.6zM102.1 533.1h4.6v4.7h-4.6z"/><path fill="#ff8000" d="M106.3 356.5h4.6v4.7h-4.6zM106.3 360.8h4.6v4.7h-4.6zM110.5 369.4h4.6v4.7h-4.6zM110.5 373.7h4.6v4.7h-4.6zM114.7 382.4h4.6v4.7h-4.6zM118.9 386.7h4.6v4.7h-4.6zM118.9 391.0h4.6v4.7h-4.6zM123.1 395.3h4.6v4.7h-4.6zM127.3 399.6h4.6v4.7h-4.6zM131.5 403.9h4.6v4.7h-4.6zM135.7 408.2h4.6v4.7h-4.6zM148.4 416.8h4.6v4.7h-4.6zM156.8 421.1h4.6v4.7h-4.6zM165.2 425.4h4.6v4.7h-4.6zM228.3 425.4h4.6v4.7h-4.6zM236.7 451.3h4.6v4.7h-4.6zM152.6 455.6h4.6v4.7h-4.6zM144.1 459.9h4.6v4.7h-4.6zM139.9 464.2h4.6v4.7h-4.6zM123.1 481.4h4.6v4.7h-4.6zM118.9 485.8h4.6v4.7h-4.6zM114.7 490.1h4.6v4.7h-4.6zM114.7 494.4h4.6v4.7h-4.6zM110.5 498.7h4.6v4.7h-4.6zM110.5 503.0h4.6v4.7h-4.6zM106.3 511.6h4.6v4.7h-4.6zM106.3 515.9h4.6v4.7h-4.6zM106.3 520.2h4.6v4.7h-4.6zM106.3 524.5h4.6v4.7h-4.6zM102.1 537.4h4.6v4.7h-4.6zM102.1 541.8h4.6v4.7h-4.6zM102.1 546.1h4.6v4.7h-4.6zM102.1 550.4h4.6v4.7h-4.6z"/><path fill="#ff7000" d="M110.5 356.5h4.6v4.7h-4.6zM110.5 360.8h4.6v4.7h-4.6zM110.5 365.1h4.6v4.7h-4.6zM114.7 373.7h4.6v4.7h-4.6zM114.7 378.0h4.6v4.7h-4.6zM118.9 382.4h4.6v4.7h-4.6zM123.1 391.0h4.6v4.7h-4.6zM127.3 395.3h4.6v4.7h-4.6zM131.5 399.6h4.6v4.7h-4.6zM135.7 403.9h4.6v4.7h-4.6zM139.9 408.2h4.6v4.7h-4.6zM144.1 412.5h4.6v4.7h-4.6zM152.6 416.8h4.6v4.7h-4.6zM240.9 421.1h4.6v4.7h-4.6zM207.2 442.7h4.6v4.7h-4.6zM169.4 447.0h4.6v4.7h-4.6zM219.9 447.0h4.6v4.7h-4.6zM161.0 451.3h4.6v4.7h-4.6zM232.5 451.3h4.6v4.7h-4.6zM148.4 459.9h4.6v4.7h-4.6zM135.7 468.5h4.6v4.7h-4.6zM131.5 472.8h4.6v4.7h-4.6zM127.3 477.1h4.6v4.7h-4.6zM123.1 485.8h4.6v4.7h-4.6zM118.9 490.1h4.6v4.7h-4.6zM114.7 498.7h4.6v4.7h-4.6zM114.7 503.0h4.6v4.7h-4.6zM110.5 507.3h4.6v4.7h-4.6zM110.5 511.6h4.6v4.7h-4.6zM110.5 515.9h4.6v4.7h-4.6zM110.5 520.2h4.6v4.7h-4.6zM106.3 528.8h4.6v4.7h-4.6zM106.3 533.1h4.6v4.7h-4.6zM106.3 537.4h4.6v4.7h-4.6zM106.3 541.8h4.6v4.7h-4.6zM106.3 546.1h4.6v4.7h-4.6zM106.3 550.4h4.6v4.7h-4.6zM106.3 554.7h4.6v4.7h-4.6z"/><path fill="#ff5000" d="M114.7 356.5h4.6v4.7h-4.6zM118.9 360.8h4.6v4.7h-4.6zM118.9 365.1h4.6v4.7h-4.6zM118.9 369.4h4.6v4.7h-4.6zM123.1 378.0h4.6v4.7h-4.6zM127.3 386.7h4.6v4.7h-4.6zM131.5 391.0h4.6v4.7h-4.6zM135.7 399.6h4.6v4.7h-4.6zM139.9 403.9h4.6v4.7h-4.6zM144.1 408.2h4.6v4.7h-4.6zM156.8 416.8h4.6v4.7h-4.6zM232.5 421.1h4.6v4.7h-4.6zM169.4 425.4h4.6v4.7h-4.6zM177.8 429.7h4.6v4.7h-4.6zM186.2 434.0h4.6v4.7h-4.6zM215.7 447.0h4.6v4.7h-4.6zM165.2 451.3h4.6v4.7h-4.6zM228.3 451.3h4.6v4.7h-4.6zM240.9 455.6h4.6v4.7h-4.6zM152.6 459.9h4.6v4.7h-4.6zM148.4 464.2h4.6v4.7h-4.6zM135.7 477.1h4.6v4.7h-4.6zM131.5 481.4h4.6v4.7h-4.6zM127.3 485.8h4.6v4.7h-4.6zM127.3 490.1h4.6v4.7h-4.6zM123.1 494.4h4.6v4.7h-4.6zM123.1 498.7h4.6v4.7h-4.6zM118.9 503.0h4.6v4.7h-4.6zM118.9 507.3h4.6v4.7h-4.6zM118.9 511.6h4.6v4.7h-4.6zM114.7 520.2h4.6v4.7h-4.6zM114.7 524.5h4.6v4.7h-4.6zM114.7 528.8h4.6v4.7h-4.6zM114.7 533.1h4.6v4.7h-4.6zM114.7 537.4h4.6v4.7h-4.6zM114.7 541.8h4.6v4.7h-4.6zM114.7 546.1h4.6v4.7h-4.6zM114.7 550.4h4.6v4.7h-4.6zM114.7 554.7h4.6v4.7h-4.6zM114.7 559.0h4.6v4.7h-4.6z"/><path fill="#ff4000" d="M118.9 356.5h4.6v4.7h-4.6zM123.1 360.8h4.6v4.7h-4.6zM123.1 365.1h4.6v4.7h-4.6zM123.1 369.4h4.6v4.7h-4.6zM123.1 373.7h4.6v4.7h-4.6zM127.3 378.0h4.6v4.7h-4.6zM127.3 382.4h4.6v4.7h-4.6zM131.5 386.7h4.6v4.7h-4.6zM135.7 395.3h4.6v4.7h-4.6zM139.9 399.6h4.6v4.7h-4.6zM144.1 403.9h4.6v4.7h-4.6zM148.4 408.2h4.6v4.7h-4.6zM152.6 412.5h4.6v4.7h-4.6zM240.9 416.8h4.6v4.7h-4.6zM165.2 421.1h4.6v4.7h-4.6zM219.9 425.4h4.6v4.7h-4.6zM198.8 434.0h4.6v4.7h-4.6zM173.6 447.0h4.6v4.7h-4.6zM161.0 455.6h4.6v4.7h-4.6zM236.7 455.6h4.6v4.7h-4.6zM144.1 468.5h4.6v4.7h-4.6zM139.9 472.8h4.6v4.7h-4.6zM135.7 481.4h4.6v4.7h-4.6zM131.5 485.8h4.6v4.7h-4.6zM127.3 494.4h4.6v4.7h-4.6zM127.3 498.7h4.6v4.7h-4.6zM123.1 503.0h4.6v4.7h-4.6zM123.1 507.3h4.6v4.7h-4.6zM123.1 511.6h4.6v4.7h-4.6zM118.9 515.9h4.6v4.7h-4.6zM118.9 520.2h4.6v4.7h-4.6zM118.9 524.5h4.6v4.7h-4.6zM118.9 528.8h4.6v4.7h-4.6zM118.9 533.1h4.6v4.7h-4.6zM118.9 537.4h4.6v4.7h-4.6zM118.9 541.8h4.6v4.7h-4.6zM118.9 546.1h4.6v4.7h-4.6zM118.9 550.4h4.6v4.7h-4.6zM118.9 554.7h4.6v4.7h-4.6zM118.9 559.0h4.6v4.7h-4.6z"/><path fill="#ff3000" d="M123.1 356.5h4.6v4.7h-4.6zM127.3 365.1h4.6v4.7h-4.6zM127.3 369.4h4.6v4.7h-4.6zM127.3 373.7h4.6v4.7h-4.6zM131.5 378.0h4.6v4.7h-4.6zM131.5 382.4h4.6v4.7h-4.6zM135.7 386.7h4.6v4.7h-4.6zM135.7 391.0h4.6v4.7h-4.6zM139.9 395.3h4.6v4.7h-4.6zM144.1 399.6h4.6v4.7h-4.6zM161.0 416.8h4.6v4.7h-4.6zM236.7 416.8h4.6v4.7h-4.6zM228.3 421.1h4.6v4.7h-4.6zM207.2 429.7h4.6v4.7h-4.6zM182.0 442.7h4.6v4.7h-4.6zM169.4 451.3h4.6v4.7h-4.6zM224.1 451.3h4.6v4.7h-4.6zM232.5 455.6h4.6v4.7h-4.6zM156.8 459.9h4.6v4.7h-4.6zM152.6 464.2h4.6v4.7h-4.6zM148.4 468.5h4.6v4.7h-4.6zM144.1 472.8h4.6v4.7h-4.6zM139.9 477.1h4.6v4.7h-4.6zM135.7 485.8h4.6v4.7h-4.6zM131.5 490.1h4.6v4.7h-4.6zM131.5 494.4h4.6v4.7h-4.6zM127.3 503.0h4.6v4.7h-4.6zM127.3 507.3h4.6v4.7h-4.6zM127.3 511.6h4.6v4.7h-4.6zM123.1 515.9h4.6v4.7h-4.6zM123.1 520.2h4.6v4.7h-4.6zM123.1 524.5h4.6v4.7h-4.6zM123.1 528.8h4.6v4.7h-4.6zM123.1 533.1h4.6v4.7h-4.6zM123.1 537.4h4.6v4.7h-4.6zM123.1 541.8h4.6v4.7h-4.6zM123.1 546.1h4.6v4.7h-4.6zM123.1 550.4h4.6v4.7h-4.6zM123.1 554.7h4.6v4.7h-4.6zM123.1 559.0h4.6v4.7h-4.6z"/><path fill="#ff2000" d="M127.3 356.5h4.6v4.7h-4.6zM127.3 360.8h4.6v4.7h-4.6zM131.5 365.1h4.6v4.7h-4.6zM131.5 369.4h4.6v4.7h-4.6zM131.5 373.7h4.6v4.7h-4.6zM135.7 378.0h4.6v4.7h-4.6zM135.7 382.4h4.6v4.7h-4.6zM139.9 391.0h4.6v4.7h-4.6zM144.1 395.3h4.6v4.7h-4.6zM148.4 403.9h4.6v4.7h-4.6zM152.6 408.2h4.6v4.7h-4.6zM156.8 412.5h4.6v4.7h-4.6zM224.1 421.1h4.6v4.7h-4.6zM173.6 425.4h4.6v4.7h-4.6zM215.7 425.4h4.6v4.7h-4.6zM203.0 442.7h4.6v4.7h-4.6zM211.4 447.0h4.6v4.7h-4.6zM219.9 451.3h4.6v4.7h-4.6zM165.2 455.6h4.6v4.7h-4.6zM161.0 459.9h4.6v4.7h-4.6zM240.9 459.9h4.6v4.7h-4.6zM152.6 468.5h4.6v4.7h-4.6zM148.4 472.8h4.6v4.7h-4.6zM144.1 477.1h4.6v4.7h-4.6zM139.9 481.4h4.6v4.7h-4.6zM139.9 485.8h4.6v4.7h-4.6zM135.7 490.1h4.6v4.7h-4.6zM135.7 494.4h4.6v4.7h-4.6zM131.5 498.7h4.6v4.7h-4.6zM131.5 503.0h4.6v4.7h-4.6zM131.5 507.3h4.6v4.7h-4.6zM131.5 511.6h4.6v4.7h-4.6zM127.3 515.9h4.6v4.7h-4.6zM127.3 520.2h4.6v4.7h-4.6zM127.3 524.5h4.6v4.7h-4.6zM127.3 528.8h4.6v4.7h-4.6zM127.3 533.1h4.6v4.7h-4.6zM127.3 537.4h4.6v4.7h-4.6zM127.3 541.8h4.6v4.7h-4.6zM127.3 546.1h4.6v4.7h-4.6zM127.3 550.4h4.6v4.7h-4.6zM127.3 554.7h4.6v4.7h-4.6zM127.3 559.0h4.6v4.7h-4.6z"/><path fill="#ff1000" d="M131.5 356.5h4.6v4.7h-4.6zM131.5 360.8h8.8v4.7h-8.8zM135.7 365.1h4.6v4.7h-4.6zM135.7 369.4h4.6v4.7h-4.6zM135.7 373.7h4.6v4.7h-4.6zM139.9 378.0h4.6v4.7h-4.6zM139.9 382.4h4.6v4.7h-4.6zM139.9 386.7h4.6v4.7h-4.6zM144.1 391.0h4.6v4.7h-4.6zM148.4 395.3h4.6v4.7h-4.6zM148.4 399.6h4.6v4.7h-4.6zM152.6 403.9h4.6v4.7h-4.6zM156.8 408.2h4.6v4.7h-4.6zM161.0 412.5h4.6v4.7h-4.6zM240.9 412.5h4.6v4.7h-4.6zM165.2 416.8h4.6v4.7h-4.6zM232.5 416.8h4.6v4.7h-4.6zM169.4 421.1h4.6v4.7h-4.6zM190.4 438.4h8.8v4.7h-8.8zM177.8 447.0h4.6v4.7h-4.6zM228.3 455.6h4.6v4.7h-4.6zM236.7 459.9h4.6v4.7h-4.6zM156.8 464.2h4.6v4.7h-4.6zM148.4 477.1h4.6v4.7h-4.6zM144.1 481.4h4.6v4.7h-4.6zM144.1 485.8h4.6v4.7h-4.6zM139.9 490.1h4.6v4.7h-4.6zM139.9 494.4h4.6v4.7h-4.6zM135.7 498.7h4.6v4.7h-4.6zM135.7 503.0h4.6v4.7h-4.6zM135.7 507.3h4.6v4.7h-4.6zM135.7 511.6h4.6v4.7h-4.6zM131.5 515.9h4.6v4.7h-4.6zM131.5 520.2h4.6v4.7h-4.6zM131.5 524.5h4.6v4.7h-4.6zM131.5 528.8h4.6v4.7h-4.6zM131.5 533.1h4.6v4.7h-4.6zM131.5 537.4h4.6v4.7h-4.6zM131.5 541.8h4.6v4.7h-4.6zM131.5 546.1h4.6v4.7h-4.6zM131.5 550.4h4.6v4.7h-4.6zM131.5 554.7h4.6v4.7h-4.6zM131.5 559.0h8.8v4.7h-8.8z"/><path fill="#ff0000" d="M135.7 356.5h8.8v4.7h-8.8zM139.9 360.8h4.6v4.7h-4.6zM139.9 365.1h4.6v4.7h-4.6zM139.9 369.4h4.6v4.7h-4.6zM139.9 373.7h4.6v4.7h-4.6zM144.1 378.0h4.6v4.7h-4.6zM144.1 382.4h4.6v4.7h-4.6zM144.1 386.7h4.6v4.7h-4.6zM148.4 391.0h4.6v4.7h-4.6zM152.6 399.6h4.6v4.7h-4.6zM156.8 403.9h4.6v4.7h-4.6zM236.7 412.5h4.6v4.7h-4.6zM228.3 416.8h4.6v4.7h-4.6zM219.9 421.1h4.6v4.7h-4.6zM211.4 425.4h4.6v4.7h-4.6zM182.0 429.7h4.6v4.7h-4.6zM173.6 451.3h4.6v4.7h-4.6zM215.7 451.3h4.6v4.7h-4.6zM169.4 455.6h4.6v4.7h-4.6zM224.1 455.6h4.6v4.7h-4.6zM165.2 459.9h4.6v4.7h-4.6zM232.5 459.9h4.6v4.7h-4.6zM161.0 464.2h4.6v4.7h-4.6zM240.9 464.2h4.6v4.7h-4.6zM156.8 468.5h4.6v4.7h-4.6zM152.6 472.8h4.6v4.7h-4.6zM152.6 477.1h4.6v4.7h-4.6zM148.4 481.4h4.6v4.7h-4.6zM148.4 485.8h4.6v4.7h-4.6zM144.1 490.1h4.6v4.7h-4.6zM144.1 494.4h4.6v4.7h-4.6zM139.9 498.7h4.6v4.7h-4.6zM139.9 503.0h4.6v4.7h-4.6zM139.9 507.3h4.6v4.7h-4.6zM139.9 511.6h4.6v4.7h-4.6zM135.7 515.9h8.8v4.7h-8.8zM135.7 520.2h4.6v4.7h-4.6zM135.7 524.5h4.6v4.7h-4.6zM135.7 528.8h4.6v4.7h-4.6zM135.7 533.1h4.6v4.7h-4.6zM135.7 537.4h4.6v4.7h-4.6zM135.7 541.8h4.6v4.7h-4.6zM135.7 546.1h8.8v4.7h-8.8zM135.7 550.4h8.8v4.7h-8.8zM135.7 554.7h8.8v4.7h-8.8zM139.9 559.0h4.6v4.7h-4.6z"/><path fill="#ef0000" d="M144.1 356.5h4.6v4.7h-4.6zM144.1 360.8h4.6v4.7h-4.6zM144.1 365.1h4.6v4.7h-4.6zM144.1 369.4h4.6v4.7h-4.6zM144.1 373.7h4.6v4.7h-4.6zM148.4 378.0h4.6v4.7h-4.6zM148.4 382.4h4.6v4.7h-4.6zM148.4 386.7h4.6v4.7h-4.6zM152.6 391.0h4.6v4.7h-4.6zM152.6 395.3h4.6v4.7h-4.6zM156.8 399.6h4.6v4.7h-4.6zM161.0 408.2h4.6v4.7h-4.6zM240.9 408.2h4.6v4.7h-4.6zM165.2 412.5h4.6v4.7h-4.6zM232.5 412.5h4.6v4.7h-4.6zM169.4 416.8h4.6v4.7h-4.6zM224.1 416.8h4.6v4.7h-4.6zM173.6 421.1h4.6v4.7h-4.6zM177.8 425.4h4.6v4.7h-4.6zM203.0 429.7h4.6v4.7h-4.6zM207.2 447.0h4.6v4.7h-4.6zM228.3 459.9h4.6v4.7h-4.6zM236.7 464.2h4.6v4.7h-4.6zM161.0 468.5h4.6v4.7h-4.6zM156.8 472.8h4.6v4.7h-4.6zM152.6 481.4h4.6v4.7h-4.6zM148.4 490.1h4.6v4.7h-4.6zM148.4 494.4h4.6v4.7h-4.6zM144.1 498.7h4.6v4.7h-4.6zM144.1 503.0h4.6v4.7h-4.6zM144.1 507.3h4.6v4.7h-4.6zM144.1 511.6h4.6v4.7h-4.6zM144.1 515.9h4.6v4.7h-4.6zM139.9 520.2h8.8v4.7h-8.8zM139.9 524.5h8.8v4.7h-8.8zM139.9 528.8h8.8v4.7h-8.8zM139.9 533.1h8.8v4.7h-8.8zM139.9 537.4h8.8v4.7h-8.8zM139.9 541.8h8.8v4.7h-8.8zM144.1 546.1h4.6v4.7h-4.6zM144.1 550.4h4.6v4.7h-4.6zM144.1 554.7h4.6v4.7h-4.6zM144.1 559.0h4.6v4.7h-4.6z"/><path fill="#df0000" d="M148.4 356.5h4.6v4.7h-4.6zM148.4 360.8h4.6v4.7h-4.6zM148.4 365.1h4.6v4.7h-4.6zM148.4 369.4h4.6v4.7h-4.6zM148.4 373.7h8.8v4.7h-8.8zM152.6 378.0h4.6v4.7h-4.6zM152.6 382.4h4.6v4.7h-4.6zM152.6 386.7h4.6v4.7h-4.6zM156.8 391.0h4.6v4.7h-4.6zM156.8 395.3h4.6v4.7h-4.6zM161.0 399.6h4.6v4.7h-4.6zM161.0 403.9h4.6v4.7h-4.6zM165.2 408.2h4.6v4.7h-4.6zM236.7 408.2h4.6v4.7h-4.6zM169.4 412.5h4.6v4.7h-4.6zM228.3 412.5h4.6v4.7h-4.6zM215.7 421.1h4.6v4.7h-4.6zM186.2 442.7h4.6v4.7h-4.6zM177.8 451.3h4.6v4.7h-4.6zM211.4 451.3h4.6v4.7h-4.6zM173.6 455.6h4.6v4.7h-4.6zM219.9 455.6h4.6v4.7h-4.6zM169.4 459.9h4.6v4.7h-4.6zM224.1 459.9h4.6v4.7h-4.6zM165.2 464.2h4.6v4.7h-4.6zM232.5 464.2h4.6v4.7h-4.6zM240.9 468.5h4.6v4.7h-4.6zM161.0 472.8h4.6v4.7h-4.6zM156.8 477.1h4.6v4.7h-4.6zM156.8 481.4h4.6v4.7h-4.6zM152.6 485.8h4.6v4.7h-4.6zM152.6 490.1h4.6v4.7h-4.6zM152.6 494.4h4.6v4.7h-4.6zM148.4 498.7h8.8v4.7h-8.8zM148.4 503.0h4.6v4.7h-4.6zM148.4 507.3h4.6v4.7h-4.6zM148.4 511.6h4.6v4.7h-4.6zM148.4 515.9h4.6v4.7h-4.6zM148.4 520.2h4.6v4.7h-4.6zM148.4 524.5h4.6v4.7h-4.6zM148.4 528.8h4.6v4.7h-4.6zM148.4 533.1h4.6v4.7h-4.6zM148.4 537.4h4.6v4.7h-4.6zM148.4 541.8h4.6v4.7h-4.6zM148.4 546.1h4.6v4.7h-4.6zM148.4 550.4h8.8v4.7h-8.8zM148.4 554.7h8.8v4.7h-8.8zM148.4 559.0h8.8v4.7h-8.8z"/><path fill="#cf0000" d="M152.6 356.5h4.6v4.7h-4.6zM152.6 360.8h4.6v4.7h-4.6zM152.6 365.1h8.8v4.7h-8.8zM152.6 369.4h8.8v4.7h-8.8zM156.8 373.7h4.6v4.7h-4.6zM156.8 378.0h4.6v4.7h-4.6zM156.8 382.4h4.6v4.7h-4.6zM156.8 386.7h4.6v4.7h-4.6zM161.0 391.0h4.6v4.7h-4.6zM161.0 395.3h4.6v4.7h-4.6zM165.2 399.6h4.6v4.7h-4.6zM165.2 403.9h4.6v4.7h-4.6zM236.7 403.9h8.8v4.7h-8.8zM169.4 408.2h4.6v4.7h-4.6zM232.5 408.2h4.6v4.7h-4.6zM224.1 412.5h4.6v4.7h-4.6zM173.6 416.8h4.6v4.7h-4.6zM219.9 416.8h4.6v4.7h-4.6zM177.8 421.1h4.6v4.7h-4.6zM211.4 421.1h4.6v4.7h-4.6zM207.2 425.4h4.6v4.7h-4.6zM198.8 442.7h4.6v4.7h-4.6zM182.0 447.0h4.6v4.7h-4.6zM215.7 455.6h4.6v4.7h-4.6zM169.4 464.2h4.6v4.7h-4.6zM228.3 464.2h4.6v4.7h-4.6zM165.2 468.5h4.6v4.7h-4.6zM236.7 468.5h4.6v4.7h-4.6zM165.2 472.8h4.6v4.7h-4.6zM240.9 472.8h4.6v4.7h-4.6zM161.0 477.1h4.6v4.7h-4.6zM161.0 481.4h4.6v4.7h-4.6zM156.8 485.8h8.8v4.7h-8.8zM156.8 490.1h4.6v4.7h-4.6zM156.8 494.4h4.6v4.7h-4.6zM156.8 498.7h4.6v4.7h-4.6zM152.6 503.0h8.8v4.7h-8.8zM152.6 507.3h8.8v4.7h-8.8zM152.6 511.6h8.8v4.7h-8.8zM152.6 515.9h4.6v4.7h-4.6zM152.6 520.2h4.6v4.7h-4.6zM152.6 524.5h8.8v4.7h-8.8zM152.6 528.8h8.8v4.7h-8.8zM152.6 533.1h8.8v4.7h-8.8zM152.6 537.4h8.8v4.7h-8.8zM152.6 541.8h8.8v4.7h-8.8zM152.6 546.1h8.8v4.7h-8.8zM156.8 550.4h4.6v4.7h-4.6zM156.8 554.7h8.8v4.7h-8.8zM156.8 559.0h8.8v4.7h-8.8z"/><path fill="#bf0000" d="M156.8 356.5h8.8v4.7h-8.8zM156.8 360.8h8.8v4.7h-8.8zM161.0 365.1h4.6v4.7h-4.6zM161.0 369.4h4.6v4.7h-4.6zM161.0 373.7h4.6v4.7h-4.6zM161.0 378.0h4.6v4.7h-4.6zM161.0 382.4h4.6v4.7h-4.6zM161.0 386.7h8.8v4.7h-8.8zM165.2 391.0h4.6v4.7h-4.6zM165.2 395.3h4.6v4.7h-4.6zM236.7 399.6h8.8v4.7h-8.8zM169.4 403.9h4.6v4.7h-4.6zM232.5 403.9h4.6v4.7h-4.6zM228.3 408.2h4.6v4.7h-4.6zM173.6 412.5h4.6v4.7h-4.6zM219.9 412.5h4.6v4.7h-4.6zM215.7 416.8h4.6v4.7h-4.6zM182.0 425.4h4.6v4.7h-4.6zM186.2 429.7h4.6v4.7h-4.6zM203.0 447.0h4.6v4.7h-4.6zM207.2 451.3h4.6v4.7h-4.6zM177.8 455.6h4.6v4.7h-4.6zM173.6 459.9h4.6v4.7h-4.6zM219.9 459.9h4.6v4.7h-4.6zM173.6 464.2h4.6v4.7h-4.6zM224.1 464.2h4.6v4.7h-4.6zM169.4 468.5h4.6v4.7h-4.6zM228.3 468.5h8.8v4.7h-8.8zM169.4 472.8h4.6v4.7h-4.6zM236.7 472.8h4.6v4.7h-4.6zM165.2 477.1h4.6v4.7h-4.6zM240.9 477.1h4.6v4.7h-4.6zM165.2 481.4h4.6v4.7h-4.6zM165.2 485.8h4.6v4.7h-4.6zM161.0 490.1h4.6v4.7h-4.6zM161.0 494.4h4.6v4.7h-4.6zM161.0 498.7h4.6v4.7h-4.6zM161.0 503.0h4.6v4.7h-4.6zM161.0 507.3h4.6v4.7h-4.6zM161.0 511.6h4.6v4.7h-4.6zM156.8 515.9h8.8v4.7h-8.8zM156.8 520.2h8.8v4.7h-8.8zM161.0 524.5h4.6v4.7h-4.6zM161.0 528.8h4.6v4.7h-4.6zM161.0 533.1h4.6v4.7h-4.6zM161.0 537.4h8.8v4.7h-8.8zM161.0 541.8h8.8v4.7h-8.8zM161.0 546.1h8.8v4.7h-8.8zM161.0 550.4h8.8v4.7h-8.8zM165.2 554.7h8.8v4.7h-8.8zM165.2 559.0h8.8v4.7h-8.8z"/><path fill="#af0000" d="M165.2 356.5h8.8v4.7h-8.8zM165.2 360.8h8.8v4.7h-8.8zM165.2 365.1h8.8v4.7h-8.8zM165.2 369.4h8.8v4.7h-8.8zM165.2 373.7h8.8v4.7h-8.8zM165.2 378.0h8.8v4.7h-8.8zM165.2 382.4h8.8v4.7h-8.8zM169.4 386.7h4.6v4.7h-4.6zM169.4 391.0h4.6v4.7h-4.6zM169.4 395.3h4.6v4.7h-4.6zM236.7 395.3h8.8v4.7h-8.8zM169.4 399.6h4.6v4.7h-4.6zM232.5 399.6h4.6v4.7h-4.6zM173.6 403.9h4.6v4.7h-4.6zM228.3 403.9h4.6v4.7h-4.6zM173.6 408.2h4.6v4.7h-4.6zM224.1 408.2h4.6v4.7h-4.6zM177.8 412.5h4.6v4.7h-4.6zM215.7 412.5h4.6v4.7h-4.6zM177.8 416.8h4.6v4.7h-4.6zM211.4 416.8h4.6v4.7h-4.6zM182.0 421.1h4.6v4.7h-4.6zM207.2 421.1h4.6v4.7h-4.6zM203.0 425.4h4.6v4.7h-4.6zM198.8 429.7h4.6v4.7h-4.6zM182.0 451.3h4.6v4.7h-4.6zM211.4 455.6h4.6v4.7h-4.6zM177.8 459.9h4.6v4.7h-4.6zM215.7 459.9h4.6v4.7h-4.6zM219.9 464.2h4.6v4.7h-4.6zM173.6 468.5h4.6v4.7h-4.6zM224.1 468.5h4.6v4.7h-4.6zM173.6 472.8h4.6v4.7h-4.6zM228.3 472.8h8.8v4.7h-8.8zM169.4 477.1h4.6v4.7h-4.6zM236.7 477.1h4.6v4.7h-4.6zM169.4 481.4h4.6v4.7h-4.6zM240.9 481.4h4.6v4.7h-4.6zM169.4 485.8h4.6v4.7h-4.6zM165.2 490.1h8.8v4.7h-8.8zM165.2 494.4h8.8v4.7h-8.8zM165.2 498.7h8.8v4.7h-8.8zM165.2 503.0h8.8v4.7h-8.8zM165.2 507.3h8.8v4.7h-8.8zM165.2 511.6h8.8v4.7h-8.8zM165.2 515.9h8.8v4.7h-8.8zM165.2 520.2h8.8v4.7h-8.8zM165.2 524.5h8.8v4.7h-8.8zM165.2 528.8h8.8v4.7h-8.8zM165.2 533.1h8.8v4.7h-8.8zM169.4 537.4h8.8v4.7h-8.8zM169.4 541.8h8.8v4.7h-8.8zM169.4 546.1h8.8v4.7h-8.8zM169.4 550.4h8.8v4.7h-8.8zM173.6 554.7h8.8v4.7h-8.8zM173.6 559.0h8.8v4.7h-8.8z"/><path fill="#9f0000" d="M173.6 356.5h8.8v4.7h-8.8zM173.6 360.8h8.8v4.7h-8.8zM173.6 365.1h8.8v4.7h-8.8zM173.6 369.4h4.6v4.7h-4.6zM173.6 373.7h4.6v4.7h-4.6zM173.6 378.0h4.6v4.7h-4.6zM173.6 382.4h4.6v4.7h-4.6zM173.6 386.7h4.6v4.7h-4.6zM240.9 386.7h4.6v4.7h-4.6zM173.6 391.0h4.6v4.7h-4.6zM236.7 391.0h8.8v4.7h-8.8zM173.6 395.3h4.6v4.7h-4.6zM228.3 395.3h8.8v4.7h-8.8zM173.6 399.6h8.8v4.7h-8.8zM224.1 399.6h8.8v4.7h-8.8zM177.8 403.9h4.6v4.7h-4.6zM219.9 403.9h8.8v4.7h-8.8zM177.8 408.2h4.6v4.7h-4.6zM215.7 408.2h8.8v4.7h-8.8zM211.4 412.5h4.6v4.7h-4.6zM182.0 416.8h4.6v4.7h-4.6zM207.2 416.8h4.6v4.7h-4.6zM186.2 425.4h4.6v4.7h-4.6zM190.4 434.0h8.8v4.7h-8.8zM186.2 447.0h4.6v4.7h-4.6zM203.0 451.3h4.6v4.7h-4.6zM182.0 455.6h4.6v4.7h-4.6zM207.2 455.6h4.6v4.7h-4.6zM211.4 459.9h4.6v4.7h-4.6zM177.8 464.2h4.6v4.7h-4.6zM215.7 464.2h4.6v4.7h-4.6zM177.8 468.5h4.6v4.7h-4.6zM219.9 468.5h4.6v4.7h-4.6zM177.8 472.8h4.6v4.7h-4.6zM224.1 472.8h4.6v4.7h-4.6zM173.6 477.1h8.8v4.7h-8.8zM228.3 477.1h8.8v4.7h-8.8zM173.6 481.4h4.6v4.7h-4.6zM232.5 481.4h8.8v4.7h-8.8zM173.6 485.8h4.6v4.7h-4.6zM236.7 485.8h8.8v4.7h-8.8zM173.6 490.1h4.6v4.7h-4.6zM240.9 490.1h4.6v4.7h-4.6zM173.6 494.4h4.6v4.7h-4.6zM173.6 498.7h4.6v4.7h-4.6zM173.6 503.0h4.6v4.7h-4.6zM173.6 507.3h8.8v4.7h-8.8zM173.6 511.6h8.8v4.7h-8.8zM173.6 515.9h8.8v4.7h-8.8zM173.6 520.2h8.8v4.7h-8.8zM173.6 524.5h8.8v4.7h-8.8zM173.6 528.8h13.0v4.7h-13.0zM173.6 533.1h13.0v4.7h-13.0zM177.8 537.4h8.8v4.7h-8.8zM177.8 541.8h8.8v4.7h-8.8zM177.8 546.1h13.0v4.7h-13.0zM177.8 550.4h13.0v4.7h-13.0zM182.0 554.7h13.0v4.7h-13.0zM182.0 559.0h13.0v4.7h-13.0z"/><path fill="#8f0000" d="M182.0 356.5h13.0v4.7h-13.0zM182.0 360.8h8.8v4.7h-8.8zM182.0 365.1h8.8v4.7h-8.8zM177.8 369.4h13.0v4.7h-13.0zM177.8 373.7h13.0v4.7h-13.0zM240.9 373.7h4.6v4.7h-4.6zM177.8 378.0h13.0v4.7h-13.0zM236.7 378.0h8.8v4.7h-8.8zM177.8 382.4h8.8v4.7h-8.8zM232.5 382.4h13.0v4.7h-13.0zM177.8 386.7h8.8v4.7h-8.8zM228.3 386.7h13.0v4.7h-13.0zM177.8 391.0h8.8v4.7h-8.8zM224.1 391.0h13.0v4.7h-13.0zM177.8 395.3h8.8v4.7h-8.8zM219.9 395.3h8.8v4.7h-8.8zM182.0 399.6h4.6v4.7h-4.6zM215.7 399.6h8.8v4.7h-8.8zM182.0 403.9h4.6v4.7h-4.6zM215.7 403.9h4.6v4.7h-4.6zM182.0 408.2h4.6v4.7h-4.6zM211.4 408.2h4.6v4.7h-4.6zM182.0 412.5h4.6v4.7h-4.6zM207.2 412.5h4.6v4.7h-4.6zM186.2 416.8h4.6v4.7h-4.6zM186.2 421.1h4.6v4.7h-4.6zM203.0 421.1h4.6v4.7h-4.6zM198.8 425.4h4.6v4.7h-4.6zM198.8 447.0h4.6v4.7h-4.6zM186.2 451.3h4.6v4.7h-4.6zM186.2 455.6h4.6v4.7h-4.6zM203.0 455.6h4.6v4.7h-4.6zM182.0 459.9h4.6v4.7h-4.6zM207.2 459.9h4.6v4.7h-4.6zM182.0 464.2h4.6v4.7h-4.6zM211.4 464.2h4.6v4.7h-4.6zM182.0 468.5h4.6v4.7h-4.6zM211.4 468.5h8.8v4.7h-8.8zM182.0 472.8h4.6v4.7h-4.6zM215.7 472.8h8.8v4.7h-8.8zM182.0 477.1h4.6v4.7h-4.6zM219.9 477.1h8.8v4.7h-8.8zM177.8 481.4h8.8v4.7h-8.8zM224.1 481.4h8.8v4.7h-8.8zM177.8 485.8h8.8v4.7h-8.8zM228.3 485.8h8.8v4.7h-8.8zM177.8 490.1h8.8v4.7h-8.8zM232.5 490.1h8.8v4.7h-8.8zM177.8 494.4h8.8v4.7h-8.8zM236.7 494.4h8.8v4.7h-8.8zM177.8 498.7h13.0v4.7h-13.0zM240.9 498.7h4.6v4.7h-4.6zM177.8 503.0h13.0v4.7h-13.0zM182.0 507.3h8.8v4.7h-8.8zM182.0 511.6h8.8v4.7h-8.8zM182.0 515.9h13.0v4.7h-13.0zM182.0 520.2h13.0v4.7h-13.0zM182.0 524.5h13.0v4.7h-13.0zM186.2 528.8h13.0v4.7h-13.0zM186.2 533.1h13.0v4.7h-13.0zM186.2 537.4h17.2v4.7h-17.2zM186.2 541.8h17.2v4.7h-17.2zM190.4 546.1h13.0v4.7h-13.0zM190.4 550.4h17.2v4.7h-17.2zM194.6 554.7h13.0v4.7h-13.0zM194.6 559.0h17.2v4.7h-17.2z"/><path fill="#800000" d="M194.6 356.5h50.9v4.7h-50.9zM190.4 360.8h55.1v4.7h-55.1zM190.4 365.1h55.1v4.7h-55.1zM190.4 369.4h55.1v4.7h-55.1zM190.4 373.7h50.9v4.7h-50.9zM190.4 378.0h46.7v4.7h-46.7zM186.2 382.4h46.7v4.7h-46.7zM186.2 386.7h42.5v4.7h-42.5zM186.2 391.0h38.3v4.7h-38.3zM186.2 395.3h34.0v4.7h-34.0zM186.2 399.6h29.8v4.7h-29.8zM186.2 403.9h29.8v4.7h-29.8zM186.2 408.2h25.6v4.7h-25.6zM186.2 412.5h21.4v4.7h-21.4zM190.4 416.8h17.2v4.7h-17.2zM190.4 421.1h13.0v4.7h-13.0zM190.4 425.4h8.8v4.7h-8.8zM190.4 429.7h8.8v4.7h-8.8zM190.4 442.7h8.8v4.7h-8.8zM190.4 447.0h8.8v4.7h-8.8zM190.4 451.3h13.0v4.7h-13.0zM190.4 455.6h13.0v4.7h-13.0zM186.2 459.9h21.4v4.7h-21.4zM186.2 464.2h25.6v4.7h-25.6zM186.2 468.5h25.6v4.7h-25.6zM186.2 472.8h29.8v4.7h-29.8zM186.2 477.1h34.0v4.7h-34.0zM186.2 481.4h38.3v4.7h-38.3zM186.2 485.8h42.5v4.7h-42.5zM186.2 490.1h46.7v4.7h-46.7zM186.2 494.4h50.9v4.7h-50.9zM190.4 498.7h50.9v4.7h-50.9zM190.4 503.0h55.1v4.7h-55.1zM190.4 507.3h55.1v4.7h-55.1zM190.4 511.6h55.1v4.7h-55.1zM194.6 515.9h50.9v4.7h-50.9zM194.6 520.2h50.9v4.7h-50.9zM194.6 524.5h50.9v4.7h-50.9zM198.8 528.8h46.7v4.7h-46.7zM198.8 533.1h46.7v4.7h-46.7zM203.0 537.4h42.5v4.7h-42.5zM203.0 541.8h42.5v4.7h-42.5zM203.0 546.1h42.5v4.7h-42.5zM207.2 550.4h38.3v4.7h-38.3zM207.2 554.7h38.3v4.7h-38.3zM211.4 559.0h34.0v4.7h-34.0z"/><path fill="#00afff" d="M55.8 360.8h4.6v4.7h-4.6zM55.8 365.1h4.6v4.7h-4.6zM60.0 386.7h4.6v4.7h-4.6zM64.2 399.6h4.6v4.7h-4.6zM240.9 434.0h4.6v4.7h-4.6zM211.4 438.4h4.6v4.7h-4.6zM60.0 485.8h4.6v4.7h-4.6zM55.8 507.3h4.6v4.7h-4.6zM55.8 511.6h4.6v4.7h-4.6z"/><path fill="#ffcf00" d="M93.7 360.8h4.6v4.7h-4.6zM93.7 365.1h4.6v4.7h-4.6zM93.7 369.4h4.6v4.7h-4.6zM97.9 378.0h4.6v4.7h-4.6zM102.1 386.7h4.6v4.7h-4.6zM106.3 391.0h4.6v4.7h-4.6zM123.1 408.2h4.6v4.7h-4.6zM135.7 416.8h4.6v4.7h-4.6zM156.8 425.4h4.6v4.7h-4.6zM240.9 425.4h4.6v4.7h-4.6zM182.0 434.0h4.6v4.7h-4.6zM173.6 442.7h4.6v4.7h-4.6zM161.0 447.0h4.6v4.7h-4.6zM139.9 455.6h4.6v4.7h-4.6zM131.5 459.9h4.6v4.7h-4.6zM118.9 468.5h4.6v4.7h-4.6zM114.7 472.8h4.6v4.7h-4.6zM110.5 477.1h4.6v4.7h-4.6zM106.3 481.4h4.6v4.7h-4.6zM102.1 490.1h4.6v4.7h-4.6zM97.9 494.4h4.6v4.7h-4.6zM97.9 498.7h4.6v4.7h-4.6zM93.7 507.3h4.6v4.7h-4.6zM93.7 511.6h4.6v4.7h-4.6zM89.5 524.5h4.6v4.7h-4.6zM89.5 528.8h4.6v4.7h-4.6zM89.5 533.1h4.6v4.7h-4.6zM89.5 537.4h4.6v4.7h-4.6zM89.5 541.8h4.6v4.7h-4.6zM89.5 546.1h4.6v4.7h-4.6z"/><path fill="#ff9f00" d="M102.1 360.8h4.6v4.7h-4.6zM102.1 365.1h4.6v4.7h-4.6zM102.1 369.4h4.6v4.7h-4.6zM106.3 373.7h4.6v4.7h-4.6zM106.3 378.0h4.6v4.7h-4.6zM110.5 386.7h4.6v4.7h-4.6zM114.7 391.0h4.6v4.7h-4.6zM118.9 395.3h4.6v4.7h-4.6zM127.3 403.9h4.6v4.7h-4.6zM131.5 408.2h4.6v4.7h-4.6zM144.1 416.8h4.6v4.7h-4.6zM152.6 421.1h4.6v4.7h-4.6zM161.0 425.4h4.6v4.7h-4.6zM232.5 425.4h4.6v4.7h-4.6zM211.4 442.7h4.6v4.7h-4.6zM165.2 447.0h4.6v4.7h-4.6zM156.8 451.3h4.6v4.7h-4.6zM148.4 455.6h4.6v4.7h-4.6zM139.9 459.9h4.6v4.7h-4.6zM127.3 468.5h4.6v4.7h-4.6zM123.1 472.8h4.6v4.7h-4.6zM118.9 477.1h4.6v4.7h-4.6zM114.7 481.4h4.6v4.7h-4.6zM110.5 490.1h4.6v4.7h-4.6zM106.3 494.4h4.6v4.7h-4.6zM106.3 498.7h4.6v4.7h-4.6zM102.1 507.3h4.6v4.7h-4.6zM102.1 511.6h4.6v4.7h-4.6zM97.9 524.5h4.6v4.7h-4.6zM97.9 528.8h4.6v4.7h-4.6zM97.9 533.1h4.6v4.7h-4.6zM97.9 537.4h4.6v4.7h-4.6zM97.9 541.8h4.6v4.7h-4.6zM97.9 546.1h4.6v4.7h-4.6zM97.9 550.4h4.6v4.7h-4.6z"/><path fill="#ff6000" d="M114.7 360.8h4.6v4.7h-4.6zM114.7 365.1h4.6v4.7h-4.6zM114.7 369.4h4.6v4.7h-4.6zM118.9 373.7h4.6v4.7h-4.6zM118.9 378.0h4.6v4.7h-4.6zM123.1 382.4h4.6v4.7h-4.6zM123.1 386.7h4.6v4.7h-4.6zM127.3 391.0h4.6v4.7h-4.6zM131.5 395.3h4.6v4.7h-4.6zM148.4 412.5h4.6v4.7h-4.6zM161.0 421.1h4.6v4.7h-4.6zM236.7 421.1h4.6v4.7h-4.6zM224.1 425.4h4.6v4.7h-4.6zM211.4 429.7h4.6v4.7h-4.6zM156.8 455.6h4.6v4.7h-4.6zM144.1 464.2h4.6v4.7h-4.6zM139.9 468.5h4.6v4.7h-4.6zM135.7 472.8h4.6v4.7h-4.6zM131.5 477.1h4.6v4.7h-4.6zM127.3 481.4h4.6v4.7h-4.6zM123.1 490.1h4.6v4.7h-4.6zM118.9 494.4h4.6v4.7h-4.6zM118.9 498.7h4.6v4.7h-4.6zM114.7 507.3h4.6v4.7h-4.6zM114.7 511.6h4.6v4.7h-4.6zM114.7 515.9h4.6v4.7h-4.6zM110.5 524.5h4.6v4.7h-4.6zM110.5 528.8h4.6v4.7h-4.6zM110.5 533.1h4.6v4.7h-4.6zM110.5 537.4h4.6v4.7h-4.6zM110.5 541.8h4.6v4.7h-4.6zM110.5 546.1h4.6v4.7h-4.6zM110.5 550.4h4.6v4.7h-4.6zM110.5 554.7h4.6v4.7h-4.6z"/><path fill="#0000af" d="M47.4 365.1h4.6v4.7h-4.6zM240.9 438.4h4.6v4.7h-4.6zM93.7 442.7h4.6v4.7h-4.6zM64.2 451.3h4.6v4.7h-4.6zM60.0 455.6h4.6v4.7h-4.6zM51.6 472.8h4.6v4.7h-4.6zM47.4 507.3h4.6v4.7h-4.6zM47.4 511.6h4.6v4.7h-4.6z"/><path fill="#0040ff" d="M51.6 365.1h4.6v4.7h-4.6zM51.6 369.4h4.6v4.7h-4.6zM55.8 395.3h4.6v4.7h-4.6zM64.2 412.5h4.6v4.7h-4.6zM68.4 416.8h4.6v4.7h-4.6zM85.3 425.4h4.6v4.7h-4.6zM60.0 468.5h4.6v4.7h-4.6zM55.8 477.1h4.6v4.7h-4.6zM51.6 503.0h4.6v4.7h-4.6zM51.6 507.3h4.6v4.7h-4.6z"/><path fill="#00efff" d="M60.0 365.1h4.6v4.7h-4.6zM60.0 369.4h4.6v4.7h-4.6zM64.2 386.7h4.6v4.7h-4.6zM72.6 403.9h4.6v4.7h-4.6zM76.8 408.2h4.6v4.7h-4.6zM81.1 412.5h4.6v4.7h-4.6zM97.9 421.1h4.6v4.7h-4.6zM110.5 425.4h4.6v4.7h-4.6zM131.5 429.7h4.6v4.7h-4.6zM102.1 451.3h4.6v4.7h-4.6zM68.4 477.1h4.6v4.7h-4.6zM64.2 485.8h4.6v4.7h-4.6zM60.0 503.0h4.6v4.7h-4.6zM60.0 507.3h4.6v4.7h-4.6z"/><path fill="#30ffcf" d="M64.2 365.1h4.6v4.7h-4.6zM64.2 369.4h4.6v4.7h-4.6zM72.6 395.3h4.6v4.7h-4.6zM89.5 412.5h4.6v4.7h-4.6zM106.3 421.1h4.6v4.7h-4.6zM139.9 429.7h4.6v4.7h-4.6zM127.3 447.0h4.6v4.7h-4.6zM110.5 451.3h4.6v4.7h-4.6zM85.3 464.2h4.6v4.7h-4.6zM81.1 468.5h4.6v4.7h-4.6zM76.8 472.8h4.6v4.7h-4.6zM68.4 490.1h4.6v4.7h-4.6zM64.2 507.3h4.6v4.7h-4.6z"/><path fill="#60ff9f" d="M68.4 365.1h4.6v4.7h-4.6zM68.4 369.4h4.6v4.7h-4.6zM72.6 382.4h4.6v4.7h-4.6zM81.1 399.6h4.6v4.7h-4.6zM85.3 403.9h4.6v4.7h-4.6zM89.5 408.2h4.6v4.7h-4.6zM114.7 421.1h4.6v4.7h-4.6zM127.3 425.4h4.6v4.7h-4.6zM203.0 438.4h4.6v4.7h-4.6zM240.9 442.7h4.6v4.7h-4.6zM118.9 451.3h4.6v4.7h-4.6zM106.3 455.6h4.6v4.7h-4.6zM97.9 459.9h4.6v4.7h-4.6zM76.8 481.4h4.6v4.7h-4.6zM72.6 490.1h4.6v4.7h-4.6zM68.4 503.0h4.6v4.7h-4.6zM68.4 507.3h4.6v4.7h-4.6z"/><path fill="#8fff70" d="M72.6 365.1h4.6v4.7h-4.6zM72.6 369.4h4.6v4.7h-4.6zM76.8 382.4h4.6v4.7h-4.6zM81.1 391.0h4.6v4.7h-4.6zM85.3 395.3h4.6v4.7h-4.6zM97.9 408.2h4.6v4.7h-4.6zM102.1 412.5h4.6v4.7h-4.6zM110.5 416.8h4.6v4.7h-4.6zM135.7 425.4h4.6v4.7h-4.6zM152.6 429.7h4.6v4.7h-4.6zM173.6 434.0h4.6v4.7h-4.6zM161.0 442.7h4.6v4.7h-4.6zM127.3 451.3h4.6v4.7h-4.6zM114.7 455.6h4.6v4.7h-4.6zM106.3 459.9h4.6v4.7h-4.6zM97.9 464.2h4.6v4.7h-4.6zM93.7 468.5h4.6v4.7h-4.6zM89.5 472.8h4.6v4.7h-4.6zM85.3 477.1h4.6v4.7h-4.6zM81.1 485.8h4.6v4.7h-4.6zM76.8 494.4h4.6v4.7h-4.6zM72.6 507.3h4.6v4.7h-4.6zM72.6 511.6h4.6v4.7h-4.6z"/><path fill="#ffef00" d="M89.5 365.1h4.6v4.7h-4.6zM89.5 369.4h4.6v4.7h-4.6zM93.7 378.0h4.6v4.7h-4.6zM93.7 382.4h4.6v4.7h-4.6zM97.9 386.7h4.6v4.7h-4.6zM102.1 395.3h4.6v4.7h-4.6zM106.3 399.6h4.6v4.7h-4.6zM123.1 412.5h4.6v4.7h-4.6zM131.5 416.8h4.6v4.7h-4.6zM152.6 425.4h4.6v4.7h-4.6zM165.2 429.7h4.6v4.7h-4.6zM156.8 447.0h4.6v4.7h-4.6zM240.9 447.0h4.6v4.7h-4.6zM135.7 455.6h4.6v4.7h-4.6zM127.3 459.9h4.6v4.7h-4.6zM118.9 464.2h4.6v4.7h-4.6zM114.7 468.5h4.6v4.7h-4.6zM102.1 481.4h4.6v4.7h-4.6zM97.9 485.8h4.6v4.7h-4.6zM93.7 494.4h4.6v4.7h-4.6zM89.5 503.0h4.6v4.7h-4.6zM89.5 507.3h4.6v4.7h-4.6zM85.3 520.2h4.6v4.7h-4.6zM85.3 524.5h4.6v4.7h-4.6zM85.3 528.8h4.6v4.7h-4.6zM85.3 533.1h4.6v4.7h-4.6zM85.3 537.4h4.6v4.7h-4.6z"/><path fill="#00009f" d="M47.4 369.4h4.6v4.7h-4.6zM47.4 373.7h4.6v4.7h-4.6zM51.6 403.9h4.6v4.7h-4.6zM68.4 425.4h4.6v4.7h-4.6zM118.9 434.0h4.6v4.7h-4.6zM152.6 438.4h4.6v4.7h-4.6zM72.6 447.0h4.6v4.7h-4.6zM55.8 459.9h4.6v4.7h-4.6zM47.4 503.0h4.6v4.7h-4.6z"/><path fill="#009fff" d="M55.8 369.4h4.6v4.7h-4.6zM60.0 391.0h4.6v4.7h-4.6zM68.4 408.2h4.6v4.7h-4.6zM72.6 412.5h4.6v4.7h-4.6zM85.3 421.1h4.6v4.7h-4.6zM97.9 425.4h4.6v4.7h-4.6zM118.9 429.7h4.6v4.7h-4.6zM131.5 442.7h4.6v4.7h-4.6zM106.3 447.0h4.6v4.7h-4.6zM89.5 451.3h4.6v4.7h-4.6zM81.1 455.6h4.6v4.7h-4.6zM64.2 472.8h4.6v4.7h-4.6zM60.0 481.4h4.6v4.7h-4.6zM55.8 503.0h4.6v4.7h-4.6z"/><path fill="#afff50" d="M76.8 369.4h4.6v4.7h-4.6zM81.1 382.4h4.6v4.7h-4.6zM85.3 391.0h4.6v4.7h-4.6zM89.5 395.3h4.6v4.7h-4.6zM102.1 408.2h4.6v4.7h-4.6zM127.3 421.1h4.6v4.7h-4.6zM139.9 425.4h4.6v4.7h-4.6zM240.9 429.7h4.6v4.7h-4.6zM211.4 434.0h4.6v4.7h-4.6zM228.3 442.7h4.6v4.7h-4.6zM131.5 451.3h4.6v4.7h-4.6zM118.9 455.6h4.6v4.7h-4.6zM110.5 459.9h4.6v4.7h-4.6zM97.9 468.5h4.6v4.7h-4.6zM93.7 472.8h4.6v4.7h-4.6zM89.5 477.1h4.6v4.7h-4.6zM81.1 490.1h4.6v4.7h-4.6zM81.1 494.4h4.6v4.7h-4.6zM76.8 503.0h4.6v4.7h-4.6zM76.8 507.3h4.6v4.7h-4.6zM72.6 528.8h4.6v4.7h-4.6zM72.6 533.1h4.6v4.7h-4.6z"/><path fill="#cfff30" d="M81.1 369.4h4.6v4.7h-4.6zM85.3 382.4h4.6v4.7h-4.6zM89.5 391.0h4.6v4.7h-4.6zM93.7 395.3h4.6v4.7h-4.6zM97.9 399.6h4.6v4.7h-4.6zM102.1 403.9h4.6v4.7h-4.6zM106.3 408.2h4.6v4.7h-4.6zM131.5 421.1h4.6v4.7h-4.6zM144.1 425.4h4.6v4.7h-4.6zM236.7 429.7h4.6v4.7h-4.6zM177.8 434.0h4.6v4.7h-4.6zM224.1 442.7h4.6v4.7h-4.6zM135.7 451.3h4.6v4.7h-4.6zM110.5 464.2h4.6v4.7h-4.6zM102.1 468.5h4.6v4.7h-4.6zM97.9 472.8h4.6v4.7h-4.6zM93.7 477.1h4.6v4.7h-4.6zM89.5 485.8h4.6v4.7h-4.6zM85.3 490.1h4.6v4.7h-4.6zM85.3 494.4h4.6v4.7h-4.6zM81.1 503.0h4.6v4.7h-4.6zM81.1 507.3h4.6v4.7h-4.6zM76.8 520.2h4.6v4.7h-4.6zM76.8 524.5h4.6v4.7h-4.6zM76.8 528.8h4.6v4.7h-4.6zM76.8 533.1h4.6v4.7h-4.6zM76.8 537.4h4.6v4.7h-4.6z"/><path fill="#efff10" d="M85.3 369.4h4.6v4.7h-4.6zM89.5 382.4h4.6v4.7h-4.6zM97.9 395.3h4.6v4.7h-4.6zM102.1 399.6h4.6v4.7h-4.6zM106.3 403.9h4.6v4.7h-4.6zM118.9 412.5h4.6v4.7h-4.6zM127.3 416.8h4.6v4.7h-4.6zM135.7 421.1h4.6v4.7h-4.6zM148.4 425.4h4.6v4.7h-4.6zM207.2 434.0h4.6v4.7h-4.6zM198.8 438.4h4.6v4.7h-4.6zM139.9 451.3h4.6v4.7h-4.6zM131.5 455.6h4.6v4.7h-4.6zM114.7 464.2h4.6v4.7h-4.6zM93.7 485.8h4.6v4.7h-4.6zM89.5 494.4h4.6v4.7h-4.6zM85.3 503.0h4.6v4.7h-4.6zM85.3 507.3h4.6v4.7h-4.6zM81.1 520.2h4.6v4.7h-4.6zM81.1 524.5h4.6v4.7h-4.6zM81.1 528.8h4.6v4.7h-4.6zM81.1 533.1h4.6v4.7h-4.6z"/><path fill="#0030ff" d="M51.6 373.7h4.6v4.7h-4.6zM60.0 408.2h4.6v4.7h-4.6zM72.6 421.1h4.6v4.7h-4.6zM102.1 429.7h4.6v4.7h-4.6zM139.9 434.0h4.6v4.7h-4.6zM224.1 438.4h4.6v4.7h-4.6zM114.7 442.7h4.6v4.7h-4.6zM89.5 447.0h4.6v4.7h-4.6zM76.8 451.3h4.6v4.7h-4.6zM68.4 455.6h4.6v4.7h-4.6zM64.2 459.9h4.6v4.7h-4.6zM51.6 498.7h4.6v4.7h-4.6z"/><path fill="#008fff" d="M55.8 373.7h4.6v4.7h-4.6zM55.8 378.0h4.6v4.7h-4.6zM60.0 395.3h4.6v4.7h-4.6zM64.2 403.9h4.6v4.7h-4.6zM76.8 416.8h4.6v4.7h-4.6zM152.6 434.0h4.6v4.7h-4.6zM173.6 438.4h4.6v4.7h-4.6zM127.3 442.7h4.6v4.7h-4.6zM102.1 447.0h4.6v4.7h-4.6zM72.6 459.9h4.6v4.7h-4.6zM68.4 464.2h4.6v4.7h-4.6zM55.8 498.7h4.6v4.7h-4.6z"/><path fill="#00dfff" d="M60.0 373.7h4.6v4.7h-4.6zM64.2 391.0h4.6v4.7h-4.6zM68.4 399.6h4.6v4.7h-4.6zM85.3 416.8h4.6v4.7h-4.6zM93.7 421.1h4.6v4.7h-4.6zM127.3 429.7h4.6v4.7h-4.6zM161.0 434.0h4.6v4.7h-4.6zM232.5 434.0h4.6v4.7h-4.6zM177.8 438.4h4.6v4.7h-4.6zM139.9 442.7h4.6v4.7h-4.6zM114.7 447.0h4.6v4.7h-4.6zM89.5 455.6h4.6v4.7h-4.6zM81.1 459.9h4.6v4.7h-4.6zM76.8 464.2h4.6v4.7h-4.6zM72.6 468.5h4.6v4.7h-4.6zM68.4 472.8h4.6v4.7h-4.6zM64.2 481.4h4.6v4.7h-4.6zM60.0 498.7h4.6v4.7h-4.6z"/><path fill="#20ffdf" d="M64.2 373.7h4.6v4.7h-4.6zM68.4 386.7h4.6v4.7h-4.6zM76.8 403.9h4.6v4.7h-4.6zM81.1 408.2h4.6v4.7h-4.6zM93.7 416.8h4.6v4.7h-4.6zM118.9 425.4h4.6v4.7h-4.6zM224.1 434.0h4.6v4.7h-4.6zM148.4 442.7h4.6v4.7h-4.6zM97.9 455.6h4.6v4.7h-4.6zM89.5 459.9h4.6v4.7h-4.6zM72.6 477.1h4.6v4.7h-4.6zM68.4 485.8h4.6v4.7h-4.6zM64.2 498.7h4.6v4.7h-4.6zM64.2 503.0h4.6v4.7h-4.6z"/><path fill="#50ffaf" d="M68.4 373.7h4.6v4.7h-4.6zM72.6 386.7h4.6v4.7h-4.6zM76.8 395.3h4.6v4.7h-4.6zM93.7 412.5h4.6v4.7h-4.6zM102.1 416.8h4.6v4.7h-4.6zM110.5 421.1h4.6v4.7h-4.6zM144.1 429.7h4.6v4.7h-4.6zM169.4 434.0h4.6v4.7h-4.6zM219.9 434.0h4.6v4.7h-4.6zM131.5 447.0h4.6v4.7h-4.6zM89.5 464.2h4.6v4.7h-4.6zM85.3 468.5h4.6v4.7h-4.6zM81.1 472.8h4.6v4.7h-4.6zM76.8 477.1h4.6v4.7h-4.6zM72.6 485.8h4.6v4.7h-4.6zM68.4 498.7h4.6v4.7h-4.6zM64.2 524.5h4.6v4.7h-4.6zM64.2 528.8h4.6v4.7h-4.6z"/><path fill="#80ff80" d="M72.6 373.7h4.6v4.7h-4.6zM76.8 386.7h4.6v4.7h-4.6zM85.3 399.6h4.6v4.7h-4.6zM89.5 403.9h4.6v4.7h-4.6zM93.7 408.2h4.6v4.7h-4.6zM118.9 421.1h4.6v4.7h-4.6zM131.5 425.4h4.6v4.7h-4.6zM236.7 442.7h4.6v4.7h-4.6zM139.9 447.0h4.6v4.7h-4.6zM123.1 451.3h4.6v4.7h-4.6zM81.1 481.4h4.6v4.7h-4.6zM76.8 490.1h4.6v4.7h-4.6zM72.6 498.7h4.6v4.7h-4.6zM72.6 503.0h4.6v4.7h-4.6zM68.4 524.5h4.6v4.7h-4.6zM68.4 528.8h4.6v4.7h-4.6zM68.4 533.1h4.6v4.7h-4.6z"/><path fill="#00008f" d="M47.4 378.0h4.6v4.7h-4.6zM47.4 382.4h4.6v4.7h-4.6zM47.4 386.7h4.6v4.7h-4.6zM47.4 391.0h4.6v4.7h-4.6zM47.4 395.3h4.6v4.7h-4.6zM47.4 399.6h4.6v4.7h-4.6zM47.4 403.9h4.6v4.7h-4.6zM47.4 408.2h8.8v4.7h-8.8zM47.4 412.5h8.8v4.7h-8.8zM47.4 416.8h13.0v4.7h-13.0zM47.4 421.1h17.2v4.7h-17.2zM47.4 425.4h21.4v4.7h-21.4zM47.4 429.7h38.3v4.7h-38.3zM47.4 434.0h71.9v4.7h-71.9zM47.4 438.4h105.6v4.7h-105.6zM47.4 442.7h46.7v4.7h-46.7zM47.4 447.0h25.6v4.7h-25.6zM47.4 451.3h17.2v4.7h-17.2zM47.4 455.6h13.0v4.7h-13.0zM47.4 459.9h8.8v4.7h-8.8zM47.4 464.2h8.8v4.7h-8.8zM47.4 468.5h8.8v4.7h-8.8zM47.4 472.8h4.6v4.7h-4.6zM47.4 477.1h4.6v4.7h-4.6zM47.4 481.4h4.6v4.7h-4.6zM47.4 485.8h4.6v4.7h-4.6zM47.4 490.1h4.6v4.7h-4.6zM47.4 494.4h4.6v4.7h-4.6zM47.4 498.7h4.6v4.7h-4.6zM43.2 520.2h4.6v4.7h-4.6zM43.2 524.5h8.8v4.7h-8.8zM43.2 528.8h17.2v4.7h-17.2zM43.2 533.1h25.6v4.7h-25.6zM43.2 537.4h34.0v4.7h-34.0zM43.2 541.8h42.5v4.7h-42.5zM43.2 546.1h46.7v4.7h-46.7zM43.2 550.4h55.1v4.7h-55.1zM43.2 554.7h63.5v4.7h-63.5zM43.2 559.0h71.9v4.7h-71.9z"/><path fill="#0020ff" d="M51.6 378.0h4.6v4.7h-4.6zM51.6 382.4h4.6v4.7h-4.6zM55.8 399.6h4.6v4.7h-4.6zM81.1 425.4h4.6v4.7h-4.6zM165.2 438.4h4.6v4.7h-4.6zM110.5 442.7h4.6v4.7h-4.6zM60.0 464.2h4.6v4.7h-4.6zM55.8 472.8h4.6v4.7h-4.6zM51.6 494.4h4.6v4.7h-4.6z"/><path fill="#00cfff" d="M60.0 378.0h4.6v4.7h-4.6zM60.0 382.4h4.6v4.7h-4.6zM64.2 395.3h4.6v4.7h-4.6zM72.6 408.2h4.6v4.7h-4.6zM76.8 412.5h4.6v4.7h-4.6zM106.3 425.4h4.6v4.7h-4.6zM236.7 434.0h4.6v4.7h-4.6zM97.9 451.3h4.6v4.7h-4.6zM60.0 494.4h4.6v4.7h-4.6z"/><path fill="#10ffef" d="M64.2 378.0h4.6v4.7h-4.6zM68.4 391.0h4.6v4.7h-4.6zM72.6 399.6h4.6v4.7h-4.6zM85.3 412.5h4.6v4.7h-4.6zM102.1 421.1h4.6v4.7h-4.6zM114.7 425.4h4.6v4.7h-4.6zM135.7 429.7h4.6v4.7h-4.6zM165.2 434.0h4.6v4.7h-4.6zM123.1 447.0h4.6v4.7h-4.6zM106.3 451.3h4.6v4.7h-4.6zM81.1 464.2h4.6v4.7h-4.6zM76.8 468.5h4.6v4.7h-4.6zM68.4 481.4h4.6v4.7h-4.6zM64.2 494.4h4.6v4.7h-4.6zM60.0 520.2h4.6v4.7h-4.6zM60.0 524.5h4.6v4.7h-4.6zM60.0 528.8h4.6v4.7h-4.6z"/><path fill="#0080ff" d="M55.8 382.4h4.6v4.7h-4.6zM81.1 421.1h4.6v4.7h-4.6zM93.7 425.4h4.6v4.7h-4.6zM114.7 429.7h4.6v4.7h-4.6zM215.7 438.4h4.6v4.7h-4.6zM85.3 451.3h4.6v4.7h-4.6zM76.8 455.6h4.6v4.7h-4.6zM64.2 468.5h4.6v4.7h-4.6zM60.0 477.1h4.6v4.7h-4.6zM55.8 494.4h4.6v4.7h-4.6z"/><path fill="#0000ff" d="M51.6 386.7h4.6v4.7h-4.6zM60.0 412.5h4.6v4.7h-4.6zM68.4 421.1h4.6v4.7h-4.6zM76.8 425.4h4.6v4.7h-4.6zM93.7 429.7h4.6v4.7h-4.6zM106.3 442.7h4.6v4.7h-4.6zM55.8 468.5h4.6v4.7h-4.6zM51.6 485.8h4.6v4.7h-4.6z"/><path fill="#0070ff" d="M55.8 386.7h4.6v4.7h-4.6zM60.0 399.6h4.6v4.7h-4.6zM64.2 408.2h4.6v4.7h-4.6zM68.4 412.5h4.6v4.7h-4.6zM72.6 416.8h4.6v4.7h-4.6zM110.5 429.7h4.6v4.7h-4.6zM148.4 434.0h4.6v4.7h-4.6zM123.1 442.7h4.6v4.7h-4.6zM97.9 447.0h4.6v4.7h-4.6zM60.0 472.8h4.6v4.7h-4.6zM55.8 490.1h4.6v4.7h-4.6z"/><path fill="#0000ef" d="M51.6 391.0h4.6v4.7h-4.6zM131.5 434.0h4.6v4.7h-4.6zM161.0 438.4h4.6v4.7h-4.6zM232.5 438.4h4.6v4.7h-4.6zM81.1 447.0h4.6v4.7h-4.6zM64.2 455.6h4.6v4.7h-4.6zM60.0 459.9h4.6v4.7h-4.6zM51.6 481.4h4.6v4.7h-4.6z"/><path fill="#0060ff" d="M55.8 391.0h4.6v4.7h-4.6zM89.5 425.4h4.6v4.7h-4.6zM81.1 451.3h4.6v4.7h-4.6zM68.4 459.9h4.6v4.7h-4.6zM64.2 464.2h4.6v4.7h-4.6zM55.8 485.8h4.6v4.7h-4.6zM51.6 520.2h4.6v4.7h-4.6zM51.6 524.5h4.6v4.7h-4.6z"/><path fill="#0000df" d="M51.6 395.3h4.6v4.7h-4.6zM55.8 408.2h4.6v4.7h-4.6zM89.5 429.7h4.6v4.7h-4.6zM102.1 442.7h4.6v4.7h-4.6zM68.4 451.3h4.6v4.7h-4.6z"/><path fill="#0010ff" d="M55.8 403.9h4.6v4.7h-4.6zM64.2 416.8h4.6v4.7h-4.6zM97.9 429.7h4.6v4.7h-4.6zM135.7 434.0h4.6v4.7h-4.6zM228.3 438.4h4.6v4.7h-4.6zM85.3 447.0h4.6v4.7h-4.6zM72.6 451.3h4.6v4.7h-4.6zM51.6 490.1h4.6v4.7h-4.6z"/><path fill="#0000cf" d="M60.0 416.8h4.6v4.7h-4.6zM64.2 421.1h4.6v4.7h-4.6zM72.6 425.4h4.6v4.7h-4.6zM127.3 434.0h4.6v4.7h-4.6zM236.7 438.4h4.6v4.7h-4.6zM97.9 442.7h4.6v4.7h-4.6zM76.8 447.0h4.6v4.7h-4.6zM55.8 464.2h4.6v4.7h-4.6zM51.6 477.1h4.6v4.7h-4.6z"/><path fill="#fff" d="M396.6 356.5h201.3v4.7h-201.3zM396.6 360.8h4.6v4.7h-4.6zM593.3 360.8h4.6v4.7h-4.6zM396.6 365.1h4.6v4.7h-4.6zM593.3 365.1h4.6v4.7h-4.6zM396.6 369.4h4.6v4.7h-4.6zM593.3 369.4h4.6v4.7h-4.6zM396.6 373.7h4.6v4.7h-4.6zM593.3 373.7h4.6v4.7h-4.6zM396.6 378.0h4.6v4.7h-4.6zM593.3 378.0h4.6v4.7h-4.6zM396.6 382.4h4.6v4.7h-4.6zM593.3 382.4h4.6v4.7h-4.6zM396.6 386.7h4.6v4.7h-4.6zM593.3 386.7h4.6v4.7h-4.6zM396.6 391.0h4.6v4.7h-4.6zM593.3 391.0h4.6v4.7h-4.6zM396.6 395.3h4.6v4.7h-4.6zM593.3 395.3h4.6v4.7h-4.6zM396.6 399.6h4.6v4.7h-4.6zM593.3 399.6h4.6v4.7h-4.6zM396.6 403.9h4.6v4.7h-4.6zM593.3 403.9h4.6v4.7h-4.6zM396.6 408.2h4.6v4.7h-4.6zM593.3 408.2h4.6v4.7h-4.6zM396.6 412.5h4.6v4.7h-4.6zM593.3 412.5h4.6v4.7h-4.6zM396.6 416.8h4.6v4.7h-4.6zM593.3 416.8h4.6v4.7h-4.6zM396.6 421.1h4.6v4.7h-4.6zM593.3 421.1h4.6v4.7h-4.6zM396.6 425.4h4.6v4.7h-4.6zM593.3 425.4h4.6v4.7h-4.6zM396.6 429.7h4.6v4.7h-4.6zM593.3 429.7h4.6v4.7h-4.6zM396.6 434.0h4.6v4.7h-4.6zM593.3 434.0h4.6v4.7h-4.6zM396.6 438.4h4.6v4.7h-4.6zM593.3 438.4h4.6v4.7h-4.6zM396.6 442.7h4.6v4.7h-4.6zM593.3 442.7h4.6v4.7h-4.6zM396.6 447.0h4.6v4.7h-4.6zM593.3 447.0h4.6v4.7h-4.6zM396.6 451.3h4.6v4.7h-4.6zM593.3 451.3h4.6v4.7h-4.6zM396.6 455.6h4.6v4.7h-4.6zM593.3 455.6h4.6v4.7h-4.6zM396.6 459.9h4.6v4.7h-4.6zM593.3 459.9h4.6v4.7h-4.6zM396.6 464.2h4.6v4.7h-4.6zM593.3 464.2h4.6v4.7h-4.6zM396.6 468.5h4.6v4.7h-4.6zM593.3 468.5h4.6v4.7h-4.6zM396.6 472.8h4.6v4.7h-4.6zM593.3 472.8h4.6v4.7h-4.6zM396.6 477.1h4.6v4.7h-4.6zM593.3 477.1h4.6v4.7h-4.6zM396.6 481.4h4.6v4.7h-4.6zM593.3 481.4h4.6v4.7h-4.6zM396.6 485.8h4.6v4.7h-4.6zM593.3 485.8h4.6v4.7h-4.6zM396.6 490.1h4.6v4.7h-4.6zM593.3 490.1h4.6v4.7h-4.6zM396.6 494.4h4.6v4.7h-4.6zM593.3 494.4h4.6v4.7h-4.6zM396.6 498.7h4.6v4.7h-4.6zM593.3 498.7h4.6v4.7h-4.6zM396.6 503.0h4.6v4.7h-4.6zM593.3 503.0h4.6v4.7h-4.6zM396.6 507.3h4.6v4.7h-4.6zM593.3 507.3h4.6v4.7h-4.6zM396.6 511.6h4.6v4.7h-4.6zM593.3 511.6h4.6v4.7h-4.6zM396.6 515.9h4.6v4.7h-4.6zM593.3 515.9h4.6v4.7h-4.6z"/><path fill="#ef0000" d="M400.8 360.8h4.6v4.7h-4.6zM400.8 365.1h8.8v4.7h-8.8zM400.8 369.4h17.1v4.7h-17.1zM405.0 373.7h17.1v4.7h-17.1zM413.3 378.0h13.0v4.7h-13.0zM417.5 382.4h13.0v4.7h-13.0zM421.7 386.7h13.0v4.7h-13.0zM421.7 391.0h13.0v4.7h-13.0zM425.9 395.3h13.0v4.7h-13.0zM430.1 399.6h13.0v4.7h-13.0zM434.3 403.9h13.0v4.7h-13.0zM434.3 408.2h13.0v4.7h-13.0zM438.5 412.5h13.0v4.7h-13.0zM438.5 416.8h17.1v4.7h-17.1zM438.5 421.1h17.1v4.7h-17.1zM438.5 425.4h21.3v4.7h-21.3zM434.3 429.7h25.5v4.7h-25.5zM430.1 434.0h25.5v4.7h-25.5zM425.9 438.4h25.5v4.7h-25.5zM417.5 442.7h25.5v4.7h-25.5zM405.0 447.0h29.7v4.7h-29.7zM400.8 451.3h21.3v4.7h-21.3zM400.8 455.6h8.8v4.7h-8.8z"/><path fill="#df0000" d="M405.0 360.8h17.1v4.7h-17.1zM409.2 365.1h17.1v4.7h-17.1zM417.5 369.4h13.0v4.7h-13.0zM421.7 373.7h13.0v4.7h-13.0zM425.9 378.0h13.0v4.7h-13.0zM430.1 382.4h13.0v4.7h-13.0zM434.3 386.7h8.8v4.7h-8.8zM434.3 391.0h13.0v4.7h-13.0zM438.5 395.3h13.0v4.7h-13.0zM442.6 399.6h13.0v4.7h-13.0zM446.8 403.9h13.0v4.7h-13.0zM446.8 408.2h17.1v4.7h-17.1zM451.0 412.5h17.1v4.7h-17.1zM455.2 416.8h17.1v4.7h-17.1zM455.2 421.1h21.3v4.7h-21.3zM459.4 425.4h21.3v4.7h-21.3zM459.4 429.7h25.5v4.7h-25.5zM455.2 434.0h29.7v4.7h-29.7zM451.0 438.4h33.9v4.7h-33.9zM442.6 442.7h38.1v4.7h-38.1zM434.3 447.0h33.9v4.7h-33.9zM421.7 451.3h33.9v4.7h-33.9zM409.2 455.6h33.9v4.7h-33.9zM400.8 459.9h29.7v4.7h-29.7zM400.8 464.2h13.0v4.7h-13.0z"/><path fill="#cf0000" d="M421.7 360.8h17.1v4.7h-17.1zM425.9 365.1h13.0v4.7h-13.0zM430.1 369.4h13.0v4.7h-13.0zM434.3 373.7h13.0v4.7h-13.0zM438.5 378.0h13.0v4.7h-13.0zM442.6 382.4h13.0v4.7h-13.0zM442.6 386.7h13.0v4.7h-13.0zM446.8 391.0h13.0v4.7h-13.0zM451.0 395.3h13.0v4.7h-13.0zM455.2 399.6h13.0v4.7h-13.0zM459.4 403.9h13.0v4.7h-13.0zM463.6 408.2h13.0v4.7h-13.0zM589.1 408.2h4.6v4.7h-4.6zM467.8 412.5h13.0v4.7h-13.0zM589.1 412.5h4.6v4.7h-4.6zM471.9 416.8h13.0v4.7h-13.0zM584.9 416.8h8.8v4.7h-8.8zM476.1 421.1h17.1v4.7h-17.1zM584.9 421.1h8.8v4.7h-8.8zM480.3 425.4h17.1v4.7h-17.1zM580.8 425.4h13.0v4.7h-13.0zM484.5 429.7h25.5v4.7h-25.5zM576.6 429.7h17.1v4.7h-17.1zM484.5 434.0h38.1v4.7h-38.1zM568.2 434.0h25.5v4.7h-25.5zM484.5 438.4h59.0v4.7h-59.0zM547.3 438.4h46.4v4.7h-46.4zM480.3 442.7h54.8v4.7h-54.8zM555.6 442.7h38.1v4.7h-38.1zM467.8 447.0h46.4v4.7h-46.4zM572.4 447.0h21.3v4.7h-21.3zM455.2 451.3h42.3v4.7h-42.3zM442.6 455.6h38.1v4.7h-38.1zM430.1 459.9h38.1v4.7h-38.1zM413.3 464.2h38.1v4.7h-38.1zM400.8 468.5h38.1v4.7h-38.1zM400.8 472.8h17.1v4.7h-17.1z"/><path fill="#bf0000" d="M438.5 360.8h13.0v4.7h-13.0zM438.5 365.1h17.1v4.7h-17.1zM442.6 369.4h13.0v4.7h-13.0zM446.8 373.7h13.0v4.7h-13.0zM451.0 378.0h13.0v4.7h-13.0zM455.2 382.4h8.8v4.7h-8.8zM455.2 386.7h13.0v4.7h-13.0zM589.1 386.7h4.6v4.7h-4.6zM459.4 391.0h13.0v4.7h-13.0zM589.1 391.0h4.6v4.7h-4.6zM463.6 395.3h13.0v4.7h-13.0zM589.1 395.3h4.6v4.7h-4.6zM467.8 399.6h13.0v4.7h-13.0zM584.9 399.6h8.8v4.7h-8.8zM471.9 403.9h13.0v4.7h-13.0zM584.9 403.9h8.8v4.7h-8.8zM476.1 408.2h13.0v4.7h-13.0zM580.8 408.2h8.8v4.7h-8.8zM480.3 412.5h13.0v4.7h-13.0zM580.8 412.5h8.8v4.7h-8.8zM484.5 416.8h17.1v4.7h-17.1zM576.6 416.8h8.8v4.7h-8.8zM492.9 421.1h13.0v4.7h-13.0zM576.6 421.1h8.8v4.7h-8.8zM497.1 425.4h17.1v4.7h-17.1zM572.4 425.4h8.8v4.7h-8.8zM509.6 429.7h17.1v4.7h-17.1zM564.0 429.7h13.0v4.7h-13.0zM522.2 434.0h17.1v4.7h-17.1zM555.6 434.0h13.0v4.7h-13.0zM543.1 438.4h4.6v4.7h-4.6zM534.7 442.7h8.8v4.7h-8.8zM551.5 442.7h4.6v4.7h-4.6zM513.8 447.0h21.3v4.7h-21.3zM555.6 447.0h17.1v4.7h-17.1zM497.1 451.3h29.7v4.7h-29.7zM559.8 451.3h33.9v4.7h-33.9zM480.3 455.6h38.1v4.7h-38.1zM564.0 455.6h29.7v4.7h-29.7zM467.8 459.9h38.1v4.7h-38.1zM568.2 459.9h25.5v4.7h-25.5zM451.0 464.2h42.3v4.7h-42.3zM576.6 464.2h17.1v4.7h-17.1zM438.5 468.5h38.1v4.7h-38.1zM417.5 472.8h46.4v4.7h-46.4zM400.8 477.1h46.4v4.7h-46.4zM400.8 481.4h33.9v4.7h-33.9zM400.8 485.8h13.0v4.7h-13.0zM584.9 533.1h4.6v4.7h-4.6zM572.4 537.4h13.0v4.7h-13.0zM568.2 541.8h17.1v4.7h-17.1zM559.8 546.1h21.3v4.7h-21.3zM555.6 550.4h25.5v4.7h-25.5zM551.5 554.7h25.5v4.7h-25.5zM547.3 559.0h25.5v4.7h-25.5z"/><path fill="#af0000" d="M451.0 360.8h13.0v4.7h-13.0zM584.9 360.8h8.8v4.7h-8.8zM455.2 365.1h13.0v4.7h-13.0zM584.9 365.1h8.8v4.7h-8.8zM455.2 369.4h13.0v4.7h-13.0zM584.9 369.4h8.8v4.7h-8.8zM459.4 373.7h13.0v4.7h-13.0zM580.8 373.7h13.0v4.7h-13.0zM463.6 378.0h13.0v4.7h-13.0zM580.8 378.0h13.0v4.7h-13.0zM463.6 382.4h13.0v4.7h-13.0zM580.8 382.4h13.0v4.7h-13.0zM467.8 386.7h13.0v4.7h-13.0zM580.8 386.7h8.8v4.7h-8.8zM471.9 391.0h13.0v4.7h-13.0zM580.8 391.0h8.8v4.7h-8.8zM476.1 395.3h13.0v4.7h-13.0zM576.6 395.3h13.0v4.7h-13.0zM480.3 399.6h13.0v4.7h-13.0zM576.6 399.6h8.8v4.7h-8.8zM484.5 403.9h13.0v4.7h-13.0zM576.6 403.9h8.8v4.7h-8.8zM488.7 408.2h13.0v4.7h-13.0zM576.6 408.2h4.6v4.7h-4.6zM492.9 412.5h13.0v4.7h-13.0zM572.4 412.5h8.8v4.7h-8.8zM501.2 416.8h8.8v4.7h-8.8zM572.4 416.8h4.6v4.7h-4.6zM505.4 421.1h13.0v4.7h-13.0zM568.2 421.1h8.8v4.7h-8.8zM513.8 425.4h13.0v4.7h-13.0zM564.0 425.4h8.8v4.7h-8.8zM526.3 429.7h8.8v4.7h-8.8zM559.8 429.7h4.6v4.7h-4.6zM538.9 434.0h4.6v4.7h-4.6zM551.5 434.0h4.6v4.7h-4.6zM543.1 442.7h8.8v4.7h-8.8zM534.7 447.0h21.3v4.7h-21.3zM526.3 451.3h33.9v4.7h-33.9zM518.0 455.6h46.4v4.7h-46.4zM505.4 459.9h29.7v4.7h-29.7zM547.3 459.9h21.3v4.7h-21.3zM492.9 464.2h33.9v4.7h-33.9zM547.3 464.2h29.7v4.7h-29.7zM476.1 468.5h38.1v4.7h-38.1zM551.5 468.5h42.3v4.7h-42.3zM463.6 472.8h42.3v4.7h-42.3zM551.5 472.8h42.3v4.7h-42.3zM446.8 477.1h46.4v4.7h-46.4zM551.5 477.1h42.3v4.7h-42.3zM434.3 481.4h46.4v4.7h-46.4zM555.6 481.4h38.1v4.7h-38.1zM413.3 485.8h54.8v4.7h-54.8zM555.6 485.8h38.1v4.7h-38.1zM400.8 490.1h54.8v4.7h-54.8zM555.6 490.1h38.1v4.7h-38.1zM400.8 494.4h38.1v4.7h-38.1zM555.6 494.4h38.1v4.7h-38.1zM400.8 498.7h21.3v4.7h-21.3zM551.5 498.7h42.3v4.7h-42.3zM551.5 503.0h42.3v4.7h-42.3zM551.5 507.3h42.3v4.7h-42.3zM547.3 511.6h46.4v4.7h-46.4zM547.3 515.9h46.4v4.7h-46.4zM543.1 520.2h50.6v4.7h-50.6zM538.9 524.5h54.8v4.7h-54.8zM534.7 528.8h59.0v4.7h-59.0zM534.7 533.1h50.6v4.7h-50.6zM530.5 537.4h42.3v4.7h-42.3zM526.3 541.8h42.3v4.7h-42.3zM522.2 546.1h38.1v4.7h-38.1zM518.0 550.4h38.1v4.7h-38.1zM513.8 554.7h38.1v4.7h-38.1zM509.6 559.0h38.1v4.7h-38.1z"/><path fill="#9f0000" d="M463.6 360.8h17.1v4.7h-17.1zM568.2 360.8h17.1v4.7h-17.1zM467.8 365.1h13.0v4.7h-13.0zM568.2 365.1h17.1v4.7h-17.1zM467.8 369.4h17.1v4.7h-17.1zM572.4 369.4h13.0v4.7h-13.0zM471.9 373.7h13.0v4.7h-13.0zM572.4 373.7h8.8v4.7h-8.8zM476.1 378.0h13.0v4.7h-13.0zM572.4 378.0h8.8v4.7h-8.8zM476.1 382.4h13.0v4.7h-13.0zM572.4 382.4h8.8v4.7h-8.8zM480.3 386.7h13.0v4.7h-13.0zM572.4 386.7h8.8v4.7h-8.8zM484.5 391.0h13.0v4.7h-13.0zM572.4 391.0h8.8v4.7h-8.8zM488.7 395.3h13.0v4.7h-13.0zM568.2 395.3h8.8v4.7h-8.8zM492.9 399.6h8.8v4.7h-8.8zM568.2 399.6h8.8v4.7h-8.8zM497.1 403.9h8.8v4.7h-8.8zM568.2 403.9h8.8v4.7h-8.8zM501.2 408.2h8.8v4.7h-8.8zM568.2 408.2h8.8v4.7h-8.8zM505.4 412.5h13.0v4.7h-13.0zM564.0 412.5h8.8v4.7h-8.8zM509.6 416.8h13.0v4.7h-13.0zM564.0 416.8h8.8v4.7h-8.8zM518.0 421.1h8.8v4.7h-8.8zM559.8 421.1h8.8v4.7h-8.8zM526.3 425.4h8.8v4.7h-8.8zM559.8 425.4h4.6v4.7h-4.6zM534.7 429.7h4.6v4.7h-4.6zM555.6 429.7h4.6v4.7h-4.6zM534.7 459.9h13.0v4.7h-13.0zM526.3 464.2h21.3v4.7h-21.3zM513.8 468.5h38.1v4.7h-38.1zM505.4 472.8h46.4v4.7h-46.4zM492.9 477.1h59.0v4.7h-59.0zM480.3 481.4h75.7v4.7h-75.7zM467.8 485.8h88.3v4.7h-88.3zM455.2 490.1h100.8v4.7h-100.8zM438.5 494.4h117.6v4.7h-117.6zM421.7 498.7h130.1v4.7h-130.1zM400.8 503.0h151.1v4.7h-151.1zM400.8 507.3h151.1v4.7h-151.1zM400.8 511.6h79.9v4.7h-79.9zM484.5 511.6h63.2v4.7h-63.2zM400.8 515.9h54.8v4.7h-54.8zM492.9 515.9h54.8v4.7h-54.8zM400.8 520.2h33.9v4.7h-33.9zM492.9 520.2h50.6v4.7h-50.6zM405.0 524.5h8.8v4.7h-8.8zM488.7 524.5h50.6v4.7h-50.6zM488.7 528.8h46.4v4.7h-46.4zM484.5 533.1h50.6v4.7h-50.6zM480.3 537.4h50.6v4.7h-50.6zM476.1 541.8h50.6v4.7h-50.6zM471.9 546.1h50.6v4.7h-50.6zM467.8 550.4h50.6v4.7h-50.6zM463.6 554.7h50.6v4.7h-50.6zM467.8 559.0h42.3v4.7h-42.3z"/><path fill="#8f0000" d="M480.3 360.8h21.3v4.7h-21.3zM551.5 360.8h17.1v4.7h-17.1zM480.3 365.1h21.3v4.7h-21.3zM555.6 365.1h13.0v4.7h-13.0zM484.5 369.4h17.1v4.7h-17.1zM555.6 369.4h17.1v4.7h-17.1zM484.5 373.7h17.1v4.7h-17.1zM555.6 373.7h17.1v4.7h-17.1zM488.7 378.0h17.1v4.7h-17.1zM559.8 378.0h13.0v4.7h-13.0zM488.7 382.4h17.1v4.7h-17.1zM559.8 382.4h13.0v4.7h-13.0zM492.9 386.7h13.0v4.7h-13.0zM559.8 386.7h13.0v4.7h-13.0zM497.1 391.0h13.0v4.7h-13.0zM559.8 391.0h13.0v4.7h-13.0zM501.2 395.3h13.0v4.7h-13.0zM559.8 395.3h8.8v4.7h-8.8zM501.2 399.6h13.0v4.7h-13.0zM559.8 399.6h8.8v4.7h-8.8zM505.4 403.9h13.0v4.7h-13.0zM559.8 403.9h8.8v4.7h-8.8zM509.6 408.2h13.0v4.7h-13.0zM559.8 408.2h8.8v4.7h-8.8zM518.0 412.5h8.8v4.7h-8.8zM559.8 412.5h4.6v4.7h-4.6zM522.2 416.8h8.8v4.7h-8.8zM555.6 416.8h8.8v4.7h-8.8zM526.3 421.1h8.8v4.7h-8.8zM555.6 421.1h4.6v4.7h-4.6zM534.7 425.4h4.6v4.7h-4.6zM551.5 425.4h8.8v4.7h-8.8zM538.9 429.7h4.6v4.7h-4.6zM551.5 429.7h4.6v4.7h-4.6zM543.1 434.0h8.8v4.7h-8.8zM480.3 511.6h4.6v4.7h-4.6zM455.2 515.9h38.1v4.7h-38.1zM434.3 520.2h59.0v4.7h-59.0zM413.3 524.5h75.7v4.7h-75.7zM413.3 528.8h75.7v4.7h-75.7zM421.7 533.1h63.2v4.7h-63.2zM430.1 537.4h50.6v4.7h-50.6zM438.5 541.8h38.1v4.7h-38.1zM442.6 546.1h29.7v4.7h-29.7zM451.0 550.4h17.1v4.7h-17.1zM459.4 554.7h4.6v4.7h-4.6z"/><path fill="#800000" d="M501.2 360.8h50.6v4.7h-50.6zM501.2 365.1h54.8v4.7h-54.8zM501.2 369.4h54.8v4.7h-54.8zM501.2 373.7h54.8v4.7h-54.8zM505.4 378.0h54.8v4.7h-54.8zM505.4 382.4h54.8v4.7h-54.8zM505.4 386.7h54.8v4.7h-54.8zM509.6 391.0h50.6v4.7h-50.6zM513.8 395.3h46.4v4.7h-46.4zM513.8 399.6h46.4v4.7h-46.4zM518.0 403.9h42.3v4.7h-42.3zM522.2 408.2h38.1v4.7h-38.1zM526.3 412.5h33.9v4.7h-33.9zM530.5 416.8h25.5v4.7h-25.5zM534.7 421.1h21.3v4.7h-21.3zM538.9 425.4h13.0v4.7h-13.0zM543.1 429.7h8.8v4.7h-8.8z"/><path fill="#ff0000" d="M400.8 373.7h4.6v4.7h-4.6zM400.8 378.0h13.0v4.7h-13.0zM400.8 382.4h17.1v4.7h-17.1zM409.2 386.7h13.0v4.7h-13.0zM409.2 391.0h13.0v4.7h-13.0zM413.3 395.3h13.0v4.7h-13.0zM417.5 399.6h13.0v4.7h-13.0zM417.5 403.9h17.1v4.7h-17.1zM421.7 408.2h13.0v4.7h-13.0zM421.7 412.5h17.1v4.7h-17.1zM421.7 416.8h17.1v4.7h-17.1zM421.7 421.1h17.1v4.7h-17.1zM417.5 425.4h21.3v4.7h-21.3zM413.3 429.7h21.3v4.7h-21.3zM409.2 434.0h21.3v4.7h-21.3zM400.8 438.4h25.5v4.7h-25.5zM400.8 442.7h17.1v4.7h-17.1zM400.8 447.0h4.6v4.7h-4.6z"/><path fill="#ff1000" d="M400.8 386.7h8.8v4.7h-8.8zM400.8 391.0h8.8v4.7h-8.8zM400.8 395.3h13.0v4.7h-13.0zM405.0 399.6h13.0v4.7h-13.0zM405.0 403.9h13.0v4.7h-13.0zM405.0 408.2h17.1v4.7h-17.1zM405.0 412.5h17.1v4.7h-17.1zM405.0 416.8h17.1v4.7h-17.1zM405.0 421.1h17.1v4.7h-17.1zM400.8 425.4h17.1v4.7h-17.1zM400.8 429.7h13.0v4.7h-13.0zM400.8 434.0h8.8v4.7h-8.8zM400.8 524.5h4.6v4.7h-4.6zM396.6 528.8h17.1v4.7h-17.1zM396.6 533.1h25.5v4.7h-25.5zM396.6 537.4h33.9v4.7h-33.9zM396.6 541.8h42.3v4.7h-42.3zM396.6 546.1h38.1v4.7h-38.1zM396.6 550.4h33.9v4.7h-33.9zM396.6 554.7h29.7v4.7h-29.7zM396.6 559.0h25.5v4.7h-25.5z"/><path fill="#ff2000" d="M400.8 399.6h4.6v4.7h-4.6zM400.8 403.9h4.6v4.7h-4.6zM400.8 408.2h4.6v4.7h-4.6zM400.8 412.5h4.6v4.7h-4.6zM400.8 416.8h4.6v4.7h-4.6zM400.8 421.1h4.6v4.7h-4.6zM396.6 520.2h4.6v4.7h-4.6zM593.3 520.2h4.6v4.7h-4.6zM396.6 524.5h4.6v4.7h-4.6zM434.3 546.1h8.8v4.7h-8.8zM430.1 550.4h21.3v4.7h-21.3zM425.9 554.7h29.7v4.7h-29.7zM421.7 559.0h33.9v4.7h-33.9z"/><path fill="#ff3000" d="M593.3 524.5h4.6v4.7h-4.6zM593.3 528.8h4.6v4.7h-4.6zM589.1 533.1h8.8v4.7h-8.8zM584.9 537.4h13.0v4.7h-13.0zM584.9 541.8h13.0v4.7h-13.0zM580.8 546.1h17.1v4.7h-17.1zM580.8 550.4h17.1v4.7h-17.1zM455.2 554.7h4.6v4.7h-4.6zM584.9 554.7h13.0v4.7h-13.0zM455.2 559.0h13.0v4.7h-13.0zM589.1 559.0h8.8v4.7h-8.8z"/><path fill="#ff4000" d="M576.6 554.7h8.8v4.7h-8.8zM572.4 559.0h17.1v4.7h-17.1z"/></svg>
<canvas class="hm kF1" style="left:43.2px;top:28.6px;width:201.90px;height:207.70px" width="404" height="415"></canvas>
<canvas class="cb" style="background:linear-gradient(#800000,#f00 20%,#ff0 40%,#0ff 60%,#00f 80%,#000080);left:269.3px;top:28.6px;width:32.10px;height:207.70px" width="32" height="415"></canvas>
<canvas class="hm kF2" style="left:396.6px;top:28.6px;width:200.90px;height:207.70px" width="402" height="415"></canvas>
<canvas class="cb" style="background:linear-gradient(#800000,#f00 20%,#ff0 40%,#0ff 60%,#00f 80%,#000080);left:621.9px;top:28.6px;width:32.20px;height:207.70px" width="32" height="415"></canvas>
<canvas class="hm kF3" style="left:43.2px;top:356.5px;width:201.90px;height:206.80px" width="404" height="414"></canvas>
<canvas class="cb" style="background:linear-gradient(#800000,#f00 20%,#ff0 40%,#0ff 60%,#00f 80%,#000080);left:269.3px;top:356.5px;width:32.10px;height:206.80px" width="32" height="414"></canvas>
<canvas class="hm kF" style="left:396.6px;top:356.5px;width:200.90px;height:206.80px" width="402" height="414"></canvas>
<canvas class="cb" style="background:linear-gradient(#800000,#f00 20%,#ff0 40%,#0ff 60%,#00f 80%,#000080);left:621.9px;top:356.5px;width:32.20px;height:206.80px" width="32" height="414"></canvas>
<svg width="685" height="621" viewBox="0 0 685 621">
<rect x="43.2" y="28.6" width="201.90" height="207.70" class="ax"/>
<rect x="269.3" y="28.6" width="32.10" height="207.70" class="ax"/>
<line x1="43.20" y1="236.3" x2="43.20" y2="234.3" class="tk"/>
<line x1="43.20" y1="28.6" x2="43.20" y2="30.6" class="tk"/>
<text transform="translate(52.69,255.60) scale(1.06,1)" class="tl" text-anchor="end">−20</text>
<line x1="144.15" y1="236.3" x2="144.15" y2="234.3" class="tk"/>
<line x1="144.15" y1="28.6" x2="144.15" y2="30.6" class="tk"/>
<text transform="translate(153.64,255.60) scale(1.06,1)" class="tl" text-anchor="end">−10</text>
<line x1="245.10" y1="236.3" x2="245.10" y2="234.3" class="tk"/>
<line x1="245.10" y1="28.6" x2="245.10" y2="30.6" class="tk"/>
<text transform="translate(250.00,255.60) scale(1.06,1)" class="tl" text-anchor="end">0</text>
<line x1="43.2" y1="236.30" x2="45.2" y2="236.30" class="tk"/>
<line x1="245.1" y1="236.30" x2="243.1" y2="236.30" class="tk"/>
<text transform="translate(38.90,242.80) scale(1.06,1)" class="tl" text-anchor="end">0</text>
<line x1="43.2" y1="194.76" x2="45.2" y2="194.76" class="tk"/>
<line x1="245.1" y1="194.76" x2="243.1" y2="194.76" class="tk"/>
<text transform="translate(38.90,201.26) scale(1.06,1)" class="tl" text-anchor="end">5</text>
<line x1="43.2" y1="153.22" x2="45.2" y2="153.22" class="tk"/>
<line x1="245.1" y1="153.22" x2="243.1" y2="153.22" class="tk"/>
<text transform="translate(38.90,159.72) scale(1.06,1)" class="tl" text-anchor="end">10</text>
<line x1="43.2" y1="111.68" x2="45.2" y2="111.68" class="tk"/>
<line x1="245.1" y1="111.68" x2="243.1" y2="111.68" class="tk"/>
<text transform="translate(38.90,118.18) scale(1.06,1)" class="tl" text-anchor="end">15</text>
<line x1="43.2" y1="70.14" x2="45.2" y2="70.14" class="tk"/>
<line x1="245.1" y1="70.14" x2="243.1" y2="70.14" class="tk"/>
<text transform="translate(38.90,76.64) scale(1.06,1)" class="tl" text-anchor="end">20</text>
<line x1="43.2" y1="28.60" x2="45.2" y2="28.60" class="tk"/>
<line x1="245.1" y1="28.60" x2="243.1" y2="28.60" class="tk"/>
<text transform="translate(38.90,35.10) scale(1.06,1)" class="tl" text-anchor="end">25</text>
<line x1="269.3" y1="28.60" x2="271.3" y2="28.60" class="tk"/>
<line x1="301.4" y1="28.60" x2="299.4" y2="28.60" class="tk"/>
<text transform="translate(305.50,35.00) scale(1.06,1)" class="tl">0</text>
<line x1="269.3" y1="63.22" x2="271.3" y2="63.22" class="tk"/>
<line x1="301.4" y1="63.22" x2="299.4" y2="63.22" class="tk"/>
<text transform="translate(305.50,69.62) scale(1.06,1)" class="tl">−5</text>
<line x1="269.3" y1="97.83" x2="271.3" y2="97.83" class="tk"/>
<line x1="301.4" y1="97.83" x2="299.4" y2="97.83" class="tk"/>
<text transform="translate(305.50,104.23) scale(1.06,1)" class="tl">−10</text>
<line x1="269.3" y1="132.45" x2="271.3" y2="132.45" class="tk"/>
<line x1="301.4" y1="132.45" x2="299.4" y2="132.45" class="tk"/>
<text transform="translate(305.50,138.85) scale(1.06,1)" class="tl">−15</text>
<line x1="269.3" y1="167.07" x2="271.3" y2="167.07" class="tk"/>
<line x1="301.4" y1="167.07" x2="299.4" y2="167.07" class="tk"/>
<text transform="translate(305.50,173.47) scale(1.06,1)" class="tl">−20</text>
<line x1="269.3" y1="201.68" x2="271.3" y2="201.68" class="tk"/>
<line x1="301.4" y1="201.68" x2="299.4" y2="201.68" class="tk"/>
<text transform="translate(305.50,208.08) scale(1.06,1)" class="tl">−25</text>
<line x1="269.3" y1="236.30" x2="271.3" y2="236.30" class="tk"/>
<line x1="301.4" y1="236.30" x2="299.4" y2="236.30" class="tk"/>
<text transform="translate(305.50,242.70) scale(1.06,1)" class="tl">−30</text>
<text transform="translate(284.85,255.60) scale(1.06,1)" class="tl" text-anchor="middle">dB</text>
<text x="144.15" y="273.70" class="lb" text-anchor="middle">Radar−x coordinate</text>
<text x="144.15" y="290.70" class="lb" text-anchor="middle">(a)</text>
<text transform="translate(10.30,131.85) rotate(-90)" class="lb" text-anchor="middle">Radar−y coordinate</text>
<text x="144.15" y="10.40" class="lb" text-anchor="middle">det(F<tspan class="sub" dy="7.6">1</tspan><tspan dy="-7.6">)</tspan></text>
<circle cx="194.53" cy="111.98" r="7.6" class="mk"/>
<rect x="396.6" y="28.6" width="200.90" height="207.70" class="ax"/>
<rect x="621.9" y="28.6" width="32.20" height="207.70" class="ax"/>
<line x1="396.60" y1="236.3" x2="396.60" y2="234.3" class="tk"/>
<line x1="396.60" y1="28.6" x2="396.60" y2="30.6" class="tk"/>
<text transform="translate(406.09,255.60) scale(1.06,1)" class="tl" text-anchor="end">−20</text>
<line x1="497.05" y1="236.3" x2="497.05" y2="234.3" class="tk"/>
<line x1="497.05" y1="28.6" x2="497.05" y2="30.6" class="tk"/>
<text transform="translate(506.54,255.60) scale(1.06,1)" class="tl" text-anchor="end">−10</text>
<line x1="597.50" y1="236.3" x2="597.50" y2="234.3" class="tk"/>
<line x1="597.50" y1="28.6" x2="597.50" y2="30.6" class="tk"/>
<text transform="translate(602.40,255.60) scale(1.06,1)" class="tl" text-anchor="end">0</text>
<line x1="396.6" y1="236.30" x2="398.6" y2="236.30" class="tk"/>
<line x1="597.5" y1="236.30" x2="595.5" y2="236.30" class="tk"/>
<text transform="translate(392.30,242.80) scale(1.06,1)" class="tl" text-anchor="end">0</text>
<line x1="396.6" y1="194.76" x2="398.6" y2="194.76" class="tk"/>
<line x1="597.5" y1="194.76" x2="595.5" y2="194.76" class="tk"/>
<text transform="translate(392.30,201.26) scale(1.06,1)" class="tl" text-anchor="end">5</text>
<line x1="396.6" y1="153.22" x2="398.6" y2="153.22" class="tk"/>
<line x1="597.5" y1="153.22" x2="595.5" y2="153.22" class="tk"/>
<text transform="translate(392.30,159.72) scale(1.06,1)" class="tl" text-anchor="end">10</text>
<line x1="396.6" y1="111.68" x2="398.6" y2="111.68" class="tk"/>
<line x1="597.5" y1="111.68" x2="595.5" y2="111.68" class="tk"/>
<text transform="translate(392.30,118.18) scale(1.06,1)" class="tl" text-anchor="end">15</text>
<line x1="396.6" y1="70.14" x2="398.6" y2="70.14" class="tk"/>
<line x1="597.5" y1="70.14" x2="595.5" y2="70.14" class="tk"/>
<text transform="translate(392.30,76.64) scale(1.06,1)" class="tl" text-anchor="end">20</text>
<line x1="396.6" y1="28.60" x2="398.6" y2="28.60" class="tk"/>
<line x1="597.5" y1="28.60" x2="595.5" y2="28.60" class="tk"/>
<text transform="translate(392.30,35.10) scale(1.06,1)" class="tl" text-anchor="end">25</text>
<line x1="621.9" y1="28.60" x2="623.9" y2="28.60" class="tk"/>
<line x1="654.1" y1="28.60" x2="652.1" y2="28.60" class="tk"/>
<text transform="translate(658.20,35.00) scale(1.06,1)" class="tl">0</text>
<line x1="621.9" y1="63.22" x2="623.9" y2="63.22" class="tk"/>
<line x1="654.1" y1="63.22" x2="652.1" y2="63.22" class="tk"/>
<text transform="translate(658.20,69.62) scale(1.06,1)" class="tl">−5</text>
<line x1="621.9" y1="97.83" x2="623.9" y2="97.83" class="tk"/>
<line x1="654.1" y1="97.83" x2="652.1" y2="97.83" class="tk"/>
<text transform="translate(658.20,104.23) scale(1.06,1)" class="tl">−10</text>
<line x1="621.9" y1="132.45" x2="623.9" y2="132.45" class="tk"/>
<line x1="654.1" y1="132.45" x2="652.1" y2="132.45" class="tk"/>
<text transform="translate(658.20,138.85) scale(1.06,1)" class="tl">−15</text>
<line x1="621.9" y1="167.07" x2="623.9" y2="167.07" class="tk"/>
<line x1="654.1" y1="167.07" x2="652.1" y2="167.07" class="tk"/>
<text transform="translate(658.20,173.47) scale(1.06,1)" class="tl">−20</text>
<line x1="621.9" y1="201.68" x2="623.9" y2="201.68" class="tk"/>
<line x1="654.1" y1="201.68" x2="652.1" y2="201.68" class="tk"/>
<text transform="translate(658.20,208.08) scale(1.06,1)" class="tl">−25</text>
<line x1="621.9" y1="236.30" x2="623.9" y2="236.30" class="tk"/>
<line x1="654.1" y1="236.30" x2="652.1" y2="236.30" class="tk"/>
<text transform="translate(658.20,242.70) scale(1.06,1)" class="tl">−30</text>
<text transform="translate(637.50,255.60) scale(1.06,1)" class="tl" text-anchor="middle">dB</text>
<text x="497.05" y="273.70" class="lb" text-anchor="middle">Radar−x coordinate</text>
<text x="497.05" y="290.70" class="lb" text-anchor="middle">(b)</text>
<text transform="translate(363.70,131.85) rotate(-90)" class="lb" text-anchor="middle">Radar−y coordinate</text>
<text x="497.05" y="10.40" class="lb" text-anchor="middle">det(F<tspan class="sub" dy="7.6">2</tspan><tspan dy="-7.6">)</tspan></text>
<circle cx="547.17" cy="111.98" r="7.6" class="mk"/>
<rect x="43.2" y="356.5" width="201.90" height="206.80" class="ax"/>
<rect x="269.3" y="356.5" width="32.10" height="206.80" class="ax"/>
<line x1="43.20" y1="563.3" x2="43.20" y2="561.3" class="tk"/>
<line x1="43.20" y1="356.5" x2="43.20" y2="358.5" class="tk"/>
<text transform="translate(52.69,582.60) scale(1.06,1)" class="tl" text-anchor="end">−20</text>
<line x1="144.15" y1="563.3" x2="144.15" y2="561.3" class="tk"/>
<line x1="144.15" y1="356.5" x2="144.15" y2="358.5" class="tk"/>
<text transform="translate(153.64,582.60) scale(1.06,1)" class="tl" text-anchor="end">−10</text>
<line x1="245.10" y1="563.3" x2="245.10" y2="561.3" class="tk"/>
<line x1="245.10" y1="356.5" x2="245.10" y2="358.5" class="tk"/>
<text transform="translate(250.00,582.60) scale(1.06,1)" class="tl" text-anchor="end">0</text>
<line x1="43.2" y1="563.30" x2="45.2" y2="563.30" class="tk"/>
<line x1="245.1" y1="563.30" x2="243.1" y2="563.30" class="tk"/>
<text transform="translate(38.90,569.80) scale(1.06,1)" class="tl" text-anchor="end">0</text>
<line x1="43.2" y1="521.94" x2="45.2" y2="521.94" class="tk"/>
<line x1="245.1" y1="521.94" x2="243.1" y2="521.94" class="tk"/>
<text transform="translate(38.90,528.44) scale(1.06,1)" class="tl" text-anchor="end">5</text>
<line x1="43.2" y1="480.58" x2="45.2" y2="480.58" class="tk"/>
<line x1="245.1" y1="480.58" x2="243.1" y2="480.58" class="tk"/>
<text transform="translate(38.90,487.08) scale(1.06,1)" class="tl" text-anchor="end">10</text>
<line x1="43.2" y1="439.22" x2="45.2" y2="439.22" class="tk"/>
<line x1="245.1" y1="439.22" x2="243.1" y2="439.22" class="tk"/>
<text transform="translate(38.90,445.72) scale(1.06,1)" class="tl" text-anchor="end">15</text>
<line x1="43.2" y1="397.86" x2="45.2" y2="397.86" class="tk"/>
<line x1="245.1" y1="397.86" x2="243.1" y2="397.86" class="tk"/>
<text transform="translate(38.90,404.36) scale(1.06,1)" class="tl" text-anchor="end">20</text>
<line x1="43.2" y1="356.50" x2="45.2" y2="356.50" class="tk"/>
<line x1="245.1" y1="356.50" x2="243.1" y2="356.50" class="tk"/>
<text transform="translate(38.90,363.00) scale(1.06,1)" class="tl" text-anchor="end">25</text>
<line x1="269.3" y1="356.50" x2="271.3" y2="356.50" class="tk"/>
<line x1="301.4" y1="356.50" x2="299.4" y2="356.50" class="tk"/>
<text transform="translate(305.50,362.90) scale(1.06,1)" class="tl">0</text>
<line x1="269.3" y1="390.97" x2="271.3" y2="390.97" class="tk"/>
<line x1="301.4" y1="390.97" x2="299.4" y2="390.97" class="tk"/>
<text transform="translate(305.50,397.37) scale(1.06,1)" class="tl">−5</text>
<line x1="269.3" y1="425.43" x2="271.3" y2="425.43" class="tk"/>
<line x1="301.4" y1="425.43" x2="299.4" y2="425.43" class="tk"/>
<text transform="translate(305.50,431.83) scale(1.06,1)" class="tl">−10</text>
<line x1="269.3" y1="459.90" x2="271.3" y2="459.90" class="tk"/>
<line x1="301.4" y1="459.90" x2="299.4" y2="459.90" class="tk"/>
<text transform="translate(305.50,466.30) scale(1.06,1)" class="tl">−15</text>
<line x1="269.3" y1="494.37" x2="271.3" y2="494.37" class="tk"/>
<line x1="301.4" y1="494.37" x2="299.4" y2="494.37" class="tk"/>
<text transform="translate(305.50,500.77) scale(1.06,1)" class="tl">−20</text>
<line x1="269.3" y1="528.83" x2="271.3" y2="528.83" class="tk"/>
<line x1="301.4" y1="528.83" x2="299.4" y2="528.83" class="tk"/>
<text transform="translate(305.50,535.23) scale(1.06,1)" class="tl">−25</text>
<line x1="269.3" y1="563.30" x2="271.3" y2="563.30" class="tk"/>
<line x1="301.4" y1="563.30" x2="299.4" y2="563.30" class="tk"/>
<text transform="translate(305.50,569.70) scale(1.06,1)" class="tl">−30</text>
<text transform="translate(284.85,582.60) scale(1.06,1)" class="tl" text-anchor="middle">dB</text>
<text x="144.15" y="600.70" class="lb" text-anchor="middle">Radar−x coordinate</text>
<text x="144.15" y="617.70" class="lb" text-anchor="middle">(c)</text>
<text transform="translate(10.30,459.30) rotate(-90)" class="lb" text-anchor="middle">Radar−y coordinate</text>
<text x="144.15" y="338.30" class="lb" text-anchor="middle">det(F<tspan class="sub" dy="7.6">3</tspan><tspan dy="-7.6">)</tspan></text>
<circle cx="194.53" cy="439.52" r="7.6" class="mk"/>
<rect x="396.6" y="356.5" width="200.90" height="206.80" class="ax"/>
<rect x="621.9" y="356.5" width="32.20" height="206.80" class="ax"/>
<line x1="396.60" y1="563.3" x2="396.60" y2="561.3" class="tk"/>
<line x1="396.60" y1="356.5" x2="396.60" y2="358.5" class="tk"/>
<text transform="translate(406.09,582.60) scale(1.06,1)" class="tl" text-anchor="end">−20</text>
<line x1="497.05" y1="563.3" x2="497.05" y2="561.3" class="tk"/>
<line x1="497.05" y1="356.5" x2="497.05" y2="358.5" class="tk"/>
<text transform="translate(506.54,582.60) scale(1.06,1)" class="tl" text-anchor="end">−10</text>
<line x1="597.50" y1="563.3" x2="597.50" y2="561.3" class="tk"/>
<line x1="597.50" y1="356.5" x2="597.50" y2="358.5" class="tk"/>
<text transform="translate(602.40,582.60) scale(1.06,1)" class="tl" text-anchor="end">0</text>
<line x1="396.6" y1="563.30" x2="398.6" y2="563.30" class="tk"/>
<line x1="597.5" y1="563.30" x2="595.5" y2="563.30" class="tk"/>
<text transform="translate(392.30,569.80) scale(1.06,1)" class="tl" text-anchor="end">0</text>
<line x1="396.6" y1="521.94" x2="398.6" y2="521.94" class="tk"/>
<line x1="597.5" y1="521.94" x2="595.5" y2="521.94" class="tk"/>
<text transform="translate(392.30,528.44) scale(1.06,1)" class="tl" text-anchor="end">5</text>
<line x1="396.6" y1="480.58" x2="398.6" y2="480.58" class="tk"/>
<line x1="597.5" y1="480.58" x2="595.5" y2="480.58" class="tk"/>
<text transform="translate(392.30,487.08) scale(1.06,1)" class="tl" text-anchor="end">10</text>
<line x1="396.6" y1="439.22" x2="398.6" y2="439.22" class="tk"/>
<line x1="597.5" y1="439.22" x2="595.5" y2="439.22" class="tk"/>
<text transform="translate(392.30,445.72) scale(1.06,1)" class="tl" text-anchor="end">15</text>
<line x1="396.6" y1="397.86" x2="398.6" y2="397.86" class="tk"/>
<line x1="597.5" y1="397.86" x2="595.5" y2="397.86" class="tk"/>
<text transform="translate(392.30,404.36) scale(1.06,1)" class="tl" text-anchor="end">20</text>
<line x1="396.6" y1="356.50" x2="398.6" y2="356.50" class="tk"/>
<line x1="597.5" y1="356.50" x2="595.5" y2="356.50" class="tk"/>
<text transform="translate(392.30,363.00) scale(1.06,1)" class="tl" text-anchor="end">25</text>
<line x1="621.9" y1="356.50" x2="623.9" y2="356.50" class="tk"/>
<line x1="654.1" y1="356.50" x2="652.1" y2="356.50" class="tk"/>
<text transform="translate(658.20,362.90) scale(1.06,1)" class="tl">0</text>
<line x1="621.9" y1="390.97" x2="623.9" y2="390.97" class="tk"/>
<line x1="654.1" y1="390.97" x2="652.1" y2="390.97" class="tk"/>
<text transform="translate(658.20,397.37) scale(1.06,1)" class="tl">−5</text>
<line x1="621.9" y1="425.43" x2="623.9" y2="425.43" class="tk"/>
<line x1="654.1" y1="425.43" x2="652.1" y2="425.43" class="tk"/>
<text transform="translate(658.20,431.83) scale(1.06,1)" class="tl">−10</text>
<line x1="621.9" y1="459.90" x2="623.9" y2="459.90" class="tk"/>
<line x1="654.1" y1="459.90" x2="652.1" y2="459.90" class="tk"/>
<text transform="translate(658.20,466.30) scale(1.06,1)" class="tl">−15</text>
<line x1="621.9" y1="494.37" x2="623.9" y2="494.37" class="tk"/>
<line x1="654.1" y1="494.37" x2="652.1" y2="494.37" class="tk"/>
<text transform="translate(658.20,500.77) scale(1.06,1)" class="tl">−20</text>
<line x1="621.9" y1="528.83" x2="623.9" y2="528.83" class="tk"/>
<line x1="654.1" y1="528.83" x2="652.1" y2="528.83" class="tk"/>
<text transform="translate(658.20,535.23) scale(1.06,1)" class="tl">−25</text>
<line x1="621.9" y1="563.30" x2="623.9" y2="563.30" class="tk"/>
<line x1="654.1" y1="563.30" x2="652.1" y2="563.30" class="tk"/>
<text transform="translate(658.20,569.70) scale(1.06,1)" class="tl">−30</text>
<text transform="translate(637.50,582.60) scale(1.06,1)" class="tl" text-anchor="middle">dB</text>
<text x="497.05" y="600.70" class="lb" text-anchor="middle">Radar−x coordinate</text>
<text x="497.05" y="617.70" class="lb" text-anchor="middle">(d)</text>
<text transform="translate(363.70,459.30) rotate(-90)" class="lb" text-anchor="middle">Radar−y coordinate</text>
<text x="497.05" y="344.50" class="lb" text-anchor="middle">det(F)</text>
<circle cx="547.17" cy="439.52" r="7.6" class="mk"/>
</svg>
<script>
(function(){
function jet(m){var n=Math.ceil(m/4),u=[],i;for(i=1;i<=n;i++)u.push(i/n);for(i=1;i<n;i++)u.push(1);for(i=n;i>=1;i--)u.push(i/n);
var off=Math.ceil(n/2)-((m%4)==1?1:0),J=[];for(i=0;i<m;i++)J.push([0,0,0]);
var g=[],r=[],b=[];for(i=1;i<=u.length;i++){var gg=off+i;if(gg<=m)g.push(gg);if(gg+n<=m)r.push(gg+n);if(gg-n>=1)b.push(gg-n);}
for(i=0;i<r.length;i++)J[r[i]-1][0]=u[i];for(i=0;i<g.length;i++)J[g[i]-1][1]=u[i];
for(i=0;i<b.length;i++)J[b[i]-1][2]=u[u.length-b.length+i];
return J.map(function(c){return [Math.round(c[0]*255),Math.round(c[1]*255),Math.round(c[2]*255)];});}
var J=jet(64);
var TX=-5,TY=15,DMAX=146.66;
function s2(ax,ay,bx,by){var c=ax*by-ay*bx;return c*c/((ax*ax+ay*ay)*(bx*bx+by*by));}
function val(k,x,y){
  var ux=x-TX,uy=y-TY,d;
  if(k=='F1'){ if(x>-0.41&&y>5.05)return null; if(y<5+2*x||x>-0.41)return -99; return 10*Math.log10(s2(ux,uy,-x-TX,uy)); }
  if(k=='F2'){ if(y>24.5)return null; return 10*Math.log10(s2(ux,uy,ux,50-y-TY)); }
  if(k=='F3'){ if(x<-19.59&&y>5.0)return null; if(y<5-2/3*(x+20)||x<-19.59)return -99; return 10*Math.log10(s2(ux,uy,-40-x-TX,uy)); }
  if(k=='F'){
    if(y>24.58)return null; if((x>-0.41||x<-19.65)&&y>5.0)return null;
    var l0=Math.hypot(ux,uy),ax=ux/l0,ay=uy/l0;
    var G=[[ax,ay,4]];
    var M=[[ux,50-y-TY]];
    if(!(y<5+2*x||x>-0.41)) M.push([-x-TX,uy]);
    if(!(y<5-2/3*(x+20)||x<-19.65)) M.push([-40-x-TX,uy]);
    for(var i=0;i<M.length;i++){var l=Math.hypot(M[i][0],M[i][1]),bx=M[i][0]/l,by=M[i][1]/l;G.push([ax+bx,ay+by,1]);G.push([bx,by,4]);}
    var a=0,b=0,c=0;for(i=0;i<G.length;i++){var w=G[i][2],px=G[i][0],py=G[i][1];a+=w*px*px;b+=w*px*py;c+=w*py*py;}
    return 10*Math.log10((a*c-b*b)/DMAX);
  }
}
var cs=document.querySelectorAll('canvas.hm');
for(var ci=0;ci<cs.length;ci++){
  var cv=cs[ci],k=cv.className.split(' ')[1].substring(1),w=cv.width,h=cv.height,ctx=cv.getContext('2d'),im=ctx.createImageData(w,h),D=im.data;
  for(var j=0;j<h;j++)for(var i=0;i<w;i++){
    var x=-20+(i+0.5)/w*20,y=25-(j+0.5)/h*25,v=val(k,x,y),o=(j*w+i)*4,col;
    if(v===null){col=[255,255,255];}else{var t=Math.floor((v+30)/30*64);if(t<0)t=0;if(t>63)t=63;col=J[t];}
    D[o]=col[0];D[o+1]=col[1];D[o+2]=col[2];D[o+3]=255;
  }
  ctx.putImageData(im,0,0);
}
var cb=document.querySelectorAll('canvas.cb');
for(var ci=0;ci<cb.length;ci++){
  var cv=cb[ci],ctx=cv.getContext('2d'),h=cv.height,w=cv.width;
  for(var j=0;j<h;j++){var t=Math.floor((1-(j+0.5)/h)*64);if(t>63)t=63;if(t<0)t=0;var c=J[t];ctx.fillStyle='rgb('+c[0]+','+c[1]+','+c[2]+')';ctx.fillRect(0,j,w,1);}
}
})();
</script>
</body></html>
